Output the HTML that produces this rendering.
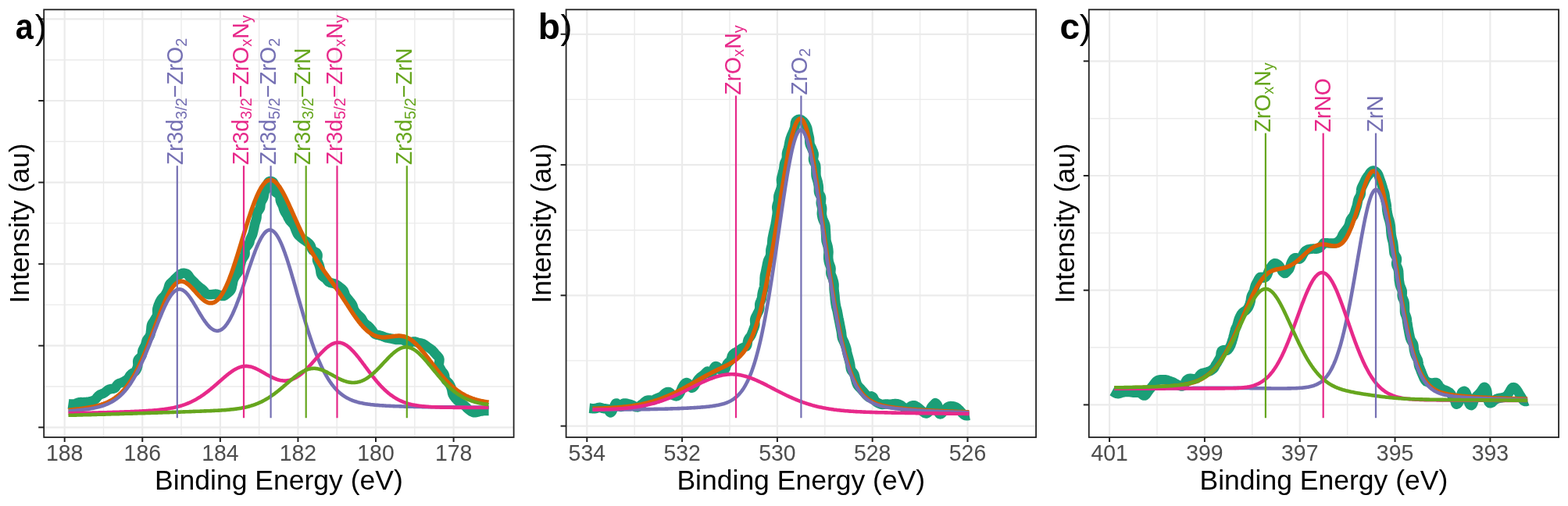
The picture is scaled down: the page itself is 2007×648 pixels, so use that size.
<!DOCTYPE html>
<html><head><meta charset="utf-8"><title>XPS fits</title>
<style>html,body{margin:0;padding:0;background:#fff;width:2007px;height:648px;overflow:hidden}
svg text{font-family:'Liberation Sans', sans-serif}</style></head>
<body>
<svg width="2007" height="648" viewBox="0 0 2007 648" style="display:block">
<rect x="0" y="0" width="2007" height="648" fill="#fff"/>
<defs><clipPath id="clipa"><rect x="56.2" y="12.3" width="601.4" height="547.7"/></clipPath></defs>
<g><line x1="56.2" x2="657.6" y1="495.0" y2="495.0" stroke="#EBEBEB" stroke-width="1.4"/><line x1="56.2" x2="657.6" y1="390.4" y2="390.4" stroke="#EBEBEB" stroke-width="1.4"/><line x1="56.2" x2="657.6" y1="285.9" y2="285.9" stroke="#EBEBEB" stroke-width="1.4"/><line x1="56.2" x2="657.6" y1="181.3" y2="181.3" stroke="#EBEBEB" stroke-width="1.4"/><line x1="56.2" x2="657.6" y1="76.7" y2="76.7" stroke="#EBEBEB" stroke-width="1.4"/><line x1="132.49" x2="132.49" y1="12.3" y2="560.0" stroke="#EBEBEB" stroke-width="1.4"/><line x1="232.07" x2="232.07" y1="12.3" y2="560.0" stroke="#EBEBEB" stroke-width="1.4"/><line x1="331.65" x2="331.65" y1="12.3" y2="560.0" stroke="#EBEBEB" stroke-width="1.4"/><line x1="431.23" x2="431.23" y1="12.3" y2="560.0" stroke="#EBEBEB" stroke-width="1.4"/><line x1="530.81" x2="530.81" y1="12.3" y2="560.0" stroke="#EBEBEB" stroke-width="1.4"/><line x1="56.2" x2="657.6" y1="547.3" y2="547.3" stroke="#EBEBEB" stroke-width="2.2"/><line x1="56.2" x2="657.6" y1="442.7" y2="442.7" stroke="#EBEBEB" stroke-width="2.2"/><line x1="56.2" x2="657.6" y1="338.1" y2="338.1" stroke="#EBEBEB" stroke-width="2.2"/><line x1="56.2" x2="657.6" y1="233.6" y2="233.6" stroke="#EBEBEB" stroke-width="2.2"/><line x1="56.2" x2="657.6" y1="129.0" y2="129.0" stroke="#EBEBEB" stroke-width="2.2"/><line x1="56.2" x2="657.6" y1="24.4" y2="24.4" stroke="#EBEBEB" stroke-width="2.2"/><line x1="82.7" x2="82.7" y1="12.3" y2="560.0" stroke="#EBEBEB" stroke-width="2.2"/><line x1="182.28" x2="182.28" y1="12.3" y2="560.0" stroke="#EBEBEB" stroke-width="2.2"/><line x1="281.86" x2="281.86" y1="12.3" y2="560.0" stroke="#EBEBEB" stroke-width="2.2"/><line x1="381.44" x2="381.44" y1="12.3" y2="560.0" stroke="#EBEBEB" stroke-width="2.2"/><line x1="481.02" x2="481.02" y1="12.3" y2="560.0" stroke="#EBEBEB" stroke-width="2.2"/><line x1="580.6" x2="580.6" y1="12.3" y2="560.0" stroke="#EBEBEB" stroke-width="2.2"/></g>
<g clip-path="url(#clipa)" fill="none" stroke-linejoin="round">
<path d="M87.5,517.2 L88.2,517.3 L89.0,517.4 L90.0,517.5 L91.1,517.6 L92.3,517.6 L93.6,517.6 L94.8,517.5 L96.0,517.1 L97.3,516.7 L98.5,516.1 L99.9,515.6 L101.2,515.3 L102.6,515.1 L104.0,515.1 L105.3,515.2 L106.5,515.2 L107.7,515.1 L108.9,515.1 L110.0,515.0 L111.1,514.8 L112.3,514.7 L113.4,514.6 L114.5,514.4 L115.7,514.1 L116.9,513.8 L118.2,513.4 L119.4,512.9 L120.7,512.3 L121.8,511.5 L122.8,510.6 L123.7,509.6 L124.4,508.6 L125.1,507.8 L125.7,507.2 L126.2,506.8 L126.7,506.4 L127.1,506.1 L127.6,505.7 L128.3,505.3 L129.2,504.9 L130.4,504.4 L132.0,503.8 L133.6,503.0 L135.2,501.8 L136.7,500.5 L138.2,499.4 L139.8,498.6 L141.3,498.2 L142.6,498.0 L143.6,497.9 L144.4,497.8 L145.0,497.7 L145.7,497.6 L146.4,497.3 L147.2,496.7 L148.1,495.7 L149.0,494.2 L150.2,492.7 L150.9,492.0 L151.8,491.4 L152.8,490.9 L153.9,490.5 L155.0,490.2 L156.1,489.8 L157.2,489.3 L158.2,488.8 L159.2,488.2 L160.2,487.6 L161.0,487.1 L161.9,486.5 L163.4,485.2 L164.7,483.6 L165.7,481.9 L166.8,480.3 L168.2,479.0 L169.8,477.9 L171.6,476.8 L172.4,476.1 L173.2,475.4 L173.9,474.5 L174.5,473.6 L175.0,472.5 L175.5,471.5 L175.8,470.3 L176.2,469.2 L176.3,467.9 L176.4,466.6 L176.3,465.3 L176.2,464.0 L176.2,462.7 L176.4,461.5 L176.9,460.5 L177.7,459.5 L178.5,458.6 L179.4,457.8 L180.3,456.9 L181.0,456.1 L181.5,455.1 L181.8,454.1 L182.0,453.1 L182.1,452.0 L182.2,451.0 L182.3,449.9 L182.9,448.0 L183.8,446.2 L184.7,444.5 L185.6,442.9 L186.3,441.2 L186.7,439.5 L187.1,437.9 L187.6,436.3 L188.3,434.9 L189.4,433.4 L190.6,432.0 L191.7,430.3 L192.1,429.3 L192.5,428.2 L192.7,427.1 L192.8,426.0 L193.0,424.7 L193.1,423.5 L193.3,422.3 L193.4,421.1 L193.5,419.8 L193.6,418.5 L193.8,417.3 L194.1,416.1 L194.5,414.9 L195.1,413.9 L195.8,412.8 L196.5,411.8 L197.2,410.8 L197.8,409.8 L198.4,408.8 L199.0,407.8 L199.6,406.8 L200.1,405.7 L200.6,404.7 L201.0,403.6 L201.2,402.5 L201.3,401.4 L201.3,400.2 L201.2,399.0 L201.2,397.9 L201.2,396.8 L201.3,395.7 L201.5,394.7 L201.8,393.7 L202.1,392.7 L202.7,390.8 L203.5,389.0 L204.2,387.2 L205.1,385.5 L206.0,383.9 L207.0,382.5 L208.2,381.1 L209.5,379.8 L210.7,378.6 L211.6,377.4 L212.4,376.1 L213.1,374.9 L213.7,373.6 L214.3,372.3 L214.8,370.9 L215.3,369.5 L215.7,368.0 L216.1,366.5 L216.6,365.1 L217.4,363.8 L218.3,362.7 L219.3,361.8 L220.2,360.9 L221.1,360.1 L221.9,359.3 L222.6,358.6 L223.3,357.8 L224.0,357.2 L224.7,356.5 L225.3,355.9 L225.9,355.3 L226.5,354.7 L227.1,354.2 L227.7,353.6 L228.3,353.0 L229.0,352.5 L229.6,352.0 L230.3,351.6 L230.9,351.2 L231.5,350.9 L232.1,350.6 L232.6,350.3 L233.2,350.0 L233.9,349.9 L234.7,349.8 L235.6,349.8 L236.6,349.9 L237.6,350.2 L238.8,350.6 L239.9,351.4 L240.9,352.4 L241.9,353.7 L242.7,355.0 L243.6,356.3 L244.5,357.4 L245.5,358.4 L246.6,359.4 L247.8,360.5 L248.9,361.7 L250.1,362.9 L251.2,364.1 L252.3,365.2 L253.4,366.1 L254.4,367.0 L255.4,367.8 L256.4,368.6 L257.4,369.3 L258.3,370.0 L259.2,370.7 L260.0,371.4 L260.7,372.2 L261.4,372.9 L261.9,373.7 L262.4,374.3 L262.9,374.9 L263.4,375.5 L263.9,375.9 L264.6,376.4 L265.5,376.7 L266.5,377.0 L267.8,377.2 L269.2,377.2 L270.6,377.2 L272.1,377.1 L273.6,376.8 L275.0,376.7 L276.3,376.6 L277.6,376.8 L278.8,377.1 L279.9,377.5 L280.9,377.9 L281.8,378.3 L282.6,378.7 L283.4,378.9 L284.1,379.1 L284.7,379.1 L285.3,379.1 L285.9,379.1 L286.4,379.0 L286.9,378.8 L287.4,378.6 L288.0,378.2 L288.7,377.7 L289.5,377.1 L290.4,376.3 L291.4,375.5 L292.5,374.7 L293.6,373.7 L294.6,372.6 L295.5,371.4 L296.1,370.1 L296.6,368.7 L296.9,367.1 L297.2,365.6 L297.6,364.0 L297.9,362.4 L298.2,360.7 L298.6,359.1 L299.1,357.6 L299.8,356.1 L300.6,354.7 L301.4,353.3 L302.3,352.0 L303.3,350.6 L304.3,349.3 L305.3,347.8 L306.2,346.2 L306.8,344.3 L307.0,343.3 L307.2,342.3 L307.3,341.2 L307.5,340.1 L307.7,339.0 L308.0,337.9 L308.3,336.8 L308.6,335.7 L308.9,334.7 L309.3,333.6 L309.7,332.6 L310.2,331.6 L310.8,330.7 L311.4,329.8 L312.0,328.9 L312.5,328.0 L313.0,327.1 L313.4,326.1 L313.6,325.1 L313.6,324.0 L313.6,322.9 L313.5,321.8 L313.6,319.8 L314.2,318.0 L315.2,316.4 L316.3,315.1 L317.2,314.0 L317.9,313.1 L318.4,312.3 L318.8,311.5 L319.2,310.7 L319.5,309.8 L319.7,308.7 L320.0,307.4 L320.5,305.9 L321.3,304.2 L322.2,302.4 L322.6,301.4 L323.1,300.4 L323.4,299.4 L323.7,298.4 L323.9,297.3 L324.2,296.3 L324.4,295.3 L324.6,294.2 L324.8,293.2 L325.0,292.3 L325.5,290.3 L325.9,288.4 L326.3,286.5 L326.9,284.6 L327.5,282.7 L328.1,280.8 L328.5,278.8 L328.6,277.8 L328.6,276.8 L328.7,275.7 L328.8,274.7 L328.9,273.7 L329.2,272.7 L329.6,271.7 L330.1,270.8 L330.7,270.0 L331.3,269.1 L331.9,268.2 L332.5,267.3 L332.9,266.4 L333.2,265.4 L333.3,264.3 L333.4,263.3 L333.5,262.2 L333.6,261.2 L333.8,260.1 L334.1,259.1 L334.5,258.1 L335.0,257.2 L335.6,256.2 L336.2,255.3 L336.7,254.3 L337.1,253.4 L337.5,252.4 L337.7,251.3 L337.8,250.3 L338.0,249.3 L338.3,247.3 L338.8,245.6 L339.5,244.1 L340.2,242.7 L340.8,241.3 L341.3,240.0 L341.6,238.7 L341.8,237.5 L342.0,236.3 L342.3,235.2 L342.8,234.3 L343.3,233.5 L344.1,232.8 L345.0,232.3 L346.0,232.0 L347.1,232.0 L348.2,232.4 L349.2,233.0 L350.0,233.9 L350.6,235.0 L351.1,236.3 L351.5,237.7 L351.6,239.2 L351.4,240.9 L351.3,242.5 L351.4,243.8 L351.7,245.0 L352.4,245.9 L353.2,246.6 L354.3,247.3 L355.4,247.9 L356.5,248.6 L357.4,249.5 L358.0,250.5 L358.4,251.7 L358.5,253.1 L358.6,254.5 L358.7,255.9 L359.0,257.3 L359.5,258.7 L360.1,260.1 L360.9,261.6 L361.7,263.3 L362.1,264.3 L362.4,265.3 L362.7,266.4 L363.0,267.5 L363.4,268.6 L363.8,269.7 L364.3,270.7 L364.8,271.7 L365.4,272.6 L366.0,273.6 L367.1,275.2 L367.8,276.7 L368.3,277.8 L368.6,278.5 L368.9,279.0 L369.1,279.4 L369.4,279.8 L369.7,280.3 L370.1,281.1 L370.7,282.2 L371.8,283.6 L372.6,284.4 L373.4,285.2 L374.3,286.2 L375.2,287.1 L375.9,288.2 L376.5,289.3 L377.0,290.5 L377.5,291.7 L377.9,292.8 L378.3,294.0 L378.8,295.0 L379.1,296.0 L379.9,297.7 L380.5,299.1 L381.2,300.2 L381.9,301.2 L382.6,301.9 L383.4,302.6 L384.2,303.3 L385.1,304.1 L386.0,304.9 L387.0,305.7 L388.1,306.5 L389.3,307.3 L390.5,308.1 L391.8,309.0 L393.0,309.8 L394.2,310.7 L395.2,311.7 L396.2,312.6 L396.9,313.6 L397.6,314.6 L398.0,315.7 L398.4,316.8 L398.8,317.9 L399.3,319.1 L399.9,320.1 L400.7,321.0 L401.8,321.8 L403.0,322.4 L404.3,323.1 L405.4,323.9 L406.2,325.1 L406.6,326.4 L406.6,327.9 L406.4,329.4 L406.1,330.7 L405.9,332.0 L406.0,333.3 L406.4,334.5 L406.9,335.7 L407.5,337.0 L408.1,338.2 L408.5,339.4 L408.9,340.7 L409.3,342.1 L409.6,343.4 L409.9,344.8 L410.2,346.1 L410.3,347.4 L410.5,348.7 L410.7,349.9 L411.1,351.0 L411.5,352.1 L412.1,353.1 L412.9,353.9 L413.8,354.6 L414.6,355.2 L415.4,355.7 L416.1,356.2 L416.7,356.6 L417.2,357.0 L417.7,357.5 L418.0,358.0 L418.4,358.5 L418.8,359.0 L419.3,359.7 L419.8,360.3 L420.5,360.8 L421.2,361.2 L421.9,361.6 L422.6,361.9 L423.3,362.1 L423.9,362.3 L424.5,362.4 L425.2,362.6 L425.9,362.8 L426.7,362.9 L427.4,363.1 L428.2,363.3 L429.0,363.6 L429.7,364.0 L430.5,364.4 L431.3,365.0 L432.1,365.6 L433.0,366.2 L433.8,367.0 L434.8,367.7 L435.8,368.5 L436.8,369.3 L437.9,370.1 L438.9,371.1 L439.8,372.2 L440.4,373.5 L441.0,374.9 L441.5,376.5 L442.0,378.0 L442.8,379.5 L443.8,380.8 L444.9,382.2 L446.1,383.6 L447.3,385.1 L448.5,386.6 L449.7,388.2 L450.7,389.7 L451.5,391.3 L452.0,392.9 L452.5,394.4 L452.9,395.7 L453.4,396.9 L454.1,398.0 L454.8,399.1 L455.6,400.1 L456.5,401.2 L457.5,402.3 L458.6,403.4 L459.8,404.5 L461.0,405.6 L462.1,406.8 L463.1,408.1 L463.9,409.5 L464.6,410.9 L465.3,412.1 L466.0,413.2 L466.8,414.0 L467.7,414.8 L468.6,415.4 L469.4,416.1 L470.3,416.7 L471.2,417.3 L472.0,418.1 L472.9,418.9 L473.8,419.8 L474.6,420.8 L475.4,421.8 L476.2,422.8 L476.8,423.8 L477.4,424.8 L478.0,425.8 L478.6,426.6 L479.4,427.3 L480.2,427.9 L481.1,428.3 L482.0,428.6 L482.9,428.8 L483.8,429.0 L484.7,429.2 L485.7,429.4 L486.7,429.7 L487.7,430.0 L488.7,430.3 L489.8,430.7 L490.8,431.1 L491.8,431.5 L492.7,431.9 L493.7,432.2 L494.7,432.5 L495.7,432.7 L496.7,432.9 L497.6,433.1 L498.6,433.2 L499.5,433.4 L500.5,433.6 L501.4,433.7 L502.3,433.9 L503.3,434.2 L504.2,434.4 L505.2,434.6 L506.3,434.8 L507.4,435.0 L508.6,435.1 L509.9,435.1 L511.5,435.0 L513.1,435.0 L514.6,435.1 L516.1,435.5 L517.3,436.1 L518.5,436.7 L519.5,437.2 L520.4,437.6 L521.2,437.8 L521.9,437.9 L522.6,438.0 L523.3,438.0 L523.9,438.0 L524.6,438.0 L525.3,438.0 L526.1,438.0 L526.9,437.9 L527.6,437.8 L528.2,437.7 L528.8,437.6 L529.3,437.5 L529.7,437.4 L530.0,437.4 L530.5,437.4 L531.0,437.5 L531.6,437.7 L532.3,437.9 L533.1,438.1 L533.9,438.4 L534.7,438.7 L535.6,439.0 L536.4,439.1 L537.3,439.3 L538.2,439.4 L539.1,439.6 L540.0,439.8 L540.9,440.0 L541.8,440.4 L542.7,440.9 L543.6,441.5 L544.5,442.1 L545.4,442.8 L546.4,443.6 L547.4,444.3 L548.4,445.0 L549.5,445.7 L550.6,446.4 L551.6,447.2 L552.7,448.0 L553.7,448.9 L554.6,449.9 L555.5,451.0 L556.4,452.0 L557.3,453.1 L558.2,454.1 L559.1,455.0 L560.0,455.9 L560.8,456.8 L561.6,457.8 L562.2,459.0 L562.5,460.5 L562.4,462.2 L562.1,464.2 L561.7,466.2 L561.7,467.2 L561.9,468.2 L562.3,469.2 L562.7,470.2 L563.3,471.2 L563.8,472.2 L564.4,473.3 L565.0,474.4 L565.7,475.4 L566.5,476.4 L567.3,477.4 L568.0,478.4 L568.5,479.4 L568.9,480.4 L569.2,481.5 L569.4,482.7 L569.6,483.9 L569.9,485.1 L570.4,486.3 L571.1,487.3 L571.9,488.2 L572.9,489.1 L573.8,490.0 L574.6,491.0 L575.3,491.9 L575.9,493.0 L576.5,494.1 L576.9,495.1 L577.4,496.2 L577.7,497.3 L578.1,498.4 L578.3,499.5 L578.5,500.6 L578.7,501.8 L578.9,502.9 L579.2,504.0 L579.5,505.0 L580.0,505.9 L580.5,506.8 L581.0,507.7 L582.2,509.2 L583.4,510.6 L584.6,511.8 L585.6,513.0 L586.7,513.9 L587.6,514.8 L588.6,515.5 L589.5,516.2 L590.5,516.7 L591.5,517.3 L592.5,517.9 L593.5,518.5 L594.4,519.2 L595.2,519.9 L596.0,520.6 L596.8,521.4 L597.5,522.3 L598.3,523.1 L599.2,523.9 L600.1,524.6 L601.1,525.4 L602.1,526.1 L603.1,526.8 L604.2,527.4 L605.3,527.9 L606.4,528.2 L607.6,528.3 L608.8,528.2 L609.9,528.0 L611.1,527.7 L612.1,527.4 L613.2,527.1 L614.3,526.9 L615.4,526.7 L616.5,526.5 L617.7,526.3 L618.9,526.1 L620.3,525.9 L621.6,525.9 L622.8,525.9 L623.9,525.9 L624.9,526.0 L625.6,526.0" stroke="#1B9E77" stroke-width="12.5"/>
<path d="M87.5,525.3 L88.5,525.2 L89.5,525.1 L90.5,525.0 L91.5,524.9 L92.5,524.8 L93.5,524.7 L94.5,524.6 L95.5,524.5 L96.5,524.3 L97.5,524.2 L98.5,524.1 L99.5,524.0 L100.5,523.9 L101.5,523.8 L102.5,523.6 L103.5,523.5 L104.5,523.4 L105.5,523.2 L106.5,523.1 L107.5,523.0 L108.5,522.8 L109.5,522.7 L110.5,522.5 L111.5,522.3 L112.5,522.2 L113.5,522.0 L114.5,521.8 L115.5,521.7 L116.5,521.5 L117.5,521.3 L118.5,521.1 L119.5,520.9 L120.5,520.7 L121.5,520.4 L122.5,520.2 L123.5,520.0 L124.5,519.7 L125.5,519.4 L126.5,519.2 L127.5,518.9 L128.5,518.6 L129.5,518.3 L130.5,517.9 L131.5,517.6 L132.5,517.3 L133.5,516.9 L134.5,516.5 L135.5,516.1 L136.5,515.7 L137.5,515.2 L138.5,514.8 L139.5,514.3 L140.5,513.8 L141.5,513.2 L142.5,512.7 L143.5,512.1 L144.5,511.5 L145.5,510.8 L146.5,510.2 L147.5,509.5 L148.5,508.7 L149.5,508.0 L150.5,507.2 L151.5,506.4 L152.5,505.5 L153.5,504.6 L154.5,503.7 L155.5,502.7 L156.5,501.7 L157.5,500.6 L158.5,499.5 L159.5,498.3 L160.5,497.1 L161.5,495.9 L162.5,494.6 L163.5,493.3 L164.5,491.9 L165.5,490.5 L166.5,489.0 L167.5,487.5 L168.5,485.9 L169.5,484.3 L170.5,482.6 L171.5,480.9 L172.5,479.1 L173.5,477.3 L174.5,475.4 L175.5,473.5 L176.5,471.5 L177.5,469.5 L178.5,467.4 L179.5,465.3 L180.5,463.1 L181.5,460.9 L182.5,458.6 L183.5,456.3 L184.5,454.0 L185.5,451.6 L186.5,449.2 L187.5,446.7 L188.5,444.2 L189.5,441.7 L190.5,439.1 L191.5,436.5 L192.5,433.9 L193.5,431.3 L194.5,428.7 L195.5,426.0 L196.5,423.3 L197.5,420.7 L198.5,418.0 L199.5,415.3 L200.5,412.6 L201.5,410.0 L202.5,407.4 L203.5,404.7 L204.5,402.1 L205.5,399.6 L206.5,397.0 L207.5,394.6 L208.5,392.1 L209.5,389.7 L210.5,387.4 L211.5,385.1 L212.5,382.9 L213.5,380.8 L214.5,378.8 L215.5,376.8 L216.5,375.0 L217.5,373.2 L218.5,371.5 L219.5,369.9 L220.5,368.5 L221.5,367.1 L222.5,365.9 L223.5,364.8 L224.5,363.8 L225.5,362.9 L226.5,362.2 L227.5,361.6 L228.5,361.1 L229.5,360.7 L230.5,360.5 L231.5,360.3 L232.5,360.3 L233.5,360.4 L234.5,360.6 L235.5,360.9 L236.5,361.4 L237.5,361.9 L238.5,362.5 L239.5,363.2 L240.5,363.9 L241.5,364.7 L242.5,365.6 L243.5,366.6 L244.5,367.6 L245.5,368.6 L246.5,369.7 L247.5,370.8 L248.5,371.9 L249.5,373.0 L250.5,374.1 L251.5,375.3 L252.5,376.4 L253.5,377.5 L254.5,378.6 L255.5,379.6 L256.5,380.6 L257.5,381.6 L258.5,382.5 L259.5,383.4 L260.5,384.2 L261.5,385.0 L262.5,385.7 L263.5,386.3 L264.5,386.8 L265.5,387.2 L266.5,387.6 L267.5,387.9 L268.5,388.0 L269.5,388.1 L270.5,388.1 L271.5,388.0 L272.5,387.7 L273.5,387.4 L274.5,387.0 L275.5,386.4 L276.5,385.7 L277.5,384.9 L278.5,384.0 L279.5,383.0 L280.5,381.9 L281.5,380.7 L282.5,379.3 L283.5,377.8 L284.5,376.2 L285.5,374.5 L286.5,372.7 L287.5,370.8 L288.5,368.8 L289.5,366.7 L290.5,364.4 L291.5,362.1 L292.5,359.7 L293.5,357.2 L294.5,354.6 L295.5,351.9 L296.5,349.1 L297.5,346.3 L298.5,343.4 L299.5,340.4 L300.5,337.4 L301.5,334.3 L302.5,331.2 L303.5,328.0 L304.5,324.8 L305.5,321.6 L306.5,318.3 L307.5,315.0 L308.5,311.7 L309.5,308.4 L310.5,305.1 L311.5,301.8 L312.5,298.5 L313.5,295.3 L314.5,292.0 L315.5,288.8 L316.5,285.6 L317.5,282.4 L318.5,279.3 L319.5,276.3 L320.5,273.3 L321.5,270.3 L322.5,267.5 L323.5,264.7 L324.5,261.9 L325.5,259.3 L326.5,256.7 L327.5,254.3 L328.5,251.9 L329.5,249.6 L330.5,247.5 L331.5,245.4 L332.5,243.5 L333.5,241.7 L334.5,240.0 L335.5,238.4 L336.5,237.0 L337.5,235.7 L338.5,234.6 L339.5,233.5 L340.5,232.6 L341.5,231.9 L342.5,231.3 L343.5,230.9 L344.5,230.6 L345.5,230.4 L346.5,230.4 L347.5,230.5 L348.5,230.8 L349.5,231.2 L350.5,231.7 L351.5,232.4 L352.5,233.2 L353.5,234.1 L354.5,235.1 L355.5,236.3 L356.5,237.6 L357.5,238.9 L358.5,240.4 L359.5,242.0 L360.5,243.6 L361.5,245.4 L362.5,247.2 L363.5,249.0 L364.5,251.0 L365.5,253.0 L366.5,255.0 L367.5,257.1 L368.5,259.2 L369.5,261.4 L370.5,263.6 L371.5,265.8 L372.5,268.0 L373.5,270.2 L374.5,272.5 L375.5,274.7 L376.5,277.0 L377.5,279.2 L378.5,281.5 L379.5,283.7 L380.5,285.9 L381.5,288.1 L382.5,290.3 L383.5,292.5 L384.5,294.6 L385.5,296.7 L386.5,298.8 L387.5,300.9 L388.5,302.9 L389.5,304.9 L390.5,306.9 L391.5,308.9 L392.5,310.8 L393.5,312.7 L394.5,314.5 L395.5,316.4 L396.5,318.2 L397.5,320.0 L398.5,321.7 L399.5,323.4 L400.5,325.1 L401.5,326.8 L402.5,328.4 L403.5,330.0 L404.5,331.6 L405.5,333.2 L406.5,334.8 L407.5,336.3 L408.5,337.8 L409.5,339.3 L410.5,340.8 L411.5,342.2 L412.5,343.7 L413.5,345.1 L414.5,346.6 L415.5,348.0 L416.5,349.4 L417.5,350.8 L418.5,352.2 L419.5,353.6 L420.5,355.0 L421.5,356.4 L422.5,357.8 L423.5,359.2 L424.5,360.6 L425.5,362.0 L426.5,363.4 L427.5,364.8 L428.5,366.2 L429.5,367.7 L430.5,369.1 L431.5,370.6 L432.5,372.1 L433.5,373.5 L434.5,375.0 L435.5,376.5 L436.5,378.0 L437.5,379.6 L438.5,381.1 L439.5,382.6 L440.5,384.2 L441.5,385.7 L442.5,387.2 L443.5,388.8 L444.5,390.3 L445.5,391.9 L446.5,393.4 L447.5,395.0 L448.5,396.5 L449.5,398.0 L450.5,399.5 L451.5,401.0 L452.5,402.5 L453.5,404.0 L454.5,405.4 L455.5,406.8 L456.5,408.2 L457.5,409.5 L458.5,410.9 L459.5,412.2 L460.5,413.4 L461.5,414.7 L462.5,415.9 L463.5,417.0 L464.5,418.2 L465.5,419.2 L466.5,420.3 L467.5,421.3 L468.5,422.2 L469.5,423.1 L470.5,424.0 L471.5,424.8 L472.5,425.6 L473.5,426.3 L474.5,427.0 L475.5,427.6 L476.5,428.2 L477.5,428.8 L478.5,429.3 L479.5,429.7 L480.5,430.1 L481.5,430.5 L482.5,430.8 L483.5,431.1 L484.5,431.3 L485.5,431.5 L486.5,431.7 L487.5,431.8 L488.5,431.9 L489.5,431.9 L490.5,432.0 L491.5,432.0 L492.5,431.9 L493.5,431.9 L494.5,431.8 L495.5,431.7 L496.5,431.6 L497.5,431.5 L498.5,431.4 L499.5,431.2 L500.5,431.1 L501.5,430.9 L502.5,430.8 L503.5,430.7 L504.5,430.5 L505.5,430.4 L506.5,430.3 L507.5,430.2 L508.5,430.2 L509.5,430.1 L510.5,430.1 L511.5,430.1 L512.5,430.2 L513.5,430.3 L514.5,430.4 L515.5,430.6 L516.5,430.8 L517.5,431.0 L518.5,431.3 L519.5,431.7 L520.5,432.1 L521.5,432.5 L522.5,433.0 L523.5,433.6 L524.5,434.2 L525.5,434.8 L526.5,435.5 L527.5,436.2 L528.5,437.0 L529.5,437.8 L530.5,438.7 L531.5,439.6 L532.5,440.5 L533.5,441.5 L534.5,442.6 L535.5,443.6 L536.5,444.7 L537.5,445.8 L538.5,447.0 L539.5,448.2 L540.5,449.4 L541.5,450.6 L542.5,451.8 L543.5,453.1 L544.5,454.3 L545.5,455.6 L546.5,456.9 L547.5,458.2 L548.5,459.5 L549.5,460.8 L550.5,462.2 L551.5,463.5 L552.5,464.8 L553.5,466.1 L554.5,467.4 L555.5,468.7 L556.5,470.0 L557.5,471.3 L558.5,472.6 L559.5,473.8 L560.5,475.1 L561.5,476.3 L562.5,477.6 L563.5,478.8 L564.5,480.0 L565.5,481.1 L566.5,482.3 L567.5,483.4 L568.5,484.5 L569.5,485.6 L570.5,486.7 L571.5,487.8 L572.5,488.8 L573.5,489.8 L574.5,490.8 L575.5,491.8 L576.5,492.7 L577.5,493.7 L578.5,494.6 L579.5,495.4 L580.5,496.3 L581.5,497.1 L582.5,497.9 L583.5,498.7 L584.5,499.5 L585.5,500.2 L586.5,500.9 L587.5,501.6 L588.5,502.3 L589.5,502.9 L590.5,503.6 L591.5,504.2 L592.5,504.7 L593.5,505.3 L594.5,505.8 L595.5,506.4 L596.5,506.9 L597.5,507.4 L598.5,507.8 L599.5,508.3 L600.5,508.7 L601.5,509.1 L602.5,509.5 L603.5,509.9 L604.5,510.3 L605.5,510.6 L606.5,510.9 L607.5,511.3 L608.5,511.6 L609.5,511.9 L610.5,512.2 L611.5,512.4 L612.5,512.7 L613.5,512.9 L614.5,513.2 L615.5,513.4 L616.5,513.6 L617.5,513.8 L618.5,514.0 L619.5,514.2 L620.5,514.4 L621.5,514.6 L622.5,514.7 L623.5,514.9 L624.5,515.0 L625.5,515.2" stroke="#D95F02" stroke-width="5.5"/>
<path d="M87.5,526.5 L88.5,526.5 L89.5,526.4 L90.5,526.3 L91.5,526.2 L92.5,526.1 L93.5,526.0 L94.5,525.9 L95.5,525.8 L96.5,525.7 L97.5,525.6 L98.5,525.5 L99.5,525.4 L100.5,525.3 L101.5,525.2 L102.5,525.1 L103.5,525.0 L104.5,524.9 L105.5,524.8 L106.5,524.7 L107.5,524.5 L108.5,524.4 L109.5,524.3 L110.5,524.1 L111.5,524.0 L112.5,523.9 L113.5,523.7 L114.5,523.6 L115.5,523.4 L116.5,523.2 L117.5,523.0 L118.5,522.9 L119.5,522.7 L120.5,522.5 L121.5,522.3 L122.5,522.1 L123.5,521.8 L124.5,521.6 L125.5,521.4 L126.5,521.1 L127.5,520.9 L128.5,520.6 L129.5,520.3 L130.5,520.0 L131.5,519.7 L132.5,519.3 L133.5,519.0 L134.5,518.6 L135.5,518.2 L136.5,517.8 L137.5,517.4 L138.5,517.0 L139.5,516.5 L140.5,516.0 L141.5,515.5 L142.5,515.0 L143.5,514.4 L144.5,513.9 L145.5,513.2 L146.5,512.6 L147.5,511.9 L148.5,511.2 L149.5,510.5 L150.5,509.7 L151.5,508.9 L152.5,508.1 L153.5,507.2 L154.5,506.3 L155.5,505.4 L156.5,504.4 L157.5,503.4 L158.5,502.3 L159.5,501.2 L160.5,500.0 L161.5,498.8 L162.5,497.5 L163.5,496.2 L164.5,494.9 L165.5,493.5 L166.5,492.1 L167.5,490.6 L168.5,489.0 L169.5,487.4 L170.5,485.8 L171.5,484.1 L172.5,482.4 L173.5,480.6 L174.5,478.8 L175.5,476.9 L176.5,474.9 L177.5,473.0 L178.5,470.9 L179.5,468.9 L180.5,466.7 L181.5,464.6 L182.5,462.4 L183.5,460.1 L184.5,457.8 L185.5,455.5 L186.5,453.1 L187.5,450.7 L188.5,448.2 L189.5,445.8 L190.5,443.3 L191.5,440.8 L192.5,438.2 L193.5,435.7 L194.5,433.1 L195.5,430.5 L196.5,427.9 L197.5,425.3 L198.5,422.7 L199.5,420.1 L200.5,417.6 L201.5,415.0 L202.5,412.5 L203.5,409.9 L204.5,407.4 L205.5,405.0 L206.5,402.6 L207.5,400.2 L208.5,397.9 L209.5,395.6 L210.5,393.4 L211.5,391.3 L212.5,389.2 L213.5,387.2 L214.5,385.3 L215.5,383.5 L216.5,381.8 L217.5,380.2 L218.5,378.7 L219.5,377.4 L220.5,376.1 L221.5,375.0 L222.5,373.9 L223.5,373.0 L224.5,372.3 L225.5,371.6 L226.5,371.1 L227.5,370.8 L228.5,370.5 L229.5,370.4 L230.5,370.5 L231.5,370.6 L232.5,370.9 L233.5,371.4 L234.5,371.9 L235.5,372.6 L236.5,373.3 L237.5,374.2 L238.5,375.2 L239.5,376.3 L240.5,377.4 L241.5,378.7 L242.5,380.0 L243.5,381.4 L244.5,382.9 L245.5,384.4 L246.5,385.9 L247.5,387.5 L248.5,389.2 L249.5,390.8 L250.5,392.5 L251.5,394.2 L252.5,395.9 L253.5,397.6 L254.5,399.3 L255.5,401.0 L256.5,402.7 L257.5,404.3 L258.5,405.9 L259.5,407.5 L260.5,409.0 L261.5,410.4 L262.5,411.9 L263.5,413.2 L264.5,414.5 L265.5,415.7 L266.5,416.9 L267.5,418.0 L268.5,419.0 L269.5,419.9 L270.5,420.7 L271.5,421.4 L272.5,422.0 L273.5,422.6 L274.5,423.0 L275.5,423.3 L276.5,423.5 L277.5,423.7 L278.5,423.7 L279.5,423.6 L280.5,423.3 L281.5,423.0 L282.5,422.6 L283.5,422.0 L284.5,421.3 L285.5,420.5 L286.5,419.6 L287.5,418.6 L288.5,417.5 L289.5,416.2 L290.5,414.9 L291.5,413.4 L292.5,411.8 L293.5,410.2 L294.5,408.4 L295.5,406.5 L296.5,404.5 L297.5,402.5 L298.5,400.3 L299.5,398.0 L300.5,395.7 L301.5,393.3 L302.5,390.8 L303.5,388.2 L304.5,385.6 L305.5,382.9 L306.5,380.2 L307.5,377.3 L308.5,374.5 L309.5,371.6 L310.5,368.7 L311.5,365.7 L312.5,362.7 L313.5,359.7 L314.5,356.7 L315.5,353.7 L316.5,350.6 L317.5,347.6 L318.5,344.6 L319.5,341.6 L320.5,338.7 L321.5,335.7 L322.5,332.9 L323.5,330.0 L324.5,327.3 L325.5,324.6 L326.5,321.9 L327.5,319.4 L328.5,316.9 L329.5,314.5 L330.5,312.3 L331.5,310.1 L332.5,308.1 L333.5,306.1 L334.5,304.3 L335.5,302.7 L336.5,301.1 L337.5,299.8 L338.5,298.5 L339.5,297.5 L340.5,296.5 L341.5,295.8 L342.5,295.2 L343.5,294.8 L344.5,294.5 L345.5,294.5 L346.5,294.6 L347.5,294.8 L348.5,295.3 L349.5,295.9 L350.5,296.7 L351.5,297.6 L352.5,298.8 L353.5,300.0 L354.5,301.5 L355.5,303.1 L356.5,304.8 L357.5,306.7 L358.5,308.7 L359.5,310.9 L360.5,313.2 L361.5,315.6 L362.5,318.2 L363.5,320.8 L364.5,323.5 L365.5,326.4 L366.5,329.3 L367.5,332.3 L368.5,335.4 L369.5,338.6 L370.5,341.8 L371.5,345.1 L372.5,348.4 L373.5,351.8 L374.5,355.3 L375.5,358.7 L376.5,362.2 L377.5,365.7 L378.5,369.2 L379.5,372.8 L380.5,376.3 L381.5,379.9 L382.5,383.4 L383.5,386.9 L384.5,390.4 L385.5,393.9 L386.5,397.4 L387.5,400.9 L388.5,404.3 L389.5,407.7 L390.5,411.1 L391.5,414.4 L392.5,417.7 L393.5,420.9 L394.5,424.1 L395.5,427.2 L396.5,430.3 L397.5,433.3 L398.5,436.3 L399.5,439.2 L400.5,442.1 L401.5,444.9 L402.5,447.6 L403.5,450.3 L404.5,452.9 L405.5,455.5 L406.5,457.9 L407.5,460.4 L408.5,462.7 L409.5,465.0 L410.5,467.2 L411.5,469.4 L412.5,471.5 L413.5,473.5 L414.5,475.5 L415.5,477.4 L416.5,479.2 L417.5,481.0 L418.5,482.7 L419.5,484.4 L420.5,486.0 L421.5,487.5 L422.5,489.0 L423.5,490.4 L424.5,491.8 L425.5,493.1 L426.5,494.4 L427.5,495.6 L428.5,496.8 L429.5,497.9 L430.5,498.9 L431.5,500.0 L432.5,501.0 L433.5,501.9 L434.5,502.8 L435.5,503.6 L436.5,504.5 L437.5,505.2 L438.5,506.0 L439.5,506.7 L440.5,507.4 L441.5,508.0 L442.5,508.6 L443.5,509.2 L444.5,509.8 L445.5,510.3 L446.5,510.8 L447.5,511.3 L448.5,511.7 L449.5,512.2 L450.5,512.6 L451.5,513.0 L452.5,513.3 L453.5,513.7 L454.5,514.0 L455.5,514.3 L456.5,514.6 L457.5,514.9 L458.5,515.2 L459.5,515.4 L460.5,515.7 L461.5,515.9 L462.5,516.1 L463.5,516.3 L464.5,516.5 L465.5,516.7 L466.5,516.9 L467.5,517.1 L468.5,517.2 L469.5,517.4 L470.5,517.5 L471.5,517.7 L472.5,517.8 L473.5,517.9 L474.5,518.1 L475.5,518.2 L476.5,518.3 L477.5,518.4 L478.5,518.5 L479.5,518.6 L480.5,518.7 L481.5,518.8 L482.5,518.9 L483.5,518.9 L484.5,519.0 L485.5,519.1 L486.5,519.2 L487.5,519.2 L488.5,519.3 L489.5,519.4 L490.5,519.4 L491.5,519.5 L492.5,519.5 L493.5,519.6 L494.5,519.7 L495.5,519.7 L496.5,519.8 L497.5,519.8 L498.5,519.9 L499.5,519.9 L500.5,520.0 L501.5,520.0 L502.5,520.0 L503.5,520.1 L504.5,520.1 L505.5,520.2 L506.5,520.2 L507.5,520.2 L508.5,520.3 L509.5,520.3 L510.5,520.3 L511.5,520.4 L512.5,520.4 L513.5,520.4 L514.5,520.5 L515.5,520.5 L516.5,520.5 L517.5,520.6 L518.5,520.6 L519.5,520.6 L520.5,520.6 L521.5,520.7 L522.5,520.7 L523.5,520.7 L524.5,520.7 L525.5,520.8 L526.5,520.8 L527.5,520.8 L528.5,520.8 L529.5,520.9 L530.5,520.9 L531.5,520.9 L532.5,520.9 L533.5,520.9 L534.5,521.0 L535.5,521.0 L536.5,521.0 L537.5,521.0 L538.5,521.0 L539.5,521.0 L540.5,521.1 L541.5,521.1 L542.5,521.1 L543.5,521.1 L544.5,521.1 L545.5,521.1 L546.5,521.1 L547.5,521.2 L548.5,521.2 L549.5,521.2 L550.5,521.2 L551.5,521.2 L552.5,521.2 L553.5,521.2 L554.5,521.2 L555.5,521.3 L556.5,521.3 L557.5,521.3 L558.5,521.3 L559.5,521.3 L560.5,521.3 L561.5,521.3 L562.5,521.3 L563.5,521.3 L564.5,521.3 L565.5,521.3 L566.5,521.3 L567.5,521.4 L568.5,521.4 L569.5,521.4 L570.5,521.4 L571.5,521.4 L572.5,521.4 L573.5,521.4 L574.5,521.4 L575.5,521.4 L576.5,521.4 L577.5,521.4 L578.5,521.4 L579.5,521.4 L580.5,521.4 L581.5,521.4 L582.5,521.4 L583.5,521.4 L584.5,521.4 L585.5,521.4 L586.5,521.4 L587.5,521.5 L588.5,521.5 L589.5,521.5 L590.5,521.5 L591.5,521.5 L592.5,521.5 L593.5,521.5 L594.5,521.5 L595.5,521.5 L596.5,521.5 L597.5,521.5 L598.5,521.5 L599.5,521.5 L600.5,521.5 L601.5,521.5 L602.5,521.5 L603.5,521.5 L604.5,521.5 L605.5,521.5 L606.5,521.5 L607.5,521.5 L608.5,521.5 L609.5,521.5 L610.5,521.5 L611.5,521.5 L612.5,521.5 L613.5,521.5 L614.5,521.5 L615.5,521.5 L616.5,521.5 L617.5,521.5 L618.5,521.5 L619.5,521.5 L620.5,521.5 L621.5,521.5 L622.5,521.4 L623.5,521.4 L624.5,521.4 L625.5,521.4" stroke="#7570B3" stroke-width="4.6"/>
<path d="M87.5,529.3 L88.5,529.3 L89.5,529.3 L90.5,529.3 L91.5,529.3 L92.5,529.2 L93.5,529.2 L94.5,529.2 L95.5,529.2 L96.5,529.2 L97.5,529.1 L98.5,529.1 L99.5,529.1 L100.5,529.1 L101.5,529.0 L102.5,529.0 L103.5,529.0 L104.5,529.0 L105.5,529.0 L106.5,528.9 L107.5,528.9 L108.5,528.9 L109.5,528.9 L110.5,528.8 L111.5,528.8 L112.5,528.8 L113.5,528.8 L114.5,528.7 L115.5,528.7 L116.5,528.7 L117.5,528.7 L118.5,528.6 L119.5,528.6 L120.5,528.6 L121.5,528.6 L122.5,528.5 L123.5,528.5 L124.5,528.5 L125.5,528.5 L126.5,528.4 L127.5,528.4 L128.5,528.4 L129.5,528.4 L130.5,528.3 L131.5,528.3 L132.5,528.3 L133.5,528.3 L134.5,528.2 L135.5,528.2 L136.5,528.2 L137.5,528.1 L138.5,528.1 L139.5,528.1 L140.5,528.1 L141.5,528.0 L142.5,528.0 L143.5,528.0 L144.5,527.9 L145.5,527.9 L146.5,527.9 L147.5,527.8 L148.5,527.8 L149.5,527.8 L150.5,527.7 L151.5,527.7 L152.5,527.7 L153.5,527.6 L154.5,527.6 L155.5,527.6 L156.5,527.5 L157.5,527.5 L158.5,527.5 L159.5,527.4 L160.5,527.4 L161.5,527.4 L162.5,527.3 L163.5,527.3 L164.5,527.3 L165.5,527.2 L166.5,527.2 L167.5,527.1 L168.5,527.1 L169.5,527.0 L170.5,527.0 L171.5,527.0 L172.5,526.9 L173.5,526.9 L174.5,526.8 L175.5,526.8 L176.5,526.7 L177.5,526.7 L178.5,526.6 L179.5,526.6 L180.5,526.5 L181.5,526.5 L182.5,526.4 L183.5,526.4 L184.5,526.3 L185.5,526.3 L186.5,526.2 L187.5,526.1 L188.5,526.1 L189.5,526.0 L190.5,525.9 L191.5,525.9 L192.5,525.8 L193.5,525.7 L194.5,525.7 L195.5,525.6 L196.5,525.5 L197.5,525.4 L198.5,525.3 L199.5,525.2 L200.5,525.2 L201.5,525.1 L202.5,525.0 L203.5,524.9 L204.5,524.8 L205.5,524.6 L206.5,524.5 L207.5,524.4 L208.5,524.3 L209.5,524.2 L210.5,524.0 L211.5,523.9 L212.5,523.8 L213.5,523.6 L214.5,523.5 L215.5,523.3 L216.5,523.1 L217.5,523.0 L218.5,522.8 L219.5,522.6 L220.5,522.4 L221.5,522.2 L222.5,522.0 L223.5,521.8 L224.5,521.5 L225.5,521.3 L226.5,521.1 L227.5,520.8 L228.5,520.6 L229.5,520.3 L230.5,520.0 L231.5,519.7 L232.5,519.4 L233.5,519.1 L234.5,518.7 L235.5,518.4 L236.5,518.1 L237.5,517.7 L238.5,517.3 L239.5,516.9 L240.5,516.5 L241.5,516.1 L242.5,515.7 L243.5,515.2 L244.5,514.8 L245.5,514.3 L246.5,513.8 L247.5,513.3 L248.5,512.8 L249.5,512.2 L250.5,511.7 L251.5,511.1 L252.5,510.5 L253.5,509.9 L254.5,509.3 L255.5,508.7 L256.5,508.1 L257.5,507.4 L258.5,506.7 L259.5,506.1 L260.5,505.4 L261.5,504.6 L262.5,503.9 L263.5,503.2 L264.5,502.4 L265.5,501.7 L266.5,500.9 L267.5,500.1 L268.5,499.3 L269.5,498.5 L270.5,497.6 L271.5,496.8 L272.5,496.0 L273.5,495.1 L274.5,494.3 L275.5,493.4 L276.5,492.5 L277.5,491.7 L278.5,490.8 L279.5,489.9 L280.5,489.0 L281.5,488.1 L282.5,487.3 L283.5,486.4 L284.5,485.5 L285.5,484.6 L286.5,483.8 L287.5,482.9 L288.5,482.1 L289.5,481.2 L290.5,480.4 L291.5,479.6 L292.5,478.8 L293.5,478.0 L294.5,477.3 L295.5,476.6 L296.5,475.8 L297.5,475.2 L298.5,474.5 L299.5,473.9 L300.5,473.3 L301.5,472.7 L302.5,472.2 L303.5,471.7 L304.5,471.2 L305.5,470.8 L306.5,470.4 L307.5,470.1 L308.5,469.8 L309.5,469.5 L310.5,469.3 L311.5,469.2 L312.5,469.0 L313.5,469.0 L314.5,468.9 L315.5,468.9 L316.5,469.0 L317.5,469.1 L318.5,469.2 L319.5,469.4 L320.5,469.6 L321.5,469.8 L322.5,470.1 L323.5,470.4 L324.5,470.8 L325.5,471.2 L326.5,471.6 L327.5,472.0 L328.5,472.5 L329.5,473.0 L330.5,473.5 L331.5,474.0 L332.5,474.5 L333.5,475.1 L334.5,475.6 L335.5,476.2 L336.5,476.8 L337.5,477.4 L338.5,477.9 L339.5,478.5 L340.5,479.1 L341.5,479.7 L342.5,480.2 L343.5,480.8 L344.5,481.3 L345.5,481.9 L346.5,482.4 L347.5,482.9 L348.5,483.4 L349.5,483.9 L350.5,484.3 L351.5,484.7 L352.5,485.1 L353.5,485.5 L354.5,485.9 L355.5,486.2 L356.5,486.5 L357.5,486.7 L358.5,487.0 L359.5,487.2 L360.5,487.3 L361.5,487.4 L362.5,487.5 L363.5,487.6 L364.5,487.6 L365.5,487.6 L366.5,487.5 L367.5,487.4 L368.5,487.3 L369.5,487.1 L370.5,486.9 L371.5,486.6 L372.5,486.3 L373.5,486.0 L374.5,485.6 L375.5,485.2 L376.5,484.7 L377.5,484.2 L378.5,483.7 L379.5,483.1 L380.5,482.5 L381.5,481.9 L382.5,481.2 L383.5,480.5 L384.5,479.7 L385.5,478.9 L386.5,478.1 L387.5,477.2 L388.5,476.3 L389.5,475.4 L390.5,474.5 L391.5,473.5 L392.5,472.5 L393.5,471.5 L394.5,470.4 L395.5,469.4 L396.5,468.3 L397.5,467.2 L398.5,466.1 L399.5,465.0 L400.5,463.8 L401.5,462.7 L402.5,461.6 L403.5,460.4 L404.5,459.3 L405.5,458.2 L406.5,457.0 L407.5,455.9 L408.5,454.8 L409.5,453.7 L410.5,452.6 L411.5,451.6 L412.5,450.6 L413.5,449.6 L414.5,448.6 L415.5,447.6 L416.5,446.7 L417.5,445.8 L418.5,445.0 L419.5,444.2 L420.5,443.5 L421.5,442.7 L422.5,442.1 L423.5,441.5 L424.5,440.9 L425.5,440.4 L426.5,440.0 L427.5,439.6 L428.5,439.3 L429.5,439.1 L430.5,438.9 L431.5,438.8 L432.5,438.7 L433.5,438.7 L434.5,438.8 L435.5,438.9 L436.5,439.1 L437.5,439.4 L438.5,439.7 L439.5,440.1 L440.5,440.6 L441.5,441.1 L442.5,441.7 L443.5,442.3 L444.5,443.0 L445.5,443.8 L446.5,444.6 L447.5,445.4 L448.5,446.3 L449.5,447.3 L450.5,448.3 L451.5,449.3 L452.5,450.4 L453.5,451.5 L454.5,452.6 L455.5,453.8 L456.5,455.0 L457.5,456.2 L458.5,457.4 L459.5,458.7 L460.5,460.0 L461.5,461.3 L462.5,462.6 L463.5,463.9 L464.5,465.3 L465.5,466.6 L466.5,467.9 L467.5,469.3 L468.5,470.6 L469.5,472.0 L470.5,473.3 L471.5,474.7 L472.5,476.0 L473.5,477.3 L474.5,478.6 L475.5,480.0 L476.5,481.2 L477.5,482.5 L478.5,483.8 L479.5,485.0 L480.5,486.3 L481.5,487.5 L482.5,488.7 L483.5,489.8 L484.5,491.0 L485.5,492.1 L486.5,493.2 L487.5,494.3 L488.5,495.3 L489.5,496.4 L490.5,497.4 L491.5,498.3 L492.5,499.3 L493.5,500.2 L494.5,501.1 L495.5,502.0 L496.5,502.9 L497.5,503.7 L498.5,504.5 L499.5,505.3 L500.5,506.0 L501.5,506.7 L502.5,507.4 L503.5,508.1 L504.5,508.8 L505.5,509.4 L506.5,510.0 L507.5,510.6 L508.5,511.1 L509.5,511.7 L510.5,512.2 L511.5,512.7 L512.5,513.2 L513.5,513.6 L514.5,514.0 L515.5,514.5 L516.5,514.9 L517.5,515.2 L518.5,515.6 L519.5,515.9 L520.5,516.3 L521.5,516.6 L522.5,516.9 L523.5,517.2 L524.5,517.4 L525.5,517.7 L526.5,517.9 L527.5,518.2 L528.5,518.4 L529.5,518.6 L530.5,518.8 L531.5,519.0 L532.5,519.1 L533.5,519.3 L534.5,519.5 L535.5,519.6 L536.5,519.7 L537.5,519.9 L538.5,520.0 L539.5,520.1 L540.5,520.2 L541.5,520.3 L542.5,520.4 L543.5,520.5 L544.5,520.6 L545.5,520.7 L546.5,520.8 L547.5,520.8 L548.5,520.9 L549.5,521.0 L550.5,521.0 L551.5,521.1 L552.5,521.2 L553.5,521.2 L554.5,521.2 L555.5,521.3 L556.5,521.3 L557.5,521.4 L558.5,521.4 L559.5,521.4 L560.5,521.5 L561.5,521.5 L562.5,521.5 L563.5,521.6 L564.5,521.6 L565.5,521.6 L566.5,521.6 L567.5,521.7 L568.5,521.7 L569.5,521.7 L570.5,521.7 L571.5,521.7 L572.5,521.8 L573.5,521.8 L574.5,521.8 L575.5,521.8 L576.5,521.8 L577.5,521.8 L578.5,521.8 L579.5,521.8 L580.5,521.9 L581.5,521.9 L582.5,521.9 L583.5,521.9 L584.5,521.9 L585.5,521.9 L586.5,521.9 L587.5,521.9 L588.5,521.9 L589.5,521.9 L590.5,521.9 L591.5,521.9 L592.5,521.9 L593.5,521.9 L594.5,521.9 L595.5,521.9 L596.5,521.9 L597.5,522.0 L598.5,522.0 L599.5,522.0 L600.5,522.0 L601.5,522.0 L602.5,522.0 L603.5,522.0 L604.5,522.0 L605.5,522.0 L606.5,522.0 L607.5,522.0 L608.5,522.0 L609.5,522.0 L610.5,522.0 L611.5,522.0 L612.5,522.0 L613.5,522.0 L614.5,522.0 L615.5,522.0 L616.5,522.0 L617.5,522.0 L618.5,521.9 L619.5,521.9 L620.5,521.9 L621.5,521.9 L622.5,521.9 L623.5,521.9 L624.5,521.9 L625.5,521.9" stroke="#E7298A" stroke-width="4.6"/>
<path d="M87.5,531.8 L88.5,531.8 L89.5,531.8 L90.5,531.8 L91.5,531.7 L92.5,531.7 L93.5,531.7 L94.5,531.7 L95.5,531.6 L96.5,531.6 L97.5,531.6 L98.5,531.5 L99.5,531.5 L100.5,531.5 L101.5,531.5 L102.5,531.4 L103.5,531.4 L104.5,531.4 L105.5,531.4 L106.5,531.3 L107.5,531.3 L108.5,531.3 L109.5,531.2 L110.5,531.2 L111.5,531.2 L112.5,531.2 L113.5,531.1 L114.5,531.1 L115.5,531.1 L116.5,531.1 L117.5,531.0 L118.5,531.0 L119.5,531.0 L120.5,530.9 L121.5,530.9 L122.5,530.9 L123.5,530.9 L124.5,530.8 L125.5,530.8 L126.5,530.8 L127.5,530.8 L128.5,530.7 L129.5,530.7 L130.5,530.7 L131.5,530.6 L132.5,530.6 L133.5,530.6 L134.5,530.6 L135.5,530.5 L136.5,530.5 L137.5,530.5 L138.5,530.4 L139.5,530.4 L140.5,530.4 L141.5,530.4 L142.5,530.3 L143.5,530.3 L144.5,530.3 L145.5,530.3 L146.5,530.2 L147.5,530.2 L148.5,530.2 L149.5,530.1 L150.5,530.1 L151.5,530.1 L152.5,530.1 L153.5,530.0 L154.5,530.0 L155.5,530.0 L156.5,529.9 L157.5,529.9 L158.5,529.9 L159.5,529.8 L160.5,529.8 L161.5,529.8 L162.5,529.8 L163.5,529.7 L164.5,529.7 L165.5,529.7 L166.5,529.6 L167.5,529.6 L168.5,529.6 L169.5,529.6 L170.5,529.5 L171.5,529.5 L172.5,529.5 L173.5,529.4 L174.5,529.4 L175.5,529.4 L176.5,529.3 L177.5,529.3 L178.5,529.3 L179.5,529.3 L180.5,529.2 L181.5,529.2 L182.5,529.2 L183.5,529.1 L184.5,529.1 L185.5,529.1 L186.5,529.0 L187.5,529.0 L188.5,529.0 L189.5,528.9 L190.5,528.9 L191.5,528.9 L192.5,528.9 L193.5,528.8 L194.5,528.8 L195.5,528.8 L196.5,528.7 L197.5,528.7 L198.5,528.7 L199.5,528.6 L200.5,528.6 L201.5,528.6 L202.5,528.5 L203.5,528.5 L204.5,528.5 L205.5,528.4 L206.5,528.4 L207.5,528.4 L208.5,528.3 L209.5,528.3 L210.5,528.3 L211.5,528.2 L212.5,528.2 L213.5,528.2 L214.5,528.1 L215.5,528.1 L216.5,528.1 L217.5,528.0 L218.5,528.0 L219.5,528.0 L220.5,527.9 L221.5,527.9 L222.5,527.9 L223.5,527.8 L224.5,527.8 L225.5,527.8 L226.5,527.7 L227.5,527.7 L228.5,527.7 L229.5,527.6 L230.5,527.6 L231.5,527.5 L232.5,527.5 L233.5,527.5 L234.5,527.4 L235.5,527.4 L236.5,527.4 L237.5,527.3 L238.5,527.3 L239.5,527.2 L240.5,527.2 L241.5,527.2 L242.5,527.1 L243.5,527.1 L244.5,527.1 L245.5,527.0 L246.5,527.0 L247.5,526.9 L248.5,526.9 L249.5,526.9 L250.5,526.8 L251.5,526.8 L252.5,526.7 L253.5,526.7 L254.5,526.7 L255.5,526.7 L256.5,526.6 L257.5,526.6 L258.5,526.5 L259.5,526.5 L260.5,526.5 L261.5,526.4 L262.5,526.4 L263.5,526.4 L264.5,526.3 L265.5,526.3 L266.5,526.2 L267.5,526.2 L268.5,526.2 L269.5,526.1 L270.5,526.1 L271.5,526.0 L272.5,526.0 L273.5,525.9 L274.5,525.9 L275.5,525.8 L276.5,525.8 L277.5,525.7 L278.5,525.7 L279.5,525.6 L280.5,525.6 L281.5,525.5 L282.5,525.5 L283.5,525.4 L284.5,525.3 L285.5,525.3 L286.5,525.2 L287.5,525.1 L288.5,525.1 L289.5,525.0 L290.5,524.9 L291.5,524.8 L292.5,524.7 L293.5,524.6 L294.5,524.5 L295.5,524.4 L296.5,524.3 L297.5,524.2 L298.5,524.1 L299.5,524.0 L300.5,523.9 L301.5,523.8 L302.5,523.6 L303.5,523.5 L304.5,523.3 L305.5,523.2 L306.5,523.0 L307.5,522.9 L308.5,522.7 L309.5,522.5 L310.5,522.3 L311.5,522.1 L312.5,521.9 L313.5,521.7 L314.5,521.5 L315.5,521.3 L316.5,521.0 L317.5,520.8 L318.5,520.5 L319.5,520.2 L320.5,519.9 L321.5,519.6 L322.5,519.3 L323.5,519.0 L324.5,518.7 L325.5,518.3 L326.5,518.0 L327.5,517.6 L328.5,517.2 L329.5,516.8 L330.5,516.4 L331.5,515.9 L332.5,515.5 L333.5,515.0 L334.5,514.6 L335.5,514.1 L336.5,513.6 L337.5,513.0 L338.5,512.5 L339.5,511.9 L340.5,511.4 L341.5,510.8 L342.5,510.2 L343.5,509.6 L344.5,508.9 L345.5,508.3 L346.5,507.6 L347.5,506.9 L348.5,506.2 L349.5,505.5 L350.5,504.8 L351.5,504.1 L352.5,503.3 L353.5,502.5 L354.5,501.8 L355.5,501.0 L356.5,500.2 L357.5,499.4 L358.5,498.6 L359.5,497.7 L360.5,496.9 L361.5,496.1 L362.5,495.2 L363.5,494.4 L364.5,493.5 L365.5,492.6 L366.5,491.8 L367.5,490.9 L368.5,490.1 L369.5,489.2 L370.5,488.4 L371.5,487.5 L372.5,486.7 L373.5,485.8 L374.5,485.0 L375.5,484.2 L376.5,483.4 L377.5,482.6 L378.5,481.8 L379.5,481.1 L380.5,480.3 L381.5,479.6 L382.5,478.9 L383.5,478.3 L384.5,477.6 L385.5,477.0 L386.5,476.4 L387.5,475.8 L388.5,475.3 L389.5,474.8 L390.5,474.4 L391.5,473.9 L392.5,473.5 L393.5,473.2 L394.5,472.9 L395.5,472.6 L396.5,472.4 L397.5,472.2 L398.5,472.0 L399.5,471.9 L400.5,471.9 L401.5,471.8 L402.5,471.8 L403.5,471.9 L404.5,472.0 L405.5,472.1 L406.5,472.3 L407.5,472.5 L408.5,472.7 L409.5,473.0 L410.5,473.3 L411.5,473.6 L412.5,474.0 L413.5,474.4 L414.5,474.8 L415.5,475.2 L416.5,475.7 L417.5,476.1 L418.5,476.6 L419.5,477.1 L420.5,477.7 L421.5,478.2 L422.5,478.7 L423.5,479.3 L424.5,479.8 L425.5,480.4 L426.5,480.9 L427.5,481.5 L428.5,482.0 L429.5,482.6 L430.5,483.1 L431.5,483.7 L432.5,484.2 L433.5,484.7 L434.5,485.2 L435.5,485.7 L436.5,486.1 L437.5,486.6 L438.5,487.0 L439.5,487.4 L440.5,487.8 L441.5,488.1 L442.5,488.4 L443.5,488.7 L444.5,489.0 L445.5,489.2 L446.5,489.5 L447.5,489.6 L448.5,489.8 L449.5,489.9 L450.5,490.0 L451.5,490.0 L452.5,490.0 L453.5,490.0 L454.5,489.9 L455.5,489.8 L456.5,489.7 L457.5,489.5 L458.5,489.3 L459.5,489.1 L460.5,488.8 L461.5,488.4 L462.5,488.1 L463.5,487.7 L464.5,487.2 L465.5,486.8 L466.5,486.2 L467.5,485.7 L468.5,485.1 L469.5,484.5 L470.5,483.8 L471.5,483.1 L472.5,482.4 L473.5,481.7 L474.5,480.9 L475.5,480.1 L476.5,479.2 L477.5,478.4 L478.5,477.5 L479.5,476.5 L480.5,475.6 L481.5,474.6 L482.5,473.7 L483.5,472.7 L484.5,471.6 L485.5,470.6 L486.5,469.6 L487.5,468.5 L488.5,467.5 L489.5,466.4 L490.5,465.3 L491.5,464.2 L492.5,463.2 L493.5,462.1 L494.5,461.1 L495.5,460.0 L496.5,459.0 L497.5,457.9 L498.5,456.9 L499.5,455.9 L500.5,455.0 L501.5,454.0 L502.5,453.1 L503.5,452.2 L504.5,451.4 L505.5,450.6 L506.5,449.8 L507.5,449.1 L508.5,448.4 L509.5,447.8 L510.5,447.2 L511.5,446.6 L512.5,446.2 L513.5,445.7 L514.5,445.4 L515.5,445.1 L516.5,444.8 L517.5,444.6 L518.5,444.5 L519.5,444.5 L520.5,444.5 L521.5,444.6 L522.5,444.7 L523.5,444.9 L524.5,445.2 L525.5,445.5 L526.5,445.9 L527.5,446.4 L528.5,446.9 L529.5,447.4 L530.5,448.1 L531.5,448.7 L532.5,449.5 L533.5,450.2 L534.5,451.1 L535.5,451.9 L536.5,452.8 L537.5,453.8 L538.5,454.8 L539.5,455.8 L540.5,456.8 L541.5,457.9 L542.5,459.0 L543.5,460.1 L544.5,461.3 L545.5,462.4 L546.5,463.6 L547.5,464.8 L548.5,466.0 L549.5,467.2 L550.5,468.4 L551.5,469.6 L552.5,470.8 L553.5,472.0 L554.5,473.3 L555.5,474.5 L556.5,475.7 L557.5,476.9 L558.5,478.1 L559.5,479.3 L560.5,480.5 L561.5,481.7 L562.5,482.8 L563.5,484.0 L564.5,485.1 L565.5,486.2 L566.5,487.3 L567.5,488.4 L568.5,489.5 L569.5,490.5 L570.5,491.5 L571.5,492.5 L572.5,493.5 L573.5,494.5 L574.5,495.4 L575.5,496.3 L576.5,497.2 L577.5,498.1 L578.5,499.0 L579.5,499.8 L580.5,500.6 L581.5,501.4 L582.5,502.2 L583.5,502.9 L584.5,503.6 L585.5,504.3 L586.5,505.0 L587.5,505.7 L588.5,506.3 L589.5,506.9 L590.5,507.5 L591.5,508.1 L592.5,508.6 L593.5,509.2 L594.5,509.7 L595.5,510.2 L596.5,510.6 L597.5,511.1 L598.5,511.5 L599.5,511.9 L600.5,512.3 L601.5,512.7 L602.5,513.1 L603.5,513.4 L604.5,513.8 L605.5,514.1 L606.5,514.4 L607.5,514.7 L608.5,515.0 L609.5,515.3 L610.5,515.5 L611.5,515.8 L612.5,516.0 L613.5,516.2 L614.5,516.4 L615.5,516.6 L616.5,516.8 L617.5,517.0 L618.5,517.2 L619.5,517.3 L620.5,517.5 L621.5,517.6 L622.5,517.8 L623.5,517.9 L624.5,518.0 L625.5,518.2" stroke="#66A61E" stroke-width="4.6"/>
</g>
<rect x="56.2" y="12.3" width="601.4" height="547.7" fill="none" stroke="#222222" stroke-width="1.8"/>
<g><line x1="82.7" x2="82.7" y1="560.0" y2="566.0" stroke="#222222" stroke-width="2"/><text transform="translate(82.7,590.3) scale(1,1.06)" text-anchor="middle" font-size="28.4" fill="#4D4D4D">188</text><line x1="182.28" x2="182.28" y1="560.0" y2="566.0" stroke="#222222" stroke-width="2"/><text transform="translate(182.28,590.3) scale(1,1.06)" text-anchor="middle" font-size="28.4" fill="#4D4D4D">186</text><line x1="281.86" x2="281.86" y1="560.0" y2="566.0" stroke="#222222" stroke-width="2"/><text transform="translate(281.86,590.3) scale(1,1.06)" text-anchor="middle" font-size="28.4" fill="#4D4D4D">184</text><line x1="381.44" x2="381.44" y1="560.0" y2="566.0" stroke="#222222" stroke-width="2"/><text transform="translate(381.44,590.3) scale(1,1.06)" text-anchor="middle" font-size="28.4" fill="#4D4D4D">182</text><line x1="481.02" x2="481.02" y1="560.0" y2="566.0" stroke="#222222" stroke-width="2"/><text transform="translate(481.02,590.3) scale(1,1.06)" text-anchor="middle" font-size="28.4" fill="#4D4D4D">180</text><line x1="580.6" x2="580.6" y1="560.0" y2="566.0" stroke="#222222" stroke-width="2"/><text transform="translate(580.6,590.3) scale(1,1.06)" text-anchor="middle" font-size="28.4" fill="#4D4D4D">178</text><line x1="49.2" x2="56.2" y1="547.3" y2="547.3" stroke="#222222" stroke-width="2"/><line x1="49.2" x2="56.2" y1="442.7" y2="442.7" stroke="#222222" stroke-width="2"/><line x1="49.2" x2="56.2" y1="338.1" y2="338.1" stroke="#222222" stroke-width="2"/><line x1="49.2" x2="56.2" y1="233.6" y2="233.6" stroke="#222222" stroke-width="2"/><line x1="49.2" x2="56.2" y1="129.0" y2="129.0" stroke="#222222" stroke-width="2"/><line x1="49.2" x2="56.2" y1="24.4" y2="24.4" stroke="#222222" stroke-width="2"/></g>
<text x="356.9" y="626.7" text-anchor="middle" font-size="35.5" fill="#000">Binding Energy (eV)</text>
<text transform="translate(37.0,286) rotate(-90)" text-anchor="middle" font-size="35.5" fill="#000">Intensity (au)</text>
<text transform="translate(19.8,49.9) scale(0.9,1)" font-size="46" font-weight="bold" fill="#000">a</text>
<text x="44.7" y="49.9" font-size="45" fill="#000">)</text>
<line x1="226.8" x2="226.8" y1="535.2" y2="212.20000000000002" stroke="#7570B3" stroke-width="2.2"/>
<text transform="translate(234.0,211.3) rotate(-90) scale(1,1.05)" font-size="28.4" fill="#7570B3"><tspan>Zr3d</tspan><tspan font-size="19.9" dy="4.3">3/2</tspan><tspan dy="-4.3">−ZrO</tspan><tspan font-size="19.9" dy="4.3">2</tspan></text>
<line x1="312.0" x2="312.0" y1="535.2" y2="212.20000000000002" stroke="#E7298A" stroke-width="2.2"/>
<text transform="translate(317.9,211.3) rotate(-90) scale(1,1.05)" font-size="28.4" fill="#E7298A"><tspan>Zr3d</tspan><tspan font-size="19.9" dy="4.3">3/2</tspan><tspan dy="-4.3">−ZrO</tspan><tspan font-size="19.9" dy="4.3">x</tspan><tspan dy="-4.3">N</tspan><tspan font-size="19.9" dy="4.3">y</tspan></text>
<line x1="346.6" x2="346.6" y1="535.2" y2="212.20000000000002" stroke="#7570B3" stroke-width="2.2"/>
<text transform="translate(353.4,211.3) rotate(-90) scale(1,1.05)" font-size="28.4" fill="#7570B3"><tspan>Zr3d</tspan><tspan font-size="19.9" dy="4.3">5/2</tspan><tspan dy="-4.3">−ZrO</tspan><tspan font-size="19.9" dy="4.3">2</tspan></text>
<line x1="391.7" x2="391.7" y1="535.2" y2="212.20000000000002" stroke="#66A61E" stroke-width="2.2"/>
<text transform="translate(396.7,211.3) rotate(-90) scale(1,1.05)" font-size="28.4" fill="#66A61E"><tspan>Zr3d</tspan><tspan font-size="19.9" dy="4.3">3/2</tspan><tspan dy="-4.3">−ZrN</tspan></text>
<line x1="431.5" x2="431.5" y1="535.2" y2="212.20000000000002" stroke="#E7298A" stroke-width="2.2"/>
<text transform="translate(437.5,211.3) rotate(-90) scale(1,1.05)" font-size="28.4" fill="#E7298A"><tspan>Zr3d</tspan><tspan font-size="19.9" dy="4.3">5/2</tspan><tspan dy="-4.3">−ZrO</tspan><tspan font-size="19.9" dy="4.3">x</tspan><tspan dy="-4.3">N</tspan><tspan font-size="19.9" dy="4.3">y</tspan></text>
<line x1="520.8" x2="520.8" y1="535.2" y2="212.20000000000002" stroke="#66A61E" stroke-width="2.2"/>
<text transform="translate(527.1,211.3) rotate(-90) scale(1,1.05)" font-size="28.4" fill="#66A61E"><tspan>Zr3d</tspan><tspan font-size="19.9" dy="4.3">5/2</tspan><tspan dy="-4.3">−ZrN</tspan></text>
<defs><clipPath id="clipb"><rect x="724.6" y="12.3" width="601.4999999999999" height="547.7"/></clipPath></defs>
<g><line x1="724.6" x2="1326.1" y1="461.9" y2="461.9" stroke="#EBEBEB" stroke-width="1.4"/><line x1="724.6" x2="1326.1" y1="294.7" y2="294.7" stroke="#EBEBEB" stroke-width="1.4"/><line x1="724.6" x2="1326.1" y1="127.4" y2="127.4" stroke="#EBEBEB" stroke-width="1.4"/><line x1="812.2" x2="812.2" y1="12.3" y2="560.0" stroke="#EBEBEB" stroke-width="1.4"/><line x1="934.0" x2="934.0" y1="12.3" y2="560.0" stroke="#EBEBEB" stroke-width="1.4"/><line x1="1055.8" x2="1055.8" y1="12.3" y2="560.0" stroke="#EBEBEB" stroke-width="1.4"/><line x1="1177.6" x2="1177.6" y1="12.3" y2="560.0" stroke="#EBEBEB" stroke-width="1.4"/><line x1="724.6" x2="1326.1" y1="545.6" y2="545.6" stroke="#EBEBEB" stroke-width="2.2"/><line x1="724.6" x2="1326.1" y1="378.3" y2="378.3" stroke="#EBEBEB" stroke-width="2.2"/><line x1="724.6" x2="1326.1" y1="211.1" y2="211.1" stroke="#EBEBEB" stroke-width="2.2"/><line x1="724.6" x2="1326.1" y1="43.8" y2="43.8" stroke="#EBEBEB" stroke-width="2.2"/><line x1="751.3" x2="751.3" y1="12.3" y2="560.0" stroke="#EBEBEB" stroke-width="2.2"/><line x1="873.1" x2="873.1" y1="12.3" y2="560.0" stroke="#EBEBEB" stroke-width="2.2"/><line x1="994.9" x2="994.9" y1="12.3" y2="560.0" stroke="#EBEBEB" stroke-width="2.2"/><line x1="1116.7" x2="1116.7" y1="12.3" y2="560.0" stroke="#EBEBEB" stroke-width="2.2"/><line x1="1238.5" x2="1238.5" y1="12.3" y2="560.0" stroke="#EBEBEB" stroke-width="2.2"/></g>
<g clip-path="url(#clipb)" fill="none" stroke-linejoin="round">
<path d="M754.4,522.7 L755.4,522.8 L756.5,523.0 L757.5,523.1 L758.6,523.2 L759.6,523.3 L760.6,523.3 L761.6,523.2 L762.6,523.0 L763.5,522.7 L764.5,522.4 L765.5,522.1 L766.5,521.9 L767.6,521.8 L768.6,521.9 L769.6,522.2 L770.5,522.6 L771.5,522.9 L772.6,523.1 L773.6,523.3 L774.6,523.3 L775.5,523.4 L776.2,523.4 L776.9,523.6 L778.1,524.7 L778.8,525.5 L779.4,526.3 L780.5,527.8 L781.5,528.5 L782.5,527.9 L783.1,527.0 L783.7,526.0 L784.3,524.7 L784.8,523.4 L785.4,522.1 L786.0,520.7 L786.6,519.6 L787.1,518.4 L787.9,516.9 L788.6,516.4 L789.3,516.5 L790.4,517.2 L791.5,518.1 L792.6,519.3 L793.6,520.3 L794.6,521.0 L795.3,521.1 L796.1,520.0 L796.5,519.1 L797.0,518.1 L798.1,516.7 L799.4,516.4 L800.6,516.4 L801.7,516.6 L802.7,516.9 L803.8,517.2 L804.8,517.5 L805.8,517.7 L806.8,518.0 L807.8,518.2 L808.8,518.6 L809.8,519.0 L810.7,519.5 L811.6,520.1 L812.5,520.6 L813.5,521.1 L814.5,521.3 L815.6,521.4 L816.7,521.1 L817.7,520.6 L818.7,520.0 L819.6,519.2 L820.5,518.5 L821.5,517.7 L822.4,517.1 L823.3,516.3 L824.2,515.5 L825.1,514.7 L826.0,513.9 L827.1,513.3 L828.2,512.8 L829.3,512.5 L830.5,512.5 L831.6,512.5 L832.6,512.7 L833.6,512.8 L834.6,512.7 L835.6,512.6 L836.6,512.3 L837.6,511.8 L838.5,511.3 L839.4,510.8 L840.4,510.4 L841.3,510.0 L842.3,509.6 L843.3,509.3 L844.3,508.9 L845.3,508.4 L846.4,507.9 L847.4,507.1 L848.3,506.3 L849.3,505.4 L850.2,504.5 L851.2,503.6 L852.2,502.9 L853.3,502.3 L854.4,501.9 L855.5,501.9 L856.5,502.1 L857.4,502.7 L858.3,503.5 L859.3,504.4 L860.3,505.3 L861.4,506.0 L862.4,506.3 L863.4,506.8 L864.4,507.2 L865.5,507.4 L866.6,507.2 L867.6,506.6 L868.7,505.5 L869.7,504.1 L870.7,502.4 L871.1,501.4 L871.5,500.5 L871.8,499.5 L872.2,498.5 L872.6,497.5 L873.0,496.5 L873.5,495.6 L874.0,494.7 L875.0,493.1 L876.1,491.7 L877.2,490.6 L878.4,490.0 L879.7,490.2 L880.9,491.1 L882.0,492.5 L883.0,493.9 L883.9,495.3 L884.8,496.3 L885.5,496.7 L886.3,496.5 L887.2,495.9 L888.2,494.9 L889.1,493.6 L889.9,492.1 L890.8,490.5 L891.8,489.0 L892.7,487.4 L893.7,486.0 L894.8,484.8 L895.9,483.6 L897.2,482.5 L898.7,481.5 L900.1,480.4 L901.4,479.3 L902.5,478.2 L903.5,477.2 L904.3,476.3 L905.0,475.8 L905.3,475.5 L905.9,475.6 L907.1,476.5 L907.9,477.3 L908.7,478.1 L909.4,478.9 L910.1,479.6 L910.8,480.3 L910.7,480.0 L911.0,479.1 L911.4,478.0 L911.7,476.9 L912.1,475.7 L912.4,474.6 L912.8,473.5 L913.2,472.5 L913.7,471.5 L914.3,470.5 L915.0,469.5 L916.4,469.0 L917.6,469.3 L918.6,470.0 L919.4,471.0 L920.3,471.9 L921.2,472.9 L922.2,473.7 L923.2,474.4 L924.5,474.8 L925.8,474.6 L926.9,474.0 L928.0,472.9 L928.8,471.5 L929.3,469.8 L929.9,468.0 L930.6,466.3 L931.7,465.0 L933.0,463.6 L933.8,462.8 L934.5,462.0 L935.1,461.1 L935.6,460.2 L936.0,459.2 L936.3,458.1 L936.8,456.1 L937.6,454.5 L938.7,453.3 L939.8,452.3 L941.1,451.6 L942.3,451.0 L943.5,450.3 L944.6,449.6 L945.6,448.9 L946.6,448.1 L947.6,447.3 L948.7,446.5 L949.7,445.8 L950.8,445.4 L951.9,444.9 L953.0,444.4 L953.9,443.9 L955.2,443.8 L956.0,442.4 L956.4,441.4 L956.6,440.2 L956.8,439.0 L956.9,437.8 L957.2,436.6 L957.5,435.4 L958.0,434.3 L958.7,433.2 L959.5,432.2 L960.3,431.1 L961.1,429.9 L961.7,428.7 L962.3,427.4 L962.8,426.0 L963.3,424.7 L963.7,423.7 L964.0,422.8 L964.4,421.8 L964.8,420.8 L965.2,419.9 L965.6,418.9 L965.9,417.8 L966.2,416.8 L966.4,415.6 L966.4,414.5 L966.3,413.2 L966.2,412.0 L966.1,410.8 L966.1,409.5 L966.3,408.4 L966.7,407.2 L967.2,406.1 L967.8,404.9 L968.5,403.8 L969.0,402.6 L969.6,401.4 L970.2,400.2 L970.9,399.0 L971.5,397.8 L971.8,396.8 L972.1,395.8 L972.3,394.8 L972.3,393.8 L972.3,392.7 L972.3,391.5 L972.2,390.5 L972.3,389.4 L972.5,388.3 L972.9,387.2 L973.3,386.2 L973.8,385.2 L974.2,384.1 L974.7,383.1 L975.0,382.0 L975.2,380.8 L975.3,379.7 L975.4,378.5 L975.5,377.3 L975.7,376.1 L975.9,375.0 L976.2,373.8 L976.5,372.6 L976.9,371.5 L977.3,370.3 L977.6,369.1 L977.9,367.9 L978.1,366.7 L978.2,365.7 L978.3,364.6 L978.3,363.6 L978.4,362.6 L978.5,361.6 L978.5,360.5 L978.6,359.5 L978.6,358.4 L978.6,357.3 L978.6,356.3 L978.7,355.2 L978.8,354.2 L978.9,353.1 L979.1,352.1 L979.4,351.0 L979.6,350.0 L979.9,348.9 L980.1,347.8 L980.3,346.8 L980.5,345.7 L980.7,344.6 L980.9,343.5 L981.2,342.4 L981.4,341.3 L981.6,340.3 L981.8,339.2 L982.0,338.0 L982.3,336.9 L982.5,335.8 L982.8,334.7 L983.1,333.6 L983.6,332.5 L984.1,331.5 L984.7,330.4 L985.2,329.3 L985.7,328.2 L986.0,327.1 L986.2,325.9 L986.3,324.8 L986.3,323.6 L986.3,322.4 L986.3,321.2 L986.4,320.0 L986.6,318.8 L986.9,317.7 L987.2,316.5 L987.6,315.4 L987.8,314.2 L988.0,313.0 L988.2,311.8 L988.2,310.8 L988.3,309.8 L988.3,308.8 L988.4,307.8 L988.5,306.8 L988.6,305.8 L988.8,304.8 L989.0,303.8 L989.2,302.8 L989.4,301.8 L989.6,300.8 L989.8,299.8 L990.0,298.8 L990.2,297.8 L990.5,296.8 L990.7,295.8 L990.9,294.8 L991.2,293.8 L991.4,292.8 L991.6,291.8 L991.8,290.7 L992.0,289.7 L992.3,288.7 L992.5,287.7 L992.7,286.7 L992.8,285.7 L993.0,284.7 L993.2,283.6 L993.4,282.6 L993.5,281.6 L993.7,280.6 L993.8,279.6 L994.0,278.5 L994.1,277.5 L994.3,276.5 L994.5,275.5 L994.6,274.4 L994.7,273.4 L994.8,272.4 L994.8,271.3 L994.8,270.3 L994.6,269.2 L994.5,268.1 L994.3,267.1 L994.2,266.0 L994.2,264.9 L994.4,263.9 L994.6,262.9 L994.9,261.9 L995.2,260.9 L995.5,259.9 L995.8,258.9 L996.0,257.9 L996.1,256.9 L996.2,255.9 L996.2,254.8 L996.2,253.8 L996.2,252.8 L996.3,251.7 L996.4,250.7 L996.7,249.7 L997.0,248.8 L997.4,247.8 L997.7,246.8 L998.1,245.9 L998.5,244.9 L998.8,243.9 L999.1,243.0 L999.4,242.0 L999.7,241.0 L1000.0,240.1 L1000.2,239.1 L1000.4,237.9 L1000.5,236.7 L1000.4,235.5 L1000.3,234.3 L1000.1,233.0 L1000.0,231.8 L999.9,230.6 L1000.0,229.5 L1000.2,228.3 L1000.4,227.2 L1000.7,226.1 L1001.0,224.9 L1001.3,223.8 L1001.6,222.7 L1001.9,221.6 L1002.2,220.5 L1002.4,219.4 L1002.7,218.3 L1003.0,217.2 L1003.2,216.1 L1003.3,215.0 L1003.5,213.9 L1003.6,212.8 L1003.7,211.7 L1003.9,210.6 L1004.1,209.6 L1004.4,208.6 L1004.9,207.6 L1005.3,206.6 L1005.8,205.6 L1006.2,204.6 L1006.5,203.6 L1006.8,202.6 L1006.9,201.6 L1006.9,200.5 L1006.9,199.5 L1006.9,198.5 L1006.9,197.5 L1007.0,196.4 L1007.2,195.5 L1007.5,194.3 L1007.9,193.1 L1008.3,192.0 L1008.7,190.9 L1009.0,189.8 L1009.3,188.6 L1009.5,187.5 L1009.7,186.4 L1009.9,185.3 L1010.1,184.2 L1010.3,183.1 L1010.5,182.0 L1010.7,181.0 L1011.0,180.0 L1011.3,179.0 L1011.5,178.0 L1011.9,176.8 L1012.4,175.5 L1012.8,174.3 L1013.3,173.2 L1013.8,172.0 L1014.3,170.9 L1014.8,169.9 L1015.2,168.8 L1015.6,167.8 L1016.0,166.8 L1016.3,165.8 L1016.7,164.9 L1017.1,163.5 L1017.4,162.2 L1017.6,160.9 L1017.7,159.5 L1017.8,158.3 L1018.0,157.1 L1018.7,155.2 L1020.0,153.9 L1021.4,153.1 L1022.6,152.8 L1023.6,152.8 L1024.4,153.0 L1025.1,153.3 L1026.0,153.8 L1027.2,154.7 L1028.5,155.8 L1029.2,156.6 L1029.8,157.4 L1030.5,158.4 L1031.1,159.4 L1031.7,160.6 L1032.3,161.8 L1032.9,163.2 L1033.4,164.6 L1033.6,165.7 L1033.8,166.8 L1034.0,167.8 L1034.2,169.0 L1034.5,170.2 L1034.7,171.3 L1035.0,172.6 L1035.3,173.8 L1035.6,175.1 L1035.8,176.1 L1036.0,177.1 L1036.1,178.1 L1036.2,179.1 L1036.2,180.2 L1036.3,181.4 L1036.3,182.5 L1036.5,183.5 L1036.7,184.7 L1037.1,185.8 L1037.5,186.9 L1038.1,187.9 L1038.6,189.0 L1039.1,190.2 L1039.6,191.3 L1040.1,192.5 L1040.5,193.4 L1040.9,194.4 L1041.2,195.4 L1041.5,196.3 L1041.7,197.3 L1041.7,198.4 L1041.6,199.5 L1041.4,200.6 L1041.2,201.8 L1041.0,202.9 L1041.0,204.0 L1041.1,205.1 L1041.4,206.2 L1041.9,207.2 L1042.5,208.2 L1043.1,209.3 L1043.6,210.3 L1044.0,211.4 L1044.2,212.5 L1044.3,213.7 L1044.4,214.9 L1044.4,216.0 L1044.3,217.2 L1044.4,218.4 L1044.4,219.6 L1044.4,220.6 L1044.4,221.7 L1044.4,222.7 L1044.5,223.7 L1044.5,224.7 L1044.7,225.7 L1044.9,226.7 L1045.2,227.7 L1045.5,228.7 L1045.8,229.7 L1046.1,230.7 L1046.4,231.7 L1046.7,232.7 L1046.9,233.7 L1047.1,234.7 L1047.3,235.8 L1047.5,236.8 L1047.7,237.9 L1047.8,238.9 L1047.9,240.0 L1047.9,241.1 L1047.9,242.2 L1047.9,243.2 L1047.9,244.3 L1048.0,245.4 L1048.2,246.5 L1048.5,247.5 L1049.0,248.6 L1049.6,249.6 L1050.1,250.6 L1050.6,251.6 L1050.9,252.7 L1051.1,253.8 L1051.1,254.9 L1051.0,256.0 L1050.9,257.2 L1050.8,258.3 L1050.7,259.5 L1050.8,260.6 L1051.0,261.7 L1051.3,262.8 L1051.6,263.8 L1051.8,264.9 L1052.1,266.0 L1052.2,267.2 L1052.2,268.3 L1052.1,269.5 L1052.0,270.6 L1051.9,271.8 L1051.8,272.9 L1051.8,274.1 L1052.0,275.2 L1052.1,276.3 L1052.4,277.4 L1052.6,278.6 L1052.9,279.7 L1053.3,280.8 L1053.7,281.9 L1054.1,282.9 L1054.7,284.0 L1055.2,285.1 L1055.6,286.2 L1056.0,287.3 L1056.3,288.4 L1056.5,289.5 L1056.6,290.7 L1056.6,291.8 L1056.7,293.0 L1056.8,294.1 L1056.8,295.3 L1056.9,296.4 L1057.0,297.6 L1057.0,298.7 L1057.1,299.9 L1057.2,301.0 L1057.2,302.2 L1057.3,303.3 L1057.3,304.5 L1057.3,305.6 L1057.4,306.8 L1057.5,307.9 L1057.7,309.1 L1058.0,310.2 L1058.3,311.3 L1058.7,312.4 L1059.0,313.5 L1059.3,314.6 L1059.6,315.7 L1059.8,316.8 L1060.0,318.0 L1060.2,319.1 L1060.3,320.2 L1060.4,321.3 L1060.5,322.5 L1060.5,323.6 L1060.4,324.8 L1060.3,325.9 L1060.2,327.1 L1060.2,328.2 L1060.2,329.4 L1060.2,330.5 L1060.3,331.6 L1060.5,332.7 L1060.6,333.8 L1060.8,334.9 L1061.1,336.0 L1061.4,337.1 L1061.8,338.2 L1062.2,339.3 L1062.6,340.3 L1063.0,341.4 L1063.3,342.4 L1063.5,343.5 L1063.6,344.6 L1063.5,345.8 L1063.4,346.9 L1063.3,348.0 L1063.3,349.1 L1063.4,350.2 L1063.6,351.3 L1064.0,352.3 L1064.4,353.3 L1064.8,354.4 L1065.3,355.4 L1065.7,356.4 L1066.0,357.5 L1066.3,358.5 L1066.6,359.5 L1066.9,360.6 L1067.1,361.6 L1067.3,362.6 L1067.5,363.7 L1067.6,364.7 L1067.6,365.8 L1067.6,366.9 L1067.5,367.9 L1067.5,369.0 L1067.5,370.1 L1067.6,371.1 L1067.7,372.1 L1067.8,373.1 L1067.9,374.2 L1068.1,375.2 L1068.2,376.2 L1068.3,377.2 L1068.4,378.2 L1068.5,379.2 L1068.6,380.2 L1068.7,381.3 L1068.7,382.3 L1068.8,383.5 L1069.0,384.6 L1069.1,385.8 L1069.3,387.0 L1069.4,388.2 L1069.6,389.3 L1069.8,390.5 L1070.0,391.6 L1070.2,392.8 L1070.5,393.9 L1070.8,395.0 L1071.1,396.1 L1071.4,397.2 L1071.7,398.3 L1071.9,399.5 L1072.1,400.6 L1072.3,401.6 L1072.5,402.7 L1072.7,403.8 L1072.9,404.9 L1073.1,406.0 L1073.3,407.1 L1073.5,408.1 L1073.8,409.2 L1074.0,410.2 L1074.2,411.3 L1074.4,412.3 L1074.6,413.3 L1074.8,414.4 L1075.0,415.4 L1075.2,416.4 L1075.4,417.4 L1075.6,418.4 L1075.8,419.4 L1076.0,420.5 L1076.2,421.7 L1076.5,422.9 L1076.7,424.1 L1076.9,425.4 L1077.1,426.6 L1077.2,427.8 L1077.3,429.0 L1077.5,430.2 L1077.6,431.4 L1077.9,432.5 L1078.2,433.6 L1078.7,434.7 L1079.2,435.8 L1079.7,436.8 L1080.2,437.9 L1080.7,438.9 L1081.1,439.9 L1081.5,441.0 L1081.9,442.0 L1082.3,443.0 L1082.6,444.0 L1082.9,445.0 L1083.2,446.1 L1083.5,447.1 L1083.7,448.1 L1083.9,449.1 L1084.0,450.1 L1084.2,451.1 L1084.5,452.4 L1084.8,453.7 L1085.1,454.9 L1085.5,456.1 L1085.8,457.3 L1086.2,458.5 L1086.5,459.7 L1086.8,460.9 L1087.1,462.0 L1087.4,463.2 L1087.6,464.3 L1087.9,465.4 L1088.1,466.5 L1088.3,467.6 L1088.4,468.8 L1088.5,469.9 L1088.7,471.0 L1088.9,472.0 L1089.1,473.0 L1089.5,474.0 L1090.1,474.9 L1091.0,476.1 L1092.0,477.3 L1092.8,478.5 L1093.5,479.7 L1093.9,481.0 L1094.3,482.3 L1094.5,483.6 L1094.8,484.9 L1095.1,486.1 L1095.5,487.3 L1095.8,488.4 L1096.1,489.6 L1096.5,490.6 L1096.9,491.7 L1097.3,492.7 L1097.9,493.6 L1098.5,494.4 L1099.2,495.2 L1100.6,496.7 L1101.9,498.0 L1103.1,499.4 L1104.2,500.6 L1105.3,501.9 L1106.3,503.0 L1107.2,504.1 L1108.2,505.2 L1109.1,506.2 L1110.0,507.1 L1110.9,507.9 L1111.8,508.6 L1112.8,509.1 L1113.8,509.5 L1114.0,509.7 L1114.1,508.9 L1115.2,507.2 L1117.1,508.2 L1117.9,509.3 L1118.6,510.6 L1119.3,511.9 L1120.0,513.2 L1121.0,514.3 L1122.2,515.2 L1123.4,515.9 L1124.7,516.5 L1125.9,517.0 L1126.9,517.4 L1127.8,517.7 L1128.7,517.9 L1129.5,517.9 L1130.4,517.9 L1131.3,517.8 L1132.3,517.6 L1133.3,517.5 L1134.4,517.4 L1135.5,517.4 L1136.5,517.6 L1137.5,517.7 L1138.6,517.7 L1139.6,517.7 L1140.7,517.6 L1141.6,517.5 L1142.6,517.4 L1143.6,517.2 L1144.5,517.1 L1145.5,517.0 L1146.4,517.0 L1147.4,517.1 L1148.3,517.2 L1149.3,517.4 L1150.3,517.7 L1151.4,518.1 L1152.4,518.6 L1153.4,519.1 L1154.3,519.8 L1155.2,520.6 L1156.1,521.3 L1157.1,522.1 L1158.1,522.7 L1159.1,523.1 L1160.3,523.3 L1161.4,523.3 L1162.5,522.9 L1163.4,522.4 L1164.2,521.7 L1164.9,520.9 L1165.9,520.2 L1167.1,519.6 L1168.4,519.3 L1169.6,519.2 L1170.6,519.3 L1171.3,519.6 L1172.0,520.0 L1172.9,520.4 L1173.9,521.1 L1175.0,521.9 L1176.2,522.8 L1177.4,523.8 L1178.6,524.9 L1179.7,525.9 L1180.8,526.8 L1181.8,527.6 L1182.7,528.4 L1183.6,529.0 L1184.5,529.4 L1185.6,529.5 L1186.8,529.1 L1188.0,528.3 L1189.1,527.1 L1190.1,525.6 L1191.0,523.9 L1191.8,522.2 L1192.9,520.5 L1194.2,519.1 L1195.4,517.9 L1196.3,516.9 L1196.8,516.4 L1197.0,516.1 L1198.3,516.8 L1199.1,517.7 L1199.8,518.7 L1200.3,519.8 L1200.7,520.9 L1200.8,522.1 L1200.8,523.3 L1200.8,524.5 L1200.8,525.8 L1201.0,527.1 L1201.3,528.4 L1201.8,529.2 L1202.4,530.1 L1203.5,530.5 L1204.5,530.1 L1205.5,529.3 L1206.5,528.3 L1207.6,527.2 L1208.7,526.0 L1209.8,524.9 L1210.8,523.7 L1211.6,522.6 L1212.5,521.7 L1213.4,521.0 L1214.4,520.5 L1215.5,520.2 L1216.5,520.1 L1217.6,520.1 L1218.7,520.2 L1219.8,520.3 L1220.8,520.5 L1221.9,520.8 L1222.9,521.2 L1223.9,521.7 L1224.9,522.3 L1225.8,523.0 L1226.7,523.8 L1227.6,524.6 L1228.5,525.5 L1229.4,526.6 L1230.5,527.8 L1231.6,529.1 L1232.7,530.2 L1233.7,531.1 L1234.6,531.6 L1235.5,532.0 L1236.5,532.2 L1237.6,532.3 L1238.7,532.2 L1239.7,532.1 L1240.8,531.9" stroke="#1B9E77" stroke-width="12.5"/>
<path d="M758.5,523.3 L759.5,523.3 L760.5,523.3 L761.5,523.2 L762.5,523.2 L763.5,523.2 L764.5,523.2 L765.5,523.1 L766.5,523.1 L767.5,523.1 L768.5,523.0 L769.5,523.0 L770.5,523.0 L771.5,522.9 L772.5,522.9 L773.5,522.8 L774.5,522.8 L775.5,522.7 L776.5,522.7 L777.5,522.7 L778.5,522.6 L779.5,522.6 L780.5,522.5 L781.5,522.4 L782.5,522.4 L783.5,522.3 L784.5,522.3 L785.5,522.2 L786.5,522.1 L787.5,522.1 L788.5,522.0 L789.5,521.9 L790.5,521.8 L791.5,521.8 L792.5,521.7 L793.5,521.6 L794.5,521.5 L795.5,521.4 L796.5,521.3 L797.5,521.2 L798.5,521.1 L799.5,521.0 L800.5,520.9 L801.5,520.8 L802.5,520.7 L803.5,520.6 L804.5,520.4 L805.5,520.3 L806.5,520.2 L807.5,520.0 L808.5,519.9 L809.5,519.8 L810.5,519.6 L811.5,519.5 L812.5,519.3 L813.5,519.1 L814.5,519.0 L815.5,518.8 L816.5,518.6 L817.5,518.4 L818.5,518.3 L819.5,518.1 L820.5,517.9 L821.5,517.7 L822.5,517.4 L823.5,517.2 L824.5,517.0 L825.5,516.8 L826.5,516.5 L827.5,516.3 L828.5,516.1 L829.5,515.8 L830.5,515.5 L831.5,515.3 L832.5,515.0 L833.5,514.7 L834.5,514.4 L835.5,514.2 L836.5,513.9 L837.5,513.5 L838.5,513.2 L839.5,512.9 L840.5,512.6 L841.5,512.3 L842.5,511.9 L843.5,511.6 L844.5,511.2 L845.5,510.9 L846.5,510.5 L847.5,510.1 L848.5,509.7 L849.5,509.3 L850.5,508.9 L851.5,508.5 L852.5,508.1 L853.5,507.7 L854.5,507.3 L855.5,506.9 L856.5,506.4 L857.5,506.0 L858.5,505.5 L859.5,505.1 L860.5,504.6 L861.5,504.1 L862.5,503.7 L863.5,503.2 L864.5,502.7 L865.5,502.2 L866.5,501.7 L867.5,501.2 L868.5,500.7 L869.5,500.2 L870.5,499.7 L871.5,499.1 L872.5,498.6 L873.5,498.1 L874.5,497.5 L875.5,497.0 L876.5,496.5 L877.5,495.9 L878.5,495.4 L879.5,494.8 L880.5,494.3 L881.5,493.7 L882.5,493.1 L883.5,492.6 L884.5,492.0 L885.5,491.4 L886.5,490.9 L887.5,490.3 L888.5,489.7 L889.5,489.1 L890.5,488.6 L891.5,488.0 L892.5,487.4 L893.5,486.9 L894.5,486.3 L895.5,485.7 L896.5,485.2 L897.5,484.6 L898.5,484.0 L899.5,483.5 L900.5,482.9 L901.5,482.4 L902.5,481.8 L903.5,481.3 L904.5,480.7 L905.5,480.2 L906.5,479.6 L907.5,479.1 L908.5,478.6 L909.5,478.1 L910.5,477.5 L911.5,477.0 L912.5,476.5 L913.5,476.0 L914.5,475.5 L915.5,475.0 L916.5,474.5 L917.5,474.0 L918.5,473.5 L919.5,473.0 L920.5,472.6 L921.5,472.1 L922.5,471.6 L923.5,471.1 L924.5,470.6 L925.5,470.1 L926.5,469.7 L927.5,469.2 L928.5,468.7 L929.5,468.2 L930.5,467.7 L931.5,467.2 L932.5,466.6 L933.5,466.1 L934.5,465.5 L935.5,465.0 L936.5,464.4 L937.5,463.8 L938.5,463.1 L939.5,462.5 L940.5,461.8 L941.5,461.0 L942.5,460.3 L943.5,459.5 L944.5,458.6 L945.5,457.7 L946.5,456.8 L947.5,455.8 L948.5,454.7 L949.5,453.6 L950.5,452.4 L951.5,451.2 L952.5,449.9 L953.5,448.4 L954.5,447.0 L955.5,445.4 L956.5,443.7 L957.5,441.9 L958.5,440.1 L959.5,438.1 L960.5,436.0 L961.5,433.8 L962.5,431.5 L963.5,429.0 L964.5,426.4 L965.5,423.7 L966.5,420.9 L967.5,417.9 L968.5,414.8 L969.5,411.5 L970.5,408.1 L971.5,404.5 L972.5,400.8 L973.5,396.9 L974.5,392.9 L975.5,388.7 L976.5,384.4 L977.5,379.9 L978.5,375.3 L979.5,370.5 L980.5,365.6 L981.5,360.5 L982.5,355.3 L983.5,350.0 L984.5,344.5 L985.5,338.9 L986.5,333.2 L987.5,327.3 L988.5,321.4 L989.5,315.3 L990.5,309.2 L991.5,303.0 L992.5,296.7 L993.5,290.4 L994.5,284.0 L995.5,277.6 L996.5,271.2 L997.5,264.8 L998.5,258.4 L999.5,252.0 L1000.5,245.6 L1001.5,239.3 L1002.5,233.1 L1003.5,227.0 L1004.5,220.9 L1005.5,215.0 L1006.5,209.3 L1007.5,203.7 L1008.5,198.3 L1009.5,193.1 L1010.5,188.2 L1011.5,183.4 L1012.5,179.0 L1013.5,174.8 L1014.5,170.9 L1015.5,167.4 L1016.5,164.2 L1017.5,161.3 L1018.5,158.8 L1019.5,156.6 L1020.5,154.9 L1021.5,153.6 L1022.5,152.6 L1023.5,152.1 L1024.5,152.0 L1025.5,152.3 L1026.5,153.1 L1027.5,154.2 L1028.5,155.8 L1029.5,157.8 L1030.5,160.2 L1031.5,163.0 L1032.5,166.1 L1033.5,169.7 L1034.5,173.6 L1035.5,177.8 L1036.5,182.3 L1037.5,187.2 L1038.5,192.3 L1039.5,197.7 L1040.5,203.3 L1041.5,209.2 L1042.5,215.3 L1043.5,221.6 L1044.5,228.0 L1045.5,234.6 L1046.5,241.3 L1047.5,248.1 L1048.5,255.1 L1049.5,262.1 L1050.5,269.1 L1051.5,276.2 L1052.5,283.4 L1053.5,290.5 L1054.5,297.7 L1055.5,304.8 L1056.5,311.9 L1057.5,318.9 L1058.5,325.9 L1059.5,332.8 L1060.5,339.6 L1061.5,346.4 L1062.5,353.0 L1063.5,359.6 L1064.5,366.0 L1065.5,372.3 L1066.5,378.5 L1067.5,384.5 L1068.5,390.4 L1069.5,396.1 L1070.5,401.7 L1071.5,407.2 L1072.5,412.4 L1073.5,417.6 L1074.5,422.5 L1075.5,427.3 L1076.5,432.0 L1077.5,436.5 L1078.5,440.8 L1079.5,444.9 L1080.5,448.9 L1081.5,452.8 L1082.5,456.5 L1083.5,460.0 L1084.5,463.4 L1085.5,466.6 L1086.5,469.7 L1087.5,472.6 L1088.5,475.4 L1089.5,478.1 L1090.5,480.7 L1091.5,483.1 L1092.5,485.4 L1093.5,487.6 L1094.5,489.6 L1095.5,491.6 L1096.5,493.4 L1097.5,495.2 L1098.5,496.8 L1099.5,498.4 L1100.5,499.9 L1101.5,501.3 L1102.5,502.6 L1103.5,503.8 L1104.5,505.0 L1105.5,506.1 L1106.5,507.1 L1107.5,508.1 L1108.5,509.0 L1109.5,509.8 L1110.5,510.6 L1111.5,511.4 L1112.5,512.1 L1113.5,512.8 L1114.5,513.4 L1115.5,514.0 L1116.5,514.5 L1117.5,515.0 L1118.5,515.5 L1119.5,516.0 L1120.5,516.4 L1121.5,516.8 L1122.5,517.2 L1123.5,517.6 L1124.5,517.9 L1125.5,518.2 L1126.5,518.5 L1127.5,518.8 L1128.5,519.1 L1129.5,519.4 L1130.5,519.6 L1131.5,519.8 L1132.5,520.1 L1133.5,520.3 L1134.5,520.5 L1135.5,520.7 L1136.5,520.9 L1137.5,521.0 L1138.5,521.2 L1139.5,521.4 L1140.5,521.5 L1141.5,521.7 L1142.5,521.8 L1143.5,522.0 L1144.5,522.1 L1145.5,522.2 L1146.5,522.4 L1147.5,522.5 L1148.5,522.6 L1149.5,522.7 L1150.5,522.8 L1151.5,522.9 L1152.5,523.0 L1153.5,523.1 L1154.5,523.2 L1155.5,523.3 L1156.5,523.4 L1157.5,523.5 L1158.5,523.6 L1159.5,523.7 L1160.5,523.8 L1161.5,523.9 L1162.5,524.0 L1163.5,524.1 L1164.5,524.1 L1165.5,524.2 L1166.5,524.3 L1167.5,524.4 L1168.5,524.5 L1169.5,524.5 L1170.5,524.6 L1171.5,524.7 L1172.5,524.7 L1173.5,524.8 L1174.5,524.9 L1175.5,525.0 L1176.5,525.0 L1177.5,525.1 L1178.5,525.1 L1179.5,525.2 L1180.5,525.3 L1181.5,525.3 L1182.5,525.4 L1183.5,525.5 L1184.5,525.5 L1185.5,525.6 L1186.5,525.6 L1187.5,525.7 L1188.5,525.7 L1189.5,525.8 L1190.5,525.8 L1191.5,525.9 L1192.5,526.0 L1193.5,526.0 L1194.5,526.1 L1195.5,526.1 L1196.5,526.2 L1197.5,526.2 L1198.5,526.3 L1199.5,526.3 L1200.5,526.3 L1201.5,526.4 L1202.5,526.4 L1203.5,526.5 L1204.5,526.5 L1205.5,526.6 L1206.5,526.6 L1207.5,526.7 L1208.5,526.7 L1209.5,526.7 L1210.5,526.8 L1211.5,526.8 L1212.5,526.9 L1213.5,526.9 L1214.5,526.9 L1215.5,527.0 L1216.5,527.0 L1217.5,527.1 L1218.5,527.1 L1219.5,527.1 L1220.5,527.2 L1221.5,527.2 L1222.5,527.3 L1223.5,527.3 L1224.5,527.3 L1225.5,527.4 L1226.5,527.4 L1227.5,527.4 L1228.5,527.5 L1229.5,527.5 L1230.5,527.5 L1231.5,527.6 L1232.5,527.6 L1233.5,527.6 L1234.5,527.7 L1235.5,527.7 L1236.5,527.7 L1237.5,527.8 L1238.5,527.8 L1239.5,527.8 L1240.5,527.8" stroke="#D95F02" stroke-width="5.5"/>
<path d="M758.5,524.6 L759.5,524.6 L760.5,524.6 L761.5,524.6 L762.5,524.6 L763.5,524.6 L764.5,524.6 L765.5,524.6 L766.5,524.6 L767.5,524.6 L768.5,524.6 L769.5,524.6 L770.5,524.6 L771.5,524.6 L772.5,524.6 L773.5,524.6 L774.5,524.5 L775.5,524.5 L776.5,524.5 L777.5,524.5 L778.5,524.5 L779.5,524.5 L780.5,524.5 L781.5,524.5 L782.5,524.5 L783.5,524.5 L784.5,524.5 L785.5,524.5 L786.5,524.5 L787.5,524.5 L788.5,524.5 L789.5,524.5 L790.5,524.5 L791.5,524.5 L792.5,524.5 L793.5,524.5 L794.5,524.5 L795.5,524.5 L796.5,524.4 L797.5,524.4 L798.5,524.4 L799.5,524.4 L800.5,524.4 L801.5,524.4 L802.5,524.4 L803.5,524.4 L804.5,524.4 L805.5,524.4 L806.5,524.4 L807.5,524.4 L808.5,524.3 L809.5,524.3 L810.5,524.3 L811.5,524.3 L812.5,524.3 L813.5,524.3 L814.5,524.3 L815.5,524.3 L816.5,524.3 L817.5,524.3 L818.5,524.2 L819.5,524.2 L820.5,524.2 L821.5,524.2 L822.5,524.2 L823.5,524.2 L824.5,524.2 L825.5,524.1 L826.5,524.1 L827.5,524.1 L828.5,524.1 L829.5,524.1 L830.5,524.1 L831.5,524.1 L832.5,524.0 L833.5,524.0 L834.5,524.0 L835.5,524.0 L836.5,524.0 L837.5,523.9 L838.5,523.9 L839.5,523.9 L840.5,523.9 L841.5,523.9 L842.5,523.8 L843.5,523.8 L844.5,523.8 L845.5,523.8 L846.5,523.8 L847.5,523.7 L848.5,523.7 L849.5,523.7 L850.5,523.7 L851.5,523.6 L852.5,523.6 L853.5,523.6 L854.5,523.6 L855.5,523.5 L856.5,523.5 L857.5,523.5 L858.5,523.4 L859.5,523.4 L860.5,523.4 L861.5,523.3 L862.5,523.3 L863.5,523.3 L864.5,523.2 L865.5,523.2 L866.5,523.2 L867.5,523.1 L868.5,523.1 L869.5,523.1 L870.5,523.0 L871.5,523.0 L872.5,522.9 L873.5,522.9 L874.5,522.9 L875.5,522.8 L876.5,522.8 L877.5,522.7 L878.5,522.7 L879.5,522.6 L880.5,522.6 L881.5,522.5 L882.5,522.5 L883.5,522.4 L884.5,522.4 L885.5,522.3 L886.5,522.3 L887.5,522.2 L888.5,522.1 L889.5,522.1 L890.5,522.0 L891.5,522.0 L892.5,521.9 L893.5,521.8 L894.5,521.7 L895.5,521.7 L896.5,521.6 L897.5,521.5 L898.5,521.4 L899.5,521.4 L900.5,521.3 L901.5,521.2 L902.5,521.1 L903.5,521.0 L904.5,520.9 L905.5,520.8 L906.5,520.7 L907.5,520.6 L908.5,520.5 L909.5,520.3 L910.5,520.2 L911.5,520.1 L912.5,519.9 L913.5,519.8 L914.5,519.6 L915.5,519.5 L916.5,519.3 L917.5,519.1 L918.5,518.9 L919.5,518.7 L920.5,518.5 L921.5,518.3 L922.5,518.1 L923.5,517.8 L924.5,517.6 L925.5,517.3 L926.5,517.0 L927.5,516.7 L928.5,516.3 L929.5,516.0 L930.5,515.6 L931.5,515.2 L932.5,514.7 L933.5,514.2 L934.5,513.7 L935.5,513.2 L936.5,512.6 L937.5,512.0 L938.5,511.4 L939.5,510.7 L940.5,509.9 L941.5,509.1 L942.5,508.3 L943.5,507.4 L944.5,506.4 L945.5,505.4 L946.5,504.3 L947.5,503.1 L948.5,501.9 L949.5,500.6 L950.5,499.2 L951.5,497.7 L952.5,496.1 L953.5,494.5 L954.5,492.7 L955.5,490.8 L956.5,488.9 L957.5,486.8 L958.5,484.6 L959.5,482.3 L960.5,479.8 L961.5,477.3 L962.5,474.6 L963.5,471.7 L964.5,468.8 L965.5,465.7 L966.5,462.4 L967.5,459.0 L968.5,455.4 L969.5,451.7 L970.5,447.9 L971.5,443.9 L972.5,439.7 L973.5,435.4 L974.5,430.9 L975.5,426.2 L976.5,421.4 L977.5,416.5 L978.5,411.3 L979.5,406.1 L980.5,400.6 L981.5,395.1 L982.5,389.4 L983.5,383.5 L984.5,377.5 L985.5,371.4 L986.5,365.2 L987.5,358.8 L988.5,352.4 L989.5,345.8 L990.5,339.2 L991.5,332.4 L992.5,325.7 L993.5,318.8 L994.5,311.9 L995.5,305.0 L996.5,298.1 L997.5,291.2 L998.5,284.2 L999.5,277.3 L1000.5,270.5 L1001.5,263.7 L1002.5,257.0 L1003.5,250.4 L1004.5,243.9 L1005.5,237.5 L1006.5,231.3 L1007.5,225.2 L1008.5,219.4 L1009.5,213.7 L1010.5,208.3 L1011.5,203.2 L1012.5,198.3 L1013.5,193.6 L1014.5,189.3 L1015.5,185.3 L1016.5,181.7 L1017.5,178.4 L1018.5,175.5 L1019.5,173.0 L1020.5,170.8 L1021.5,169.1 L1022.5,167.8 L1023.5,166.9 L1024.5,166.4 L1025.5,166.4 L1026.5,166.7 L1027.5,167.6 L1028.5,168.8 L1029.5,170.4 L1030.5,172.5 L1031.5,175.0 L1032.5,177.8 L1033.5,181.0 L1034.5,184.6 L1035.5,188.5 L1036.5,192.8 L1037.5,197.3 L1038.5,202.2 L1039.5,207.3 L1040.5,212.7 L1041.5,218.3 L1042.5,224.1 L1043.5,230.1 L1044.5,236.3 L1045.5,242.7 L1046.5,249.2 L1047.5,255.8 L1048.5,262.5 L1049.5,269.3 L1050.5,276.1 L1051.5,283.0 L1052.5,290.0 L1053.5,296.9 L1054.5,303.9 L1055.5,310.8 L1056.5,317.7 L1057.5,324.6 L1058.5,331.4 L1059.5,338.1 L1060.5,344.8 L1061.5,351.4 L1062.5,357.9 L1063.5,364.3 L1064.5,370.6 L1065.5,376.8 L1066.5,382.8 L1067.5,388.7 L1068.5,394.5 L1069.5,400.1 L1070.5,405.6 L1071.5,410.9 L1072.5,416.1 L1073.5,421.1 L1074.5,426.0 L1075.5,430.7 L1076.5,435.2 L1077.5,439.6 L1078.5,443.8 L1079.5,447.9 L1080.5,451.8 L1081.5,455.6 L1082.5,459.2 L1083.5,462.6 L1084.5,465.9 L1085.5,469.1 L1086.5,472.1 L1087.5,475.0 L1088.5,477.8 L1089.5,480.4 L1090.5,482.9 L1091.5,485.2 L1092.5,487.5 L1093.5,489.6 L1094.5,491.6 L1095.5,493.5 L1096.5,495.3 L1097.5,497.0 L1098.5,498.7 L1099.5,500.2 L1100.5,501.6 L1101.5,503.0 L1102.5,504.2 L1103.5,505.4 L1104.5,506.6 L1105.5,507.6 L1106.5,508.6 L1107.5,509.6 L1108.5,510.4 L1109.5,511.3 L1110.5,512.0 L1111.5,512.8 L1112.5,513.4 L1113.5,514.1 L1114.5,514.7 L1115.5,515.2 L1116.5,515.8 L1117.5,516.3 L1118.5,516.7 L1119.5,517.2 L1120.5,517.6 L1121.5,518.0 L1122.5,518.3 L1123.5,518.7 L1124.5,519.0 L1125.5,519.3 L1126.5,519.6 L1127.5,519.9 L1128.5,520.1 L1129.5,520.4 L1130.5,520.6 L1131.5,520.8 L1132.5,521.0 L1133.5,521.2 L1134.5,521.4 L1135.5,521.6 L1136.5,521.8 L1137.5,521.9 L1138.5,522.1 L1139.5,522.3 L1140.5,522.4 L1141.5,522.5 L1142.5,522.7 L1143.5,522.8 L1144.5,522.9 L1145.5,523.1 L1146.5,523.2 L1147.5,523.3 L1148.5,523.4 L1149.5,523.5 L1150.5,523.6 L1151.5,523.7 L1152.5,523.8 L1153.5,523.9 L1154.5,524.0 L1155.5,524.1 L1156.5,524.2 L1157.5,524.3 L1158.5,524.4 L1159.5,524.4 L1160.5,524.5 L1161.5,524.6 L1162.5,524.7 L1163.5,524.8 L1164.5,524.8 L1165.5,524.9 L1166.5,525.0 L1167.5,525.1 L1168.5,525.1 L1169.5,525.2 L1170.5,525.3 L1171.5,525.3 L1172.5,525.4 L1173.5,525.5 L1174.5,525.5 L1175.5,525.6 L1176.5,525.6 L1177.5,525.7 L1178.5,525.8 L1179.5,525.8 L1180.5,525.9 L1181.5,525.9 L1182.5,526.0 L1183.5,526.0 L1184.5,526.1 L1185.5,526.2 L1186.5,526.2 L1187.5,526.3 L1188.5,526.3 L1189.5,526.4 L1190.5,526.4 L1191.5,526.5 L1192.5,526.5 L1193.5,526.6 L1194.5,526.6 L1195.5,526.6 L1196.5,526.7 L1197.5,526.7 L1198.5,526.8 L1199.5,526.8 L1200.5,526.9 L1201.5,526.9 L1202.5,527.0 L1203.5,527.0 L1204.5,527.0 L1205.5,527.1 L1206.5,527.1 L1207.5,527.2 L1208.5,527.2 L1209.5,527.2 L1210.5,527.3 L1211.5,527.3 L1212.5,527.3 L1213.5,527.4 L1214.5,527.4 L1215.5,527.5 L1216.5,527.5 L1217.5,527.5 L1218.5,527.6 L1219.5,527.6 L1220.5,527.6 L1221.5,527.7 L1222.5,527.7 L1223.5,527.7 L1224.5,527.8 L1225.5,527.8 L1226.5,527.8 L1227.5,527.9 L1228.5,527.9 L1229.5,527.9 L1230.5,528.0 L1231.5,528.0 L1232.5,528.0 L1233.5,528.0 L1234.5,528.1 L1235.5,528.1 L1236.5,528.1 L1237.5,528.2 L1238.5,528.2 L1239.5,528.2 L1240.5,528.2" stroke="#7570B3" stroke-width="4.6"/>
<path d="M758.5,524.7 L759.5,524.7 L760.5,524.7 L761.5,524.6 L762.5,524.6 L763.5,524.6 L764.5,524.6 L765.5,524.6 L766.5,524.5 L767.5,524.5 L768.5,524.5 L769.5,524.5 L770.5,524.5 L771.5,524.4 L772.5,524.4 L773.5,524.4 L774.5,524.3 L775.5,524.3 L776.5,524.3 L777.5,524.2 L778.5,524.2 L779.5,524.2 L780.5,524.1 L781.5,524.1 L782.5,524.0 L783.5,524.0 L784.5,523.9 L785.5,523.9 L786.5,523.8 L787.5,523.8 L788.5,523.7 L789.5,523.7 L790.5,523.6 L791.5,523.5 L792.5,523.5 L793.5,523.4 L794.5,523.3 L795.5,523.3 L796.5,523.2 L797.5,523.1 L798.5,523.0 L799.5,522.9 L800.5,522.8 L801.5,522.7 L802.5,522.6 L803.5,522.5 L804.5,522.4 L805.5,522.3 L806.5,522.2 L807.5,522.1 L808.5,522.0 L809.5,521.8 L810.5,521.7 L811.5,521.6 L812.5,521.4 L813.5,521.3 L814.5,521.1 L815.5,521.0 L816.5,520.8 L817.5,520.7 L818.5,520.5 L819.5,520.3 L820.5,520.2 L821.5,520.0 L822.5,519.8 L823.5,519.6 L824.5,519.4 L825.5,519.2 L826.5,519.0 L827.5,518.8 L828.5,518.5 L829.5,518.3 L830.5,518.1 L831.5,517.8 L832.5,517.6 L833.5,517.3 L834.5,517.1 L835.5,516.8 L836.5,516.5 L837.5,516.3 L838.5,516.0 L839.5,515.7 L840.5,515.4 L841.5,515.1 L842.5,514.8 L843.5,514.5 L844.5,514.1 L845.5,513.8 L846.5,513.5 L847.5,513.1 L848.5,512.8 L849.5,512.4 L850.5,512.1 L851.5,511.7 L852.5,511.3 L853.5,510.9 L854.5,510.6 L855.5,510.2 L856.5,509.8 L857.5,509.4 L858.5,509.0 L859.5,508.5 L860.5,508.1 L861.5,507.7 L862.5,507.3 L863.5,506.8 L864.5,506.4 L865.5,505.9 L866.5,505.5 L867.5,505.0 L868.5,504.5 L869.5,504.1 L870.5,503.6 L871.5,503.1 L872.5,502.7 L873.5,502.2 L874.5,501.7 L875.5,501.2 L876.5,500.7 L877.5,500.2 L878.5,499.7 L879.5,499.2 L880.5,498.7 L881.5,498.2 L882.5,497.7 L883.5,497.2 L884.5,496.7 L885.5,496.2 L886.5,495.7 L887.5,495.2 L888.5,494.7 L889.5,494.2 L890.5,493.7 L891.5,493.2 L892.5,492.7 L893.5,492.2 L894.5,491.7 L895.5,491.2 L896.5,490.8 L897.5,490.3 L898.5,489.8 L899.5,489.3 L900.5,488.9 L901.5,488.4 L902.5,488.0 L903.5,487.5 L904.5,487.1 L905.5,486.7 L906.5,486.3 L907.5,485.8 L908.5,485.4 L909.5,485.0 L910.5,484.7 L911.5,484.3 L912.5,483.9 L913.5,483.6 L914.5,483.2 L915.5,482.9 L916.5,482.6 L917.5,482.3 L918.5,482.0 L919.5,481.7 L920.5,481.4 L921.5,481.2 L922.5,481.0 L923.5,480.7 L924.5,480.5 L925.5,480.3 L926.5,480.2 L927.5,480.0 L928.5,479.9 L929.5,479.7 L930.5,479.6 L931.5,479.5 L932.5,479.4 L933.5,479.4 L934.5,479.3 L935.5,479.3 L936.5,479.3 L937.5,479.3 L938.5,479.3 L939.5,479.4 L940.5,479.4 L941.5,479.5 L942.5,479.6 L943.5,479.7 L944.5,479.8 L945.5,480.0 L946.5,480.1 L947.5,480.3 L948.5,480.5 L949.5,480.7 L950.5,480.9 L951.5,481.2 L952.5,481.4 L953.5,481.7 L954.5,482.0 L955.5,482.3 L956.5,482.6 L957.5,482.9 L958.5,483.2 L959.5,483.6 L960.5,483.9 L961.5,484.3 L962.5,484.7 L963.5,485.1 L964.5,485.5 L965.5,485.9 L966.5,486.3 L967.5,486.7 L968.5,487.2 L969.5,487.6 L970.5,488.1 L971.5,488.5 L972.5,489.0 L973.5,489.5 L974.5,490.0 L975.5,490.4 L976.5,490.9 L977.5,491.4 L978.5,491.9 L979.5,492.4 L980.5,492.9 L981.5,493.4 L982.5,494.0 L983.5,494.5 L984.5,495.0 L985.5,495.5 L986.5,496.0 L987.5,496.6 L988.5,497.1 L989.5,497.6 L990.5,498.1 L991.5,498.6 L992.5,499.2 L993.5,499.7 L994.5,500.2 L995.5,500.7 L996.5,501.2 L997.5,501.7 L998.5,502.2 L999.5,502.8 L1000.5,503.3 L1001.5,503.8 L1002.5,504.3 L1003.5,504.7 L1004.5,505.2 L1005.5,505.7 L1006.5,506.2 L1007.5,506.7 L1008.5,507.2 L1009.5,507.6 L1010.5,508.1 L1011.5,508.5 L1012.5,509.0 L1013.5,509.4 L1014.5,509.9 L1015.5,510.3 L1016.5,510.7 L1017.5,511.2 L1018.5,511.6 L1019.5,512.0 L1020.5,512.4 L1021.5,512.8 L1022.5,513.2 L1023.5,513.6 L1024.5,514.0 L1025.5,514.3 L1026.5,514.7 L1027.5,515.1 L1028.5,515.4 L1029.5,515.8 L1030.5,516.1 L1031.5,516.4 L1032.5,516.8 L1033.5,517.1 L1034.5,517.4 L1035.5,517.7 L1036.5,518.0 L1037.5,518.3 L1038.5,518.6 L1039.5,518.9 L1040.5,519.2 L1041.5,519.4 L1042.5,519.7 L1043.5,520.0 L1044.5,520.2 L1045.5,520.5 L1046.5,520.7 L1047.5,521.0 L1048.5,521.2 L1049.5,521.4 L1050.5,521.6 L1051.5,521.8 L1052.5,522.0 L1053.5,522.2 L1054.5,522.4 L1055.5,522.6 L1056.5,522.8 L1057.5,523.0 L1058.5,523.2 L1059.5,523.3 L1060.5,523.5 L1061.5,523.7 L1062.5,523.8 L1063.5,524.0 L1064.5,524.1 L1065.5,524.3 L1066.5,524.4 L1067.5,524.6 L1068.5,524.7 L1069.5,524.8 L1070.5,524.9 L1071.5,525.1 L1072.5,525.2 L1073.5,525.3 L1074.5,525.4 L1075.5,525.5 L1076.5,525.6 L1077.5,525.7 L1078.5,525.8 L1079.5,525.9 L1080.5,526.0 L1081.5,526.1 L1082.5,526.2 L1083.5,526.3 L1084.5,526.3 L1085.5,526.4 L1086.5,526.5 L1087.5,526.6 L1088.5,526.6 L1089.5,526.7 L1090.5,526.8 L1091.5,526.8 L1092.5,526.9 L1093.5,527.0 L1094.5,527.0 L1095.5,527.1 L1096.5,527.1 L1097.5,527.2 L1098.5,527.2 L1099.5,527.3 L1100.5,527.3 L1101.5,527.4 L1102.5,527.4 L1103.5,527.5 L1104.5,527.5 L1105.5,527.6 L1106.5,527.6 L1107.5,527.6 L1108.5,527.7 L1109.5,527.7 L1110.5,527.8 L1111.5,527.8 L1112.5,527.8 L1113.5,527.9 L1114.5,527.9 L1115.5,527.9 L1116.5,528.0 L1117.5,528.0 L1118.5,528.0 L1119.5,528.0 L1120.5,528.1 L1121.5,528.1 L1122.5,528.1 L1123.5,528.2 L1124.5,528.2 L1125.5,528.2 L1126.5,528.2 L1127.5,528.3 L1128.5,528.3 L1129.5,528.3 L1130.5,528.3 L1131.5,528.3 L1132.5,528.4 L1133.5,528.4 L1134.5,528.4 L1135.5,528.4 L1136.5,528.5 L1137.5,528.5 L1138.5,528.5 L1139.5,528.5 L1140.5,528.5 L1141.5,528.6 L1142.5,528.6 L1143.5,528.6 L1144.5,528.6 L1145.5,528.6 L1146.5,528.6 L1147.5,528.7 L1148.5,528.7 L1149.5,528.7 L1150.5,528.7 L1151.5,528.7 L1152.5,528.8 L1153.5,528.8 L1154.5,528.8 L1155.5,528.8 L1156.5,528.8 L1157.5,528.8 L1158.5,528.9 L1159.5,528.9 L1160.5,528.9 L1161.5,528.9 L1162.5,528.9 L1163.5,528.9 L1164.5,528.9 L1165.5,529.0 L1166.5,529.0 L1167.5,529.0 L1168.5,529.0 L1169.5,529.0 L1170.5,529.0 L1171.5,529.0 L1172.5,529.1 L1173.5,529.1 L1174.5,529.1 L1175.5,529.1 L1176.5,529.1 L1177.5,529.1 L1178.5,529.1 L1179.5,529.2 L1180.5,529.2 L1181.5,529.2 L1182.5,529.2 L1183.5,529.2 L1184.5,529.2 L1185.5,529.2 L1186.5,529.3 L1187.5,529.3 L1188.5,529.3 L1189.5,529.3 L1190.5,529.3 L1191.5,529.3 L1192.5,529.3 L1193.5,529.4 L1194.5,529.4 L1195.5,529.4 L1196.5,529.4 L1197.5,529.4 L1198.5,529.4 L1199.5,529.4 L1200.5,529.4 L1201.5,529.5 L1202.5,529.5 L1203.5,529.5 L1204.5,529.5 L1205.5,529.5 L1206.5,529.5 L1207.5,529.5 L1208.5,529.5 L1209.5,529.6 L1210.5,529.6 L1211.5,529.6 L1212.5,529.6 L1213.5,529.6 L1214.5,529.6 L1215.5,529.6 L1216.5,529.6 L1217.5,529.7 L1218.5,529.7 L1219.5,529.7 L1220.5,529.7 L1221.5,529.7 L1222.5,529.7 L1223.5,529.7 L1224.5,529.7 L1225.5,529.8 L1226.5,529.8 L1227.5,529.8 L1228.5,529.8 L1229.5,529.8 L1230.5,529.8 L1231.5,529.8 L1232.5,529.8 L1233.5,529.8 L1234.5,529.9 L1235.5,529.9 L1236.5,529.9 L1237.5,529.9 L1238.5,529.9 L1239.5,529.9 L1240.5,529.9" stroke="#E7298A" stroke-width="4.6"/>
</g>
<rect x="724.6" y="12.3" width="601.5" height="547.7" fill="none" stroke="#222222" stroke-width="1.8"/>
<g><line x1="751.3" x2="751.3" y1="560.0" y2="566.0" stroke="#222222" stroke-width="2"/><text transform="translate(751.3,590.3) scale(1,1.06)" text-anchor="middle" font-size="28.4" fill="#4D4D4D">534</text><line x1="873.1" x2="873.1" y1="560.0" y2="566.0" stroke="#222222" stroke-width="2"/><text transform="translate(873.1,590.3) scale(1,1.06)" text-anchor="middle" font-size="28.4" fill="#4D4D4D">532</text><line x1="994.9" x2="994.9" y1="560.0" y2="566.0" stroke="#222222" stroke-width="2"/><text transform="translate(994.9,590.3) scale(1,1.06)" text-anchor="middle" font-size="28.4" fill="#4D4D4D">530</text><line x1="1116.7" x2="1116.7" y1="560.0" y2="566.0" stroke="#222222" stroke-width="2"/><text transform="translate(1116.7,590.3) scale(1,1.06)" text-anchor="middle" font-size="28.4" fill="#4D4D4D">528</text><line x1="1238.5" x2="1238.5" y1="560.0" y2="566.0" stroke="#222222" stroke-width="2"/><text transform="translate(1238.5,590.3) scale(1,1.06)" text-anchor="middle" font-size="28.4" fill="#4D4D4D">526</text><line x1="717.6" x2="724.6" y1="545.6" y2="545.6" stroke="#222222" stroke-width="2"/><line x1="717.6" x2="724.6" y1="378.3" y2="378.3" stroke="#222222" stroke-width="2"/><line x1="717.6" x2="724.6" y1="211.1" y2="211.1" stroke="#222222" stroke-width="2"/><line x1="717.6" x2="724.6" y1="43.8" y2="43.8" stroke="#222222" stroke-width="2"/></g>
<text x="1025.3" y="626.7" text-anchor="middle" font-size="35.5" fill="#000">Binding Energy (eV)</text>
<text transform="translate(705.4,286) rotate(-90)" text-anchor="middle" font-size="35.5" fill="#000">Intensity (au)</text>
<text transform="translate(688.7,49.9) scale(1.0,1)" font-size="46" font-weight="bold" fill="#000">b</text>
<text x="717.6" y="49.9" font-size="45" fill="#000">)</text>
<line x1="942.0" x2="942.0" y1="535.2" y2="122.6" stroke="#E7298A" stroke-width="2.2"/>
<text transform="translate(947.8,121.7) rotate(-90) scale(1,1.05)" font-size="28.4" fill="#E7298A"><tspan>ZrO</tspan><tspan font-size="19.9" dy="4.3">x</tspan><tspan dy="-4.3">N</tspan><tspan font-size="19.9" dy="4.3">y</tspan></text>
<line x1="1025.4" x2="1025.4" y1="535.2" y2="122.6" stroke="#7570B3" stroke-width="2.2"/>
<text transform="translate(1032.8,121.7) rotate(-90) scale(1,1.05)" font-size="28.4" fill="#7570B3"><tspan>ZrO</tspan><tspan font-size="19.9" dy="4.3">2</tspan></text>
<defs><clipPath id="clipc"><rect x="1393.8" y="12.3" width="601.3" height="547.7"/></clipPath></defs>
<g><line x1="1393.8" x2="1995.1" y1="445.0" y2="445.0" stroke="#EBEBEB" stroke-width="1.4"/><line x1="1393.8" x2="1995.1" y1="298.4" y2="298.4" stroke="#EBEBEB" stroke-width="1.4"/><line x1="1393.8" x2="1995.1" y1="151.7" y2="151.7" stroke="#EBEBEB" stroke-width="1.4"/><line x1="1481.01" x2="1481.01" y1="12.3" y2="560.0" stroke="#EBEBEB" stroke-width="1.4"/><line x1="1602.83" x2="1602.83" y1="12.3" y2="560.0" stroke="#EBEBEB" stroke-width="1.4"/><line x1="1724.65" x2="1724.65" y1="12.3" y2="560.0" stroke="#EBEBEB" stroke-width="1.4"/><line x1="1846.47" x2="1846.47" y1="12.3" y2="560.0" stroke="#EBEBEB" stroke-width="1.4"/><line x1="1393.8" x2="1995.1" y1="518.4" y2="518.4" stroke="#EBEBEB" stroke-width="2.2"/><line x1="1393.8" x2="1995.1" y1="371.7" y2="371.7" stroke="#EBEBEB" stroke-width="2.2"/><line x1="1393.8" x2="1995.1" y1="225.0" y2="225.0" stroke="#EBEBEB" stroke-width="2.2"/><line x1="1393.8" x2="1995.1" y1="78.3" y2="78.3" stroke="#EBEBEB" stroke-width="2.2"/><line x1="1420.1" x2="1420.1" y1="12.3" y2="560.0" stroke="#EBEBEB" stroke-width="2.2"/><line x1="1541.92" x2="1541.92" y1="12.3" y2="560.0" stroke="#EBEBEB" stroke-width="2.2"/><line x1="1663.74" x2="1663.74" y1="12.3" y2="560.0" stroke="#EBEBEB" stroke-width="2.2"/><line x1="1785.56" x2="1785.56" y1="12.3" y2="560.0" stroke="#EBEBEB" stroke-width="2.2"/><line x1="1907.38" x2="1907.38" y1="12.3" y2="560.0" stroke="#EBEBEB" stroke-width="2.2"/></g>
<g clip-path="url(#clipc)" fill="none" stroke-linejoin="round">
<path d="M1423.5,500.8 L1424.4,501.3 L1425.3,501.9 L1426.2,502.5 L1427.2,503.1 L1428.1,503.5 L1429.1,503.9 L1430.1,504.1 L1431.2,504.2 L1432.2,504.1 L1433.2,503.8 L1434.2,503.5 L1435.2,503.1 L1436.2,502.8 L1437.2,502.5 L1438.2,502.3 L1439.2,502.2 L1440.2,502.0 L1441.2,502.0 L1442.3,501.9 L1443.3,501.9 L1444.2,501.9 L1445.2,502.0 L1446.2,502.1 L1447.2,502.2 L1448.1,502.4 L1449.1,502.5 L1450.1,502.7 L1451.1,502.7 L1452.1,502.8 L1453.1,502.8 L1454.1,502.7 L1455.1,502.7 L1456.1,502.8 L1457.2,502.9 L1458.2,503.0 L1459.2,503.4 L1460.2,504.0 L1461.2,504.7 L1462.2,505.5 L1463.2,506.2 L1464.2,506.6 L1465.2,506.6 L1466.0,506.2 L1466.8,505.4 L1467.6,504.3 L1468.4,503.0 L1469.4,501.6 L1470.5,500.1 L1471.6,498.6 L1472.8,497.2 L1473.9,495.9 L1475.0,494.5 L1476.1,493.1 L1477.2,491.6 L1478.3,490.1 L1479.4,488.9 L1480.4,488.0 L1481.4,487.3 L1482.4,486.8 L1483.4,486.6 L1484.3,486.4 L1485.3,486.3 L1486.3,486.2 L1487.2,486.2 L1488.2,486.2 L1489.1,486.2 L1490.1,486.2 L1491.1,486.2 L1492.1,486.4 L1493.2,486.6 L1494.3,486.9 L1495.4,487.3 L1496.4,487.7 L1497.5,488.1 L1498.5,488.4 L1499.6,488.8 L1500.7,489.2 L1501.7,489.7 L1502.7,490.2 L1503.6,490.8 L1504.6,491.3 L1505.5,491.8 L1506.4,492.3 L1507.4,492.7 L1508.3,493.1 L1509.2,493.6 L1510.2,494.0 L1511.2,494.3 L1512.3,494.5 L1513.5,494.4 L1514.7,493.9 L1515.8,492.9 L1516.6,491.5 L1517.2,489.9 L1517.8,488.3 L1518.7,486.9 L1519.8,485.9 L1520.9,485.2 L1522.0,484.9 L1523.1,484.8 L1524.2,484.8 L1525.2,484.9 L1526.2,485.0 L1527.2,485.1 L1528.3,485.3 L1529.4,485.3 L1530.5,485.1 L1531.6,484.7 L1532.7,484.2 L1533.6,483.4 L1534.4,482.4 L1535.1,481.4 L1535.8,480.3 L1536.7,479.4 L1537.6,478.7 L1538.7,478.1 L1539.8,477.8 L1540.9,477.5 L1542.1,477.2 L1543.2,477.0 L1544.3,476.7 L1545.4,476.3 L1546.5,476.0 L1547.6,475.6 L1548.7,475.2 L1549.8,474.6 L1550.7,474.0 L1551.6,473.3 L1552.4,472.7 L1553.3,472.0 L1554.1,471.0 L1554.8,469.8 L1555.6,468.3 L1556.1,467.3 L1556.7,466.4 L1557.4,465.3 L1558.1,464.2 L1558.8,462.9 L1559.5,461.7 L1560.3,460.4 L1561.0,459.2 L1561.6,457.9 L1562.1,456.6 L1562.4,455.3 L1562.5,454.0 L1562.6,452.8 L1562.8,451.5 L1563.5,449.7 L1564.7,448.6 L1566.0,448.2 L1567.2,448.2 L1568.2,448.5 L1569.2,448.7 L1570.2,448.7 L1571.3,448.2 L1572.4,447.0 L1573.0,446.2 L1573.6,445.3 L1574.2,444.3 L1574.7,443.3 L1575.3,442.1 L1575.8,440.9 L1576.2,439.5 L1576.7,438.2 L1577.1,436.8 L1577.5,435.4 L1578.0,434.0 L1578.4,432.5 L1578.6,431.5 L1578.9,430.6 L1579.2,429.6 L1579.5,428.2 L1579.9,426.7 L1580.1,425.7 L1580.3,424.7 L1580.6,423.7 L1580.9,422.6 L1581.2,421.6 L1581.7,420.6 L1582.1,419.6 L1582.6,418.5 L1583.1,417.5 L1583.5,416.4 L1583.8,415.3 L1584.2,414.3 L1584.4,413.2 L1584.7,412.1 L1585.0,411.1 L1585.3,410.1 L1585.6,409.1 L1585.9,408.1 L1586.5,406.8 L1587.1,405.6 L1587.6,404.5 L1588.1,403.5 L1589.1,401.9 L1590.1,400.7 L1591.1,399.9 L1592.0,399.2 L1593.0,398.6 L1594.0,397.9 L1595.2,397.0 L1596.5,395.5 L1597.2,394.5 L1597.9,393.5 L1598.5,392.3 L1599.0,391.0 L1599.5,389.7 L1600.0,388.3 L1600.2,387.3 L1600.5,386.4 L1600.7,385.4 L1600.9,384.4 L1601.0,383.3 L1601.2,382.3 L1601.3,381.3 L1601.5,380.3 L1601.8,379.3 L1602.3,377.9 L1603.0,376.6 L1603.7,375.4 L1604.3,374.1 L1604.9,372.9 L1605.3,371.5 L1605.6,370.2 L1605.9,368.8 L1606.3,367.4 L1606.7,366.1 L1607.2,364.8 L1607.8,363.6 L1608.4,362.5 L1609.0,361.4 L1609.6,360.3 L1610.1,359.3 L1610.6,358.3 L1611.0,357.4 L1612.0,355.9 L1613.0,355.0 L1614.2,354.8 L1615.3,355.0 L1616.2,355.4 L1617.2,355.7 L1618.2,355.7 L1619.3,355.3 L1620.5,354.4 L1621.5,352.9 L1622.3,351.1 L1622.7,350.1 L1623.1,349.1 L1623.5,348.0 L1623.9,347.0 L1624.4,346.0 L1624.9,345.1 L1625.4,344.1 L1626.0,343.2 L1626.5,342.3 L1627.1,341.4 L1628.2,339.9 L1629.4,338.6 L1630.5,337.7 L1631.4,337.3 L1632.2,337.2 L1633.0,337.4 L1634.0,337.8 L1635.1,338.5 L1636.3,339.3 L1637.4,340.4 L1638.3,341.7 L1639.0,343.1 L1639.8,344.4 L1640.5,345.9 L1640.9,346.7 L1641.4,347.6 L1642.1,348.4 L1642.9,349.2 L1644.4,350.1 L1645.2,350.1 L1645.7,349.5 L1646.6,348.5 L1648.0,347.1 L1648.8,346.2 L1649.5,345.3 L1650.2,344.3 L1650.7,343.2 L1651.1,342.1 L1651.5,340.9 L1651.8,339.6 L1652.1,338.4 L1652.5,337.3 L1653.0,336.2 L1653.5,335.1 L1654.0,334.1 L1654.5,333.2 L1655.0,332.4 L1656.1,331.1 L1657.2,330.4 L1658.2,330.2 L1659.2,330.3 L1660.1,330.7 L1661.1,331.2 L1662.1,331.6 L1663.3,331.7 L1664.4,331.1 L1665.4,330.0 L1666.3,328.5 L1667.3,326.8 L1668.2,325.0 L1669.2,323.5 L1670.1,322.1 L1671.1,321.2 L1672.1,320.5 L1673.1,320.0 L1674.1,319.6 L1675.1,319.3 L1676.2,319.1 L1677.2,318.9 L1678.2,318.8 L1679.1,318.7 L1680.1,318.6 L1681.2,318.5 L1682.2,318.6 L1683.2,318.7 L1684.1,318.8 L1685.0,318.7 L1685.9,318.6 L1686.9,318.4 L1688.0,317.9 L1689.3,317.1 L1690.5,316.1 L1691.6,314.9 L1692.5,313.8 L1693.4,312.7 L1694.3,311.2 L1695.2,311.2 L1696.2,311.2 L1697.2,311.2 L1698.2,311.3 L1699.2,311.3 L1700.2,311.4 L1701.2,311.5 L1702.2,311.5 L1703.2,311.6 L1704.3,311.6 L1705.3,311.6 L1706.4,311.6 L1707.4,311.5 L1708.5,311.3 L1709.6,310.9 L1710.6,310.5 L1711.7,310.0 L1712.7,309.3 L1713.7,308.5 L1714.6,307.6 L1715.5,306.5 L1716.4,305.4 L1717.1,304.0 L1717.8,302.6 L1718.4,301.0 L1719.3,299.5 L1720.3,298.0 L1721.5,296.5 L1722.1,295.7 L1722.7,294.8 L1723.3,293.9 L1724.0,293.0 L1724.6,292.1 L1725.2,291.1 L1725.8,290.1 L1726.4,289.0 L1726.9,287.9 L1727.2,286.7 L1727.5,285.4 L1727.8,284.1 L1728.1,282.8 L1728.6,281.6 L1729.3,280.4 L1730.2,279.3 L1731.1,278.1 L1732.0,276.9 L1732.8,275.6 L1733.3,274.3 L1733.9,272.9 L1734.3,271.5 L1734.6,270.5 L1734.9,269.6 L1735.2,268.6 L1735.5,267.6 L1735.8,266.7 L1736.1,265.7 L1736.5,264.7 L1736.7,263.7 L1737.0,262.7 L1737.2,261.7 L1737.4,260.6 L1737.6,259.6 L1737.8,258.6 L1738.0,257.5 L1738.2,256.5 L1738.5,255.5 L1738.9,254.5 L1739.3,253.6 L1739.9,252.7 L1740.4,251.7 L1740.9,250.8 L1741.3,249.9 L1741.6,248.9 L1741.8,247.9 L1741.9,246.9 L1741.9,245.8 L1742.0,244.7 L1742.1,243.2 L1742.4,241.7 L1742.8,240.3 L1743.4,239.0 L1744.1,237.7 L1744.7,236.5 L1745.3,235.3 L1745.9,234.0 L1746.4,232.9 L1747.0,231.7 L1747.5,230.6 L1748.1,229.5 L1748.7,228.5 L1749.3,227.5 L1749.9,226.6 L1750.5,225.8 L1751.7,224.2 L1752.7,222.7 L1753.5,221.5 L1754.4,220.4 L1755.3,219.6 L1756.2,219.0 L1757.2,218.6 L1758.2,218.6 L1759.4,218.9 L1760.5,219.5 L1761.7,220.4 L1762.9,221.7 L1763.9,223.4 L1764.4,224.4 L1764.8,225.4 L1765.2,226.6 L1765.6,227.8 L1766.0,229.1 L1766.5,230.4 L1766.9,231.3 L1767.2,232.3 L1767.6,233.2 L1767.9,234.2 L1768.3,235.3 L1768.6,236.3 L1768.9,237.5 L1769.3,238.6 L1769.6,239.7 L1770.0,241.0 L1770.3,242.2 L1770.7,243.4 L1771.0,244.4 L1771.4,245.3 L1771.7,246.3 L1772.0,247.3 L1772.2,248.3 L1772.4,249.4 L1772.6,250.4 L1772.8,251.5 L1772.9,252.7 L1773.0,253.8 L1773.2,254.9 L1773.4,256.0 L1773.6,257.2 L1773.9,258.3 L1774.1,259.5 L1774.4,260.6 L1774.6,261.9 L1774.8,263.1 L1774.9,264.3 L1775.0,265.6 L1775.1,266.6 L1775.1,267.6 L1775.2,268.6 L1775.3,269.6 L1775.5,270.7 L1775.7,271.7 L1775.8,272.7 L1776.0,273.8 L1776.3,274.8 L1776.5,275.8 L1776.7,276.9 L1777.0,277.9 L1777.3,279.0 L1777.6,280.0 L1778.0,281.1 L1778.3,282.1 L1778.6,283.2 L1778.8,284.3 L1779.1,285.4 L1779.3,286.5 L1779.5,287.6 L1779.7,288.7 L1779.9,289.8 L1780.0,291.0 L1780.1,292.1 L1780.2,293.3 L1780.2,294.4 L1780.3,295.6 L1780.4,296.8 L1780.5,297.9 L1780.6,299.1 L1780.7,300.2 L1780.9,301.4 L1781.1,302.6 L1781.3,303.7 L1781.5,304.9 L1781.8,306.0 L1782.1,307.2 L1782.4,308.3 L1782.7,309.5 L1783.0,310.7 L1783.2,311.9 L1783.3,313.0 L1783.5,314.2 L1783.6,315.4 L1783.7,316.4 L1783.8,317.4 L1783.9,318.4 L1784.0,319.5 L1784.1,320.5 L1784.2,321.5 L1784.3,322.5 L1784.4,323.5 L1784.6,324.5 L1785.0,325.4 L1785.5,326.4 L1786.0,327.3 L1786.6,328.2 L1787.2,329.2 L1787.6,330.1 L1787.9,331.1 L1788.0,332.1 L1787.9,333.2 L1787.7,334.2 L1787.5,335.3 L1787.3,336.3 L1787.1,337.4 L1787.2,338.4 L1787.4,339.4 L1787.7,340.4 L1788.1,341.3 L1788.6,342.3 L1789.0,343.2 L1789.4,344.2 L1789.7,345.2 L1789.9,346.2 L1790.1,347.2 L1790.2,348.2 L1790.2,349.2 L1790.3,350.2 L1790.4,351.2 L1790.4,352.4 L1790.5,353.6 L1790.5,354.8 L1790.6,356.0 L1790.7,357.2 L1790.7,358.4 L1790.9,359.6 L1791.1,360.8 L1791.3,361.9 L1791.5,363.1 L1791.7,364.3 L1792.0,365.4 L1792.4,366.5 L1792.8,367.7 L1793.3,368.8 L1793.8,369.9 L1794.2,371.0 L1794.6,372.1 L1794.8,373.2 L1794.8,374.4 L1794.8,375.6 L1794.7,376.8 L1794.6,377.9 L1794.7,379.1 L1794.9,380.2 L1795.2,381.3 L1795.7,382.4 L1796.2,383.4 L1796.7,384.5 L1797.1,385.5 L1797.4,386.6 L1797.6,387.7 L1797.8,388.8 L1797.8,389.9 L1797.9,391.0 L1797.9,392.1 L1798.0,393.2 L1798.0,394.3 L1798.0,395.4 L1798.0,396.5 L1798.0,397.6 L1798.0,398.7 L1798.1,399.7 L1798.3,400.8 L1798.5,401.8 L1798.9,402.8 L1799.3,403.8 L1799.7,404.8 L1800.0,405.8 L1800.3,406.8 L1800.6,407.7 L1800.8,408.7 L1800.9,409.7 L1801.0,410.7 L1801.1,411.7 L1801.3,413.0 L1801.5,414.2 L1801.7,415.4 L1801.8,416.6 L1802.0,417.8 L1802.2,419.0 L1802.4,420.2 L1802.7,421.3 L1802.9,422.5 L1803.1,423.6 L1803.3,424.8 L1803.5,425.9 L1803.7,427.0 L1803.9,428.1 L1804.2,429.2 L1804.4,430.3 L1804.6,431.4 L1804.9,432.4 L1805.2,433.5 L1805.6,434.5 L1806.0,435.5 L1806.5,436.4 L1807.1,437.4 L1807.7,438.3 L1808.2,439.2 L1808.7,440.1 L1809.1,441.1 L1809.3,442.0 L1809.5,443.3 L1809.6,444.6 L1809.7,446.0 L1809.8,447.2 L1810.0,448.4 L1810.3,449.7 L1810.6,450.8 L1810.9,452.0 L1811.2,453.1 L1811.6,454.2 L1812.0,455.3 L1812.5,456.3 L1813.0,457.3 L1813.5,458.3 L1814.0,459.3 L1814.5,460.2 L1814.9,461.2 L1815.1,462.2 L1815.3,463.2 L1815.5,464.2 L1815.6,465.2 L1815.8,466.7 L1816.1,468.1 L1816.5,469.4 L1817.0,470.7 L1817.5,471.9 L1818.0,473.1 L1818.5,474.3 L1818.9,475.5 L1819.3,476.6 L1819.8,477.7 L1820.2,478.8 L1820.6,479.8 L1821.0,480.8 L1821.5,481.8 L1821.9,482.8 L1822.3,483.7 L1823.2,485.5 L1824.3,487.1 L1825.6,488.6 L1826.9,489.0 L1828.2,489.6 L1829.5,490.0 L1830.5,490.3 L1831.5,490.5 L1832.4,490.7 L1833.1,490.8 L1833.9,490.6 L1834.9,490.4 L1836.0,490.1 L1837.1,489.9 L1838.3,490.0 L1839.4,490.6 L1840.3,491.6 L1841.1,492.9 L1841.9,494.3 L1842.9,495.7 L1844.2,496.9 L1845.4,497.9 L1846.6,498.5 L1847.6,499.0 L1848.5,499.3 L1849.5,499.6 L1850.5,499.9 L1851.5,500.4 L1852.6,500.9 L1853.5,501.5 L1854.5,502.1 L1855.5,502.7 L1856.4,503.6 L1857.3,504.7 L1858.1,506.1 L1858.6,507.0 L1859.1,507.9 L1859.7,509.0 L1860.5,510.1 L1861.2,511.3 L1861.9,512.4 L1862.4,513.6 L1862.8,514.8 L1863.1,515.7 L1863.3,516.7 L1864.2,517.7 L1865.6,517.3 L1866.9,515.7 L1867.5,514.5 L1868.1,513.4 L1868.6,512.2 L1869.1,511.1 L1869.5,510.1 L1869.8,509.1 L1870.0,508.0 L1870.2,506.9 L1870.3,505.7 L1870.5,504.6 L1870.8,503.6 L1871.3,502.6 L1872.6,501.2 L1874.2,500.8 L1875.5,501.6 L1876.4,503.0 L1877.1,504.7 L1877.5,505.7 L1877.9,506.6 L1878.3,507.6 L1878.7,508.6 L1879.0,509.6 L1879.2,510.7 L1879.4,511.7 L1879.6,513.0 L1879.8,514.3 L1880.1,515.6 L1880.6,516.9 L1881.4,518.4 L1883.2,519.1 L1884.6,518.1 L1885.3,516.5 L1885.9,514.7 L1886.6,512.8 L1887.5,511.0 L1888.4,509.4 L1889.5,508.0 L1890.7,506.6 L1892.2,505.2 L1893.0,504.4 L1893.7,503.7 L1894.4,502.9 L1895.0,502.1 L1896.2,500.5 L1897.2,499.0 L1898.0,497.7 L1898.8,496.6 L1899.4,495.9 L1900.0,495.7 L1901.4,496.7 L1902.0,497.6 L1902.5,498.5 L1902.9,499.5 L1903.2,500.6 L1903.4,501.7 L1903.5,502.7 L1903.6,503.8 L1903.7,505.1 L1903.8,506.3 L1904.0,507.5 L1904.1,508.7 L1904.2,509.7 L1904.4,510.7 L1904.5,511.7 L1904.7,512.8 L1905.2,513.9 L1905.7,515.2 L1906.9,516.3 L1908.5,516.2 L1909.7,515.5 L1910.7,514.6 L1911.5,513.7 L1912.3,513.0 L1913.2,512.4 L1914.1,511.8 L1915.0,511.2 L1916.0,510.7 L1916.9,510.4 L1918.0,510.1 L1919.0,509.9 L1920.1,509.7 L1921.2,509.6 L1922.3,509.4 L1923.3,509.2 L1924.4,509.0 L1925.5,508.6 L1926.5,508.1 L1927.6,507.5 L1928.7,506.7 L1929.8,505.6 L1930.7,504.2 L1931.6,502.7 L1932.5,501.2 L1933.3,499.7 L1934.2,498.3 L1935.0,497.2 L1936.0,496.3 L1937.3,496.1 L1938.6,496.4 L1939.8,497.4 L1941.0,498.6 L1942.1,500.1 L1943.2,501.8 L1944.1,503.5 L1945.0,505.1 L1945.9,506.5 L1946.7,507.8 L1947.5,509.1 L1948.3,510.4 L1949.0,511.7 L1949.9,512.8 L1950.9,513.6 L1952.1,514.0 L1953.2,514.0 L1954.2,513.8 L1955.2,513.4" stroke="#1B9E77" stroke-width="12.5"/>
<path d="M1426.2,497.2 L1427.2,497.2 L1428.2,497.2 L1429.2,497.2 L1430.2,497.2 L1431.2,497.2 L1432.2,497.1 L1433.2,497.1 L1434.2,497.1 L1435.2,497.1 L1436.2,497.1 L1437.2,497.0 L1438.2,497.0 L1439.2,497.0 L1440.2,497.0 L1441.2,496.9 L1442.2,496.9 L1443.2,496.9 L1444.2,496.9 L1445.2,496.9 L1446.2,496.8 L1447.2,496.8 L1448.2,496.8 L1449.2,496.8 L1450.2,496.7 L1451.2,496.7 L1452.2,496.7 L1453.2,496.6 L1454.2,496.6 L1455.2,496.6 L1456.2,496.6 L1457.2,496.5 L1458.2,496.5 L1459.2,496.5 L1460.2,496.4 L1461.2,496.4 L1462.2,496.4 L1463.2,496.4 L1464.2,496.3 L1465.2,496.3 L1466.2,496.3 L1467.2,496.2 L1468.2,496.2 L1469.2,496.2 L1470.2,496.1 L1471.2,496.1 L1472.2,496.0 L1473.2,496.0 L1474.2,496.0 L1475.2,495.9 L1476.2,495.9 L1477.2,495.8 L1478.2,495.8 L1479.2,495.8 L1480.2,495.7 L1481.2,495.7 L1482.2,495.6 L1483.2,495.6 L1484.2,495.5 L1485.2,495.5 L1486.2,495.4 L1487.2,495.4 L1488.2,495.3 L1489.2,495.2 L1490.2,495.2 L1491.2,495.1 L1492.2,495.1 L1493.2,495.0 L1494.2,494.9 L1495.2,494.9 L1496.2,494.8 L1497.2,494.7 L1498.2,494.6 L1499.2,494.6 L1500.2,494.5 L1501.2,494.4 L1502.2,494.3 L1503.2,494.2 L1504.2,494.1 L1505.2,494.0 L1506.2,493.9 L1507.2,493.8 L1508.2,493.7 L1509.2,493.5 L1510.2,493.4 L1511.2,493.3 L1512.2,493.1 L1513.2,493.0 L1514.2,492.8 L1515.2,492.6 L1516.2,492.5 L1517.2,492.3 L1518.2,492.1 L1519.2,491.9 L1520.2,491.7 L1521.2,491.5 L1522.2,491.2 L1523.2,491.0 L1524.2,490.7 L1525.2,490.4 L1526.2,490.1 L1527.2,489.8 L1528.2,489.5 L1529.2,489.2 L1530.2,488.8 L1531.2,488.4 L1532.2,488.0 L1533.2,487.6 L1534.2,487.2 L1535.2,486.7 L1536.2,486.3 L1537.2,485.8 L1538.2,485.2 L1539.2,484.7 L1540.2,484.1 L1541.2,483.5 L1542.2,482.8 L1543.2,482.2 L1544.2,481.5 L1545.2,480.7 L1546.2,480.0 L1547.2,479.2 L1548.2,478.3 L1549.2,477.5 L1550.2,476.6 L1551.2,475.6 L1552.2,474.7 L1553.2,473.6 L1554.2,472.6 L1555.2,471.5 L1556.2,470.4 L1557.2,469.2 L1558.2,468.0 L1559.2,466.7 L1560.2,465.4 L1561.2,464.0 L1562.2,462.6 L1563.2,461.1 L1564.2,459.6 L1565.2,458.0 L1566.2,456.4 L1567.2,454.8 L1568.2,453.1 L1569.2,451.4 L1570.2,449.6 L1571.2,447.8 L1572.2,445.9 L1573.2,444.0 L1574.2,442.1 L1575.2,440.1 L1576.2,438.1 L1577.2,436.1 L1578.2,434.0 L1579.2,431.9 L1580.2,429.8 L1581.2,427.6 L1582.2,425.4 L1583.2,423.2 L1584.2,421.0 L1585.2,418.7 L1586.2,416.5 L1587.2,414.2 L1588.2,411.9 L1589.2,409.6 L1590.2,407.2 L1591.2,404.9 L1592.2,402.6 L1593.2,400.3 L1594.2,398.0 L1595.2,395.7 L1596.2,393.4 L1597.2,391.1 L1598.2,388.9 L1599.2,386.7 L1600.2,384.5 L1601.2,382.4 L1602.2,380.3 L1603.2,378.2 L1604.2,376.2 L1605.2,374.2 L1606.2,372.3 L1607.2,370.5 L1608.2,368.7 L1609.2,366.9 L1610.2,365.2 L1611.2,363.6 L1612.2,362.1 L1613.2,360.6 L1614.2,359.2 L1615.2,357.8 L1616.2,356.6 L1617.2,355.4 L1618.2,354.2 L1619.2,353.2 L1620.2,352.2 L1621.2,351.3 L1622.2,350.5 L1623.2,349.8 L1624.2,349.1 L1625.2,348.4 L1626.2,347.9 L1627.2,347.4 L1628.2,346.9 L1629.2,346.5 L1630.2,346.1 L1631.2,345.8 L1632.2,345.5 L1633.2,345.2 L1634.2,345.0 L1635.2,344.8 L1636.2,344.6 L1637.2,344.4 L1638.2,344.2 L1639.2,344.0 L1640.2,343.8 L1641.2,343.6 L1642.2,343.3 L1643.2,343.1 L1644.2,342.8 L1645.2,342.6 L1646.2,342.2 L1647.2,341.9 L1648.2,341.5 L1649.2,341.1 L1650.2,340.7 L1651.2,340.2 L1652.2,339.7 L1653.2,339.1 L1654.2,338.6 L1655.2,337.9 L1656.2,337.3 L1657.2,336.6 L1658.2,335.9 L1659.2,335.1 L1660.2,334.3 L1661.2,333.5 L1662.2,332.6 L1663.2,331.8 L1664.2,330.9 L1665.2,330.0 L1666.2,329.1 L1667.2,328.1 L1668.2,327.2 L1669.2,326.3 L1670.2,325.4 L1671.2,324.4 L1672.2,323.5 L1673.2,322.6 L1674.2,321.8 L1675.2,320.9 L1676.2,320.1 L1677.2,319.3 L1678.2,318.5 L1679.2,317.8 L1680.2,317.1 L1681.2,316.5 L1682.2,315.9 L1683.2,315.4 L1684.2,314.9 L1685.2,314.4 L1686.2,314.1 L1687.2,313.7 L1688.2,313.5 L1689.2,313.2 L1690.2,313.1 L1691.2,313.0 L1692.2,312.9 L1693.2,312.9 L1694.2,313.0 L1695.2,313.0 L1696.2,313.1 L1697.2,313.3 L1698.2,313.5 L1699.2,313.7 L1700.2,313.9 L1701.2,314.1 L1702.2,314.3 L1703.2,314.5 L1704.2,314.7 L1705.2,314.8 L1706.2,315.0 L1707.2,315.1 L1708.2,315.1 L1709.2,315.1 L1710.2,315.0 L1711.2,314.8 L1712.2,314.6 L1713.2,314.3 L1714.2,313.8 L1715.2,313.3 L1716.2,312.6 L1717.2,311.9 L1718.2,311.0 L1719.2,310.0 L1720.2,308.8 L1721.2,307.5 L1722.2,306.1 L1723.2,304.5 L1724.2,302.8 L1725.2,300.9 L1726.2,298.9 L1727.2,296.7 L1728.2,294.4 L1729.2,292.0 L1730.2,289.4 L1731.2,286.8 L1732.2,284.0 L1733.2,281.1 L1734.2,278.1 L1735.2,275.0 L1736.2,271.8 L1737.2,268.6 L1738.2,265.3 L1739.2,262.0 L1740.2,258.7 L1741.2,255.4 L1742.2,252.1 L1743.2,248.8 L1744.2,245.6 L1745.2,242.5 L1746.2,239.5 L1747.2,236.6 L1748.2,233.9 L1749.2,231.3 L1750.2,228.9 L1751.2,226.7 L1752.2,224.8 L1753.2,223.1 L1754.2,221.7 L1755.2,220.5 L1756.2,219.7 L1757.2,219.3 L1758.2,219.1 L1759.2,219.3 L1760.2,219.9 L1761.2,220.9 L1762.2,222.2 L1763.2,223.9 L1764.2,225.9 L1765.2,228.4 L1766.2,231.2 L1767.2,234.3 L1768.2,237.8 L1769.2,241.5 L1770.2,245.6 L1771.2,250.0 L1772.2,254.7 L1773.2,259.6 L1774.2,264.7 L1775.2,270.1 L1776.2,275.6 L1777.2,281.3 L1778.2,287.1 L1779.2,293.1 L1780.2,299.1 L1781.2,305.3 L1782.2,311.5 L1783.2,317.7 L1784.2,324.0 L1785.2,330.3 L1786.2,336.5 L1787.2,342.8 L1788.2,349.0 L1789.2,355.1 L1790.2,361.2 L1791.2,367.2 L1792.2,373.2 L1793.2,379.0 L1794.2,384.7 L1795.2,390.2 L1796.2,395.7 L1797.2,401.0 L1798.2,406.2 L1799.2,411.2 L1800.2,416.1 L1801.2,420.8 L1802.2,425.4 L1803.2,429.8 L1804.2,434.0 L1805.2,438.1 L1806.2,442.0 L1807.2,445.7 L1808.2,449.3 L1809.2,452.7 L1810.2,456.0 L1811.2,459.1 L1812.2,462.1 L1813.2,464.9 L1814.2,467.6 L1815.2,470.1 L1816.2,472.5 L1817.2,474.7 L1818.2,476.9 L1819.2,478.9 L1820.2,480.8 L1821.2,482.5 L1822.2,484.2 L1823.2,485.8 L1824.2,487.2 L1825.2,488.6 L1826.2,489.9 L1827.2,491.1 L1828.2,492.2 L1829.2,493.3 L1830.2,494.2 L1831.2,495.1 L1832.2,496.0 L1833.2,496.8 L1834.2,497.5 L1835.2,498.2 L1836.2,498.8 L1837.2,499.4 L1838.2,500.0 L1839.2,500.5 L1840.2,501.0 L1841.2,501.4 L1842.2,501.8 L1843.2,502.2 L1844.2,502.6 L1845.2,502.9 L1846.2,503.2 L1847.2,503.5 L1848.2,503.8 L1849.2,504.0 L1850.2,504.3 L1851.2,504.5 L1852.2,504.7 L1853.2,504.9 L1854.2,505.1 L1855.2,505.3 L1856.2,505.5 L1857.2,505.6 L1858.2,505.8 L1859.2,506.0 L1860.2,506.1 L1861.2,506.2 L1862.2,506.4 L1863.2,506.5 L1864.2,506.6 L1865.2,506.7 L1866.2,506.8 L1867.2,506.9 L1868.2,507.0 L1869.2,507.1 L1870.2,507.2 L1871.2,507.3 L1872.2,507.4 L1873.2,507.5 L1874.2,507.6 L1875.2,507.7 L1876.2,507.8 L1877.2,507.8 L1878.2,507.9 L1879.2,508.0 L1880.2,508.1 L1881.2,508.1 L1882.2,508.2 L1883.2,508.3 L1884.2,508.4 L1885.2,508.4 L1886.2,508.5 L1887.2,508.5 L1888.2,508.6 L1889.2,508.7 L1890.2,508.7 L1891.2,508.8 L1892.2,508.8 L1893.2,508.9 L1894.2,508.9 L1895.2,509.0 L1896.2,509.1 L1897.2,509.1 L1898.2,509.2 L1899.2,509.2 L1900.2,509.3 L1901.2,509.3 L1902.2,509.3 L1903.2,509.4 L1904.2,509.4 L1905.2,509.5 L1906.2,509.5 L1907.2,509.6 L1908.2,509.6 L1909.2,509.7 L1910.2,509.7 L1911.2,509.7 L1912.2,509.8 L1913.2,509.8 L1914.2,509.8 L1915.2,509.9 L1916.2,509.9 L1917.2,510.0 L1918.2,510.0 L1919.2,510.0 L1920.2,510.1 L1921.2,510.1 L1922.2,510.1 L1923.2,510.2 L1924.2,510.2 L1925.2,510.2 L1926.2,510.3 L1927.2,510.3 L1928.2,510.3 L1929.2,510.3 L1930.2,510.4 L1931.2,510.4 L1932.2,510.4 L1933.2,510.5 L1934.2,510.5 L1935.2,510.5 L1936.2,510.5 L1937.2,510.6 L1938.2,510.6 L1939.2,510.6 L1940.2,510.6 L1941.2,510.7 L1942.2,510.7 L1943.2,510.7 L1944.2,510.7 L1945.2,510.8 L1946.2,510.8 L1947.2,510.8 L1948.2,510.8 L1949.2,510.9 L1950.2,510.9 L1951.2,510.9 L1952.2,510.9 L1953.2,510.9 L1954.2,511.0 L1955.2,511.0" stroke="#D95F02" stroke-width="5.5"/>
<path d="M1426.2,497.3 L1427.2,497.3 L1428.2,497.3 L1429.2,497.3 L1430.2,497.3 L1431.2,497.3 L1432.2,497.3 L1433.2,497.3 L1434.2,497.3 L1435.2,497.3 L1436.2,497.3 L1437.2,497.3 L1438.2,497.3 L1439.2,497.3 L1440.2,497.3 L1441.2,497.3 L1442.2,497.3 L1443.2,497.3 L1444.2,497.3 L1445.2,497.3 L1446.2,497.3 L1447.2,497.3 L1448.2,497.3 L1449.2,497.3 L1450.2,497.3 L1451.2,497.3 L1452.2,497.3 L1453.2,497.2 L1454.2,497.2 L1455.2,497.2 L1456.2,497.2 L1457.2,497.2 L1458.2,497.2 L1459.2,497.2 L1460.2,497.2 L1461.2,497.2 L1462.2,497.2 L1463.2,497.2 L1464.2,497.2 L1465.2,497.2 L1466.2,497.2 L1467.2,497.2 L1468.2,497.2 L1469.2,497.2 L1470.2,497.2 L1471.2,497.2 L1472.2,497.2 L1473.2,497.2 L1474.2,497.2 L1475.2,497.2 L1476.2,497.2 L1477.2,497.2 L1478.2,497.2 L1479.2,497.2 L1480.2,497.2 L1481.2,497.2 L1482.2,497.2 L1483.2,497.1 L1484.2,497.1 L1485.2,497.1 L1486.2,497.1 L1487.2,497.1 L1488.2,497.1 L1489.2,497.1 L1490.2,497.1 L1491.2,497.1 L1492.2,497.1 L1493.2,497.1 L1494.2,497.1 L1495.2,497.1 L1496.2,497.1 L1497.2,497.1 L1498.2,497.1 L1499.2,497.1 L1500.2,497.1 L1501.2,497.1 L1502.2,497.1 L1503.2,497.1 L1504.2,497.1 L1505.2,497.1 L1506.2,497.1 L1507.2,497.0 L1508.2,497.0 L1509.2,497.0 L1510.2,497.0 L1511.2,497.0 L1512.2,497.0 L1513.2,497.0 L1514.2,497.0 L1515.2,497.0 L1516.2,497.0 L1517.2,497.0 L1518.2,497.0 L1519.2,497.0 L1520.2,497.0 L1521.2,497.0 L1522.2,497.0 L1523.2,497.0 L1524.2,497.0 L1525.2,497.0 L1526.2,497.0 L1527.2,496.9 L1528.2,496.9 L1529.2,496.9 L1530.2,496.9 L1531.2,496.9 L1532.2,496.9 L1533.2,496.9 L1534.2,496.9 L1535.2,496.9 L1536.2,496.9 L1537.2,496.9 L1538.2,496.9 L1539.2,496.9 L1540.2,496.9 L1541.2,496.9 L1542.2,496.9 L1543.2,496.9 L1544.2,496.9 L1545.2,496.9 L1546.2,496.9 L1547.2,496.8 L1548.2,496.8 L1549.2,496.8 L1550.2,496.8 L1551.2,496.8 L1552.2,496.8 L1553.2,496.8 L1554.2,496.8 L1555.2,496.8 L1556.2,496.8 L1557.2,496.8 L1558.2,496.8 L1559.2,496.8 L1560.2,496.8 L1561.2,496.8 L1562.2,496.8 L1563.2,496.8 L1564.2,496.8 L1565.2,496.8 L1566.2,496.8 L1567.2,496.8 L1568.2,496.8 L1569.2,496.8 L1570.2,496.8 L1571.2,496.8 L1572.2,496.8 L1573.2,496.8 L1574.2,496.8 L1575.2,496.8 L1576.2,496.8 L1577.2,496.8 L1578.2,496.8 L1579.2,496.8 L1580.2,496.8 L1581.2,496.9 L1582.2,496.9 L1583.2,496.9 L1584.2,496.9 L1585.2,496.9 L1586.2,496.9 L1587.2,496.9 L1588.2,496.9 L1589.2,496.9 L1590.2,496.9 L1591.2,496.9 L1592.2,496.9 L1593.2,497.0 L1594.2,497.0 L1595.2,497.0 L1596.2,497.0 L1597.2,497.0 L1598.2,497.0 L1599.2,497.0 L1600.2,497.1 L1601.2,497.1 L1602.2,497.1 L1603.2,497.1 L1604.2,497.1 L1605.2,497.1 L1606.2,497.1 L1607.2,497.2 L1608.2,497.2 L1609.2,497.2 L1610.2,497.2 L1611.2,497.2 L1612.2,497.2 L1613.2,497.3 L1614.2,497.3 L1615.2,497.3 L1616.2,497.3 L1617.2,497.3 L1618.2,497.3 L1619.2,497.3 L1620.2,497.4 L1621.2,497.4 L1622.2,497.4 L1623.2,497.4 L1624.2,497.4 L1625.2,497.4 L1626.2,497.4 L1627.2,497.5 L1628.2,497.5 L1629.2,497.5 L1630.2,497.5 L1631.2,497.5 L1632.2,497.5 L1633.2,497.5 L1634.2,497.5 L1635.2,497.5 L1636.2,497.5 L1637.2,497.5 L1638.2,497.5 L1639.2,497.5 L1640.2,497.5 L1641.2,497.5 L1642.2,497.5 L1643.2,497.5 L1644.2,497.5 L1645.2,497.5 L1646.2,497.5 L1647.2,497.5 L1648.2,497.4 L1649.2,497.4 L1650.2,497.4 L1651.2,497.4 L1652.2,497.4 L1653.2,497.3 L1654.2,497.3 L1655.2,497.3 L1656.2,497.2 L1657.2,497.2 L1658.2,497.2 L1659.2,497.1 L1660.2,497.1 L1661.2,497.0 L1662.2,497.0 L1663.2,496.9 L1664.2,496.8 L1665.2,496.8 L1666.2,496.7 L1667.2,496.6 L1668.2,496.5 L1669.2,496.4 L1670.2,496.3 L1671.2,496.1 L1672.2,496.0 L1673.2,495.8 L1674.2,495.7 L1675.2,495.5 L1676.2,495.3 L1677.2,495.1 L1678.2,494.8 L1679.2,494.6 L1680.2,494.3 L1681.2,494.0 L1682.2,493.6 L1683.2,493.2 L1684.2,492.8 L1685.2,492.4 L1686.2,491.9 L1687.2,491.4 L1688.2,490.8 L1689.2,490.2 L1690.2,489.6 L1691.2,488.9 L1692.2,488.1 L1693.2,487.2 L1694.2,486.3 L1695.2,485.3 L1696.2,484.3 L1697.2,483.2 L1698.2,481.9 L1699.2,480.6 L1700.2,479.2 L1701.2,477.7 L1702.2,476.1 L1703.2,474.4 L1704.2,472.6 L1705.2,470.6 L1706.2,468.6 L1707.2,466.4 L1708.2,464.0 L1709.2,461.6 L1710.2,459.0 L1711.2,456.2 L1712.2,453.3 L1713.2,450.3 L1714.2,447.1 L1715.2,443.8 L1716.2,440.3 L1717.2,436.6 L1718.2,432.8 L1719.2,428.8 L1720.2,424.7 L1721.2,420.4 L1722.2,416.0 L1723.2,411.4 L1724.2,406.7 L1725.2,401.8 L1726.2,396.8 L1727.2,391.7 L1728.2,386.5 L1729.2,381.1 L1730.2,375.7 L1731.2,370.1 L1732.2,364.5 L1733.2,358.8 L1734.2,353.0 L1735.2,347.2 L1736.2,341.4 L1737.2,335.5 L1738.2,329.7 L1739.2,323.9 L1740.2,318.1 L1741.2,312.4 L1742.2,306.7 L1743.2,301.2 L1744.2,295.8 L1745.2,290.5 L1746.2,285.4 L1747.2,280.4 L1748.2,275.7 L1749.2,271.2 L1750.2,267.0 L1751.2,263.0 L1752.2,259.3 L1753.2,256.0 L1754.2,253.0 L1755.2,250.3 L1756.2,248.1 L1757.2,246.2 L1758.2,244.7 L1759.2,243.6 L1760.2,243.0 L1761.2,242.7 L1762.2,242.9 L1763.2,243.6 L1764.2,244.6 L1765.2,246.1 L1766.2,247.9 L1767.2,250.2 L1768.2,252.8 L1769.2,255.8 L1770.2,259.2 L1771.2,262.8 L1772.2,266.8 L1773.2,271.1 L1774.2,275.6 L1775.2,280.4 L1776.2,285.4 L1777.2,290.6 L1778.2,296.0 L1779.2,301.5 L1780.2,307.1 L1781.2,312.9 L1782.2,318.7 L1783.2,324.6 L1784.2,330.6 L1785.2,336.5 L1786.2,342.5 L1787.2,348.5 L1788.2,354.5 L1789.2,360.4 L1790.2,366.3 L1791.2,372.1 L1792.2,377.8 L1793.2,383.4 L1794.2,389.0 L1795.2,394.4 L1796.2,399.7 L1797.2,404.9 L1798.2,409.9 L1799.2,414.8 L1800.2,419.6 L1801.2,424.2 L1802.2,428.7 L1803.2,433.0 L1804.2,437.1 L1805.2,441.1 L1806.2,445.0 L1807.2,448.6 L1808.2,452.2 L1809.2,455.5 L1810.2,458.7 L1811.2,461.8 L1812.2,464.7 L1813.2,467.5 L1814.2,470.1 L1815.2,472.6 L1816.2,474.9 L1817.2,477.1 L1818.2,479.2 L1819.2,481.2 L1820.2,483.0 L1821.2,484.8 L1822.2,486.4 L1823.2,488.0 L1824.2,489.4 L1825.2,490.7 L1826.2,492.0 L1827.2,493.2 L1828.2,494.3 L1829.2,495.3 L1830.2,496.2 L1831.2,497.1 L1832.2,497.9 L1833.2,498.7 L1834.2,499.4 L1835.2,500.1 L1836.2,500.7 L1837.2,501.3 L1838.2,501.8 L1839.2,502.3 L1840.2,502.7 L1841.2,503.2 L1842.2,503.6 L1843.2,503.9 L1844.2,504.3 L1845.2,504.6 L1846.2,504.9 L1847.2,505.2 L1848.2,505.4 L1849.2,505.7 L1850.2,505.9 L1851.2,506.1 L1852.2,506.3 L1853.2,506.5 L1854.2,506.7 L1855.2,506.8 L1856.2,507.0 L1857.2,507.1 L1858.2,507.3 L1859.2,507.4 L1860.2,507.6 L1861.2,507.7 L1862.2,507.8 L1863.2,507.9 L1864.2,508.0 L1865.2,508.1 L1866.2,508.2 L1867.2,508.3 L1868.2,508.4 L1869.2,508.5 L1870.2,508.6 L1871.2,508.7 L1872.2,508.7 L1873.2,508.8 L1874.2,508.9 L1875.2,509.0 L1876.2,509.0 L1877.2,509.1 L1878.2,509.2 L1879.2,509.2 L1880.2,509.3 L1881.2,509.4 L1882.2,509.4 L1883.2,509.5 L1884.2,509.5 L1885.2,509.6 L1886.2,509.6 L1887.2,509.7 L1888.2,509.8 L1889.2,509.8 L1890.2,509.9 L1891.2,509.9 L1892.2,510.0 L1893.2,510.0 L1894.2,510.0 L1895.2,510.1 L1896.2,510.1 L1897.2,510.2 L1898.2,510.2 L1899.2,510.3 L1900.2,510.3 L1901.2,510.3 L1902.2,510.4 L1903.2,510.4 L1904.2,510.5 L1905.2,510.5 L1906.2,510.5 L1907.2,510.6 L1908.2,510.6 L1909.2,510.6 L1910.2,510.7 L1911.2,510.7 L1912.2,510.7 L1913.2,510.8 L1914.2,510.8 L1915.2,510.8 L1916.2,510.8 L1917.2,510.9 L1918.2,510.9 L1919.2,510.9 L1920.2,511.0 L1921.2,511.0 L1922.2,511.0 L1923.2,511.0 L1924.2,511.1 L1925.2,511.1 L1926.2,511.1 L1927.2,511.1 L1928.2,511.2 L1929.2,511.2 L1930.2,511.2 L1931.2,511.2 L1932.2,511.3 L1933.2,511.3 L1934.2,511.3 L1935.2,511.3 L1936.2,511.3 L1937.2,511.4 L1938.2,511.4 L1939.2,511.4 L1940.2,511.4 L1941.2,511.4 L1942.2,511.5 L1943.2,511.5 L1944.2,511.5 L1945.2,511.5 L1946.2,511.5 L1947.2,511.6 L1948.2,511.6 L1949.2,511.6 L1950.2,511.6 L1951.2,511.6 L1952.2,511.6 L1953.2,511.7 L1954.2,511.7 L1955.2,511.7" stroke="#7570B3" stroke-width="4.6"/>
<path d="M1426.2,497.6 L1427.2,497.6 L1428.2,497.6 L1429.2,497.6 L1430.2,497.6 L1431.2,497.6 L1432.2,497.6 L1433.2,497.6 L1434.2,497.6 L1435.2,497.6 L1436.2,497.6 L1437.2,497.6 L1438.2,497.6 L1439.2,497.6 L1440.2,497.6 L1441.2,497.6 L1442.2,497.6 L1443.2,497.6 L1444.2,497.6 L1445.2,497.6 L1446.2,497.6 L1447.2,497.6 L1448.2,497.6 L1449.2,497.6 L1450.2,497.6 L1451.2,497.6 L1452.2,497.6 L1453.2,497.6 L1454.2,497.6 L1455.2,497.6 L1456.2,497.6 L1457.2,497.6 L1458.2,497.6 L1459.2,497.6 L1460.2,497.6 L1461.2,497.6 L1462.2,497.6 L1463.2,497.6 L1464.2,497.6 L1465.2,497.6 L1466.2,497.6 L1467.2,497.6 L1468.2,497.6 L1469.2,497.6 L1470.2,497.6 L1471.2,497.6 L1472.2,497.6 L1473.2,497.6 L1474.2,497.6 L1475.2,497.6 L1476.2,497.6 L1477.2,497.6 L1478.2,497.6 L1479.2,497.6 L1480.2,497.6 L1481.2,497.6 L1482.2,497.6 L1483.2,497.6 L1484.2,497.6 L1485.2,497.6 L1486.2,497.6 L1487.2,497.6 L1488.2,497.6 L1489.2,497.6 L1490.2,497.6 L1491.2,497.6 L1492.2,497.5 L1493.2,497.5 L1494.2,497.5 L1495.2,497.5 L1496.2,497.5 L1497.2,497.5 L1498.2,497.5 L1499.2,497.5 L1500.2,497.5 L1501.2,497.5 L1502.2,497.5 L1503.2,497.5 L1504.2,497.5 L1505.2,497.5 L1506.2,497.5 L1507.2,497.5 L1508.2,497.5 L1509.2,497.5 L1510.2,497.5 L1511.2,497.5 L1512.2,497.5 L1513.2,497.5 L1514.2,497.5 L1515.2,497.5 L1516.2,497.5 L1517.2,497.5 L1518.2,497.5 L1519.2,497.5 L1520.2,497.5 L1521.2,497.5 L1522.2,497.5 L1523.2,497.5 L1524.2,497.5 L1525.2,497.5 L1526.2,497.5 L1527.2,497.5 L1528.2,497.5 L1529.2,497.5 L1530.2,497.5 L1531.2,497.5 L1532.2,497.5 L1533.2,497.5 L1534.2,497.5 L1535.2,497.5 L1536.2,497.5 L1537.2,497.5 L1538.2,497.5 L1539.2,497.4 L1540.2,497.4 L1541.2,497.4 L1542.2,497.4 L1543.2,497.4 L1544.2,497.4 L1545.2,497.4 L1546.2,497.4 L1547.2,497.4 L1548.2,497.4 L1549.2,497.4 L1550.2,497.4 L1551.2,497.4 L1552.2,497.4 L1553.2,497.4 L1554.2,497.4 L1555.2,497.4 L1556.2,497.4 L1557.2,497.4 L1558.2,497.4 L1559.2,497.4 L1560.2,497.4 L1561.2,497.4 L1562.2,497.4 L1563.2,497.4 L1564.2,497.4 L1565.2,497.4 L1566.2,497.4 L1567.2,497.4 L1568.2,497.3 L1569.2,497.3 L1570.2,497.3 L1571.2,497.3 L1572.2,497.3 L1573.2,497.3 L1574.2,497.3 L1575.2,497.2 L1576.2,497.2 L1577.2,497.2 L1578.2,497.2 L1579.2,497.1 L1580.2,497.1 L1581.2,497.1 L1582.2,497.0 L1583.2,497.0 L1584.2,496.9 L1585.2,496.9 L1586.2,496.8 L1587.2,496.7 L1588.2,496.7 L1589.2,496.6 L1590.2,496.5 L1591.2,496.4 L1592.2,496.3 L1593.2,496.1 L1594.2,496.0 L1595.2,495.9 L1596.2,495.7 L1597.2,495.5 L1598.2,495.4 L1599.2,495.2 L1600.2,494.9 L1601.2,494.7 L1602.2,494.4 L1603.2,494.2 L1604.2,493.9 L1605.2,493.6 L1606.2,493.2 L1607.2,492.8 L1608.2,492.4 L1609.2,492.0 L1610.2,491.6 L1611.2,491.1 L1612.2,490.6 L1613.2,490.0 L1614.2,489.4 L1615.2,488.8 L1616.2,488.1 L1617.2,487.4 L1618.2,486.7 L1619.2,485.9 L1620.2,485.1 L1621.2,484.2 L1622.2,483.3 L1623.2,482.3 L1624.2,481.3 L1625.2,480.2 L1626.2,479.0 L1627.2,477.8 L1628.2,476.6 L1629.2,475.3 L1630.2,473.9 L1631.2,472.5 L1632.2,471.0 L1633.2,469.5 L1634.2,467.9 L1635.2,466.2 L1636.2,464.5 L1637.2,462.7 L1638.2,460.8 L1639.2,458.9 L1640.2,457.0 L1641.2,454.9 L1642.2,452.8 L1643.2,450.7 L1644.2,448.5 L1645.2,446.2 L1646.2,443.9 L1647.2,441.5 L1648.2,439.1 L1649.2,436.6 L1650.2,434.1 L1651.2,431.5 L1652.2,428.9 L1653.2,426.3 L1654.2,423.7 L1655.2,421.0 L1656.2,418.2 L1657.2,415.5 L1658.2,412.8 L1659.2,410.0 L1660.2,407.2 L1661.2,404.5 L1662.2,401.7 L1663.2,399.0 L1664.2,396.2 L1665.2,393.5 L1666.2,390.8 L1667.2,388.2 L1668.2,385.6 L1669.2,383.0 L1670.2,380.5 L1671.2,378.0 L1672.2,375.6 L1673.2,373.3 L1674.2,371.0 L1675.2,368.9 L1676.2,366.8 L1677.2,364.8 L1678.2,362.9 L1679.2,361.1 L1680.2,359.4 L1681.2,357.8 L1682.2,356.4 L1683.2,355.0 L1684.2,353.8 L1685.2,352.8 L1686.2,351.8 L1687.2,351.0 L1688.2,350.3 L1689.2,349.8 L1690.2,349.4 L1691.2,349.2 L1692.2,349.1 L1693.2,349.2 L1694.2,349.4 L1695.2,349.7 L1696.2,350.2 L1697.2,350.9 L1698.2,351.7 L1699.2,352.6 L1700.2,353.6 L1701.2,354.8 L1702.2,356.2 L1703.2,357.6 L1704.2,359.2 L1705.2,360.9 L1706.2,362.7 L1707.2,364.6 L1708.2,366.6 L1709.2,368.7 L1710.2,370.9 L1711.2,373.2 L1712.2,375.6 L1713.2,378.1 L1714.2,380.6 L1715.2,383.2 L1716.2,385.8 L1717.2,388.5 L1718.2,391.2 L1719.2,394.0 L1720.2,396.8 L1721.2,399.7 L1722.2,402.5 L1723.2,405.4 L1724.2,408.3 L1725.2,411.2 L1726.2,414.1 L1727.2,416.9 L1728.2,419.8 L1729.2,422.7 L1730.2,425.5 L1731.2,428.4 L1732.2,431.2 L1733.2,433.9 L1734.2,436.7 L1735.2,439.4 L1736.2,442.0 L1737.2,444.6 L1738.2,447.2 L1739.2,449.7 L1740.2,452.2 L1741.2,454.6 L1742.2,456.9 L1743.2,459.2 L1744.2,461.5 L1745.2,463.7 L1746.2,465.8 L1747.2,467.9 L1748.2,469.9 L1749.2,471.8 L1750.2,473.7 L1751.2,475.5 L1752.2,477.3 L1753.2,479.0 L1754.2,480.6 L1755.2,482.2 L1756.2,483.8 L1757.2,485.2 L1758.2,486.6 L1759.2,488.0 L1760.2,489.3 L1761.2,490.5 L1762.2,491.7 L1763.2,492.8 L1764.2,493.9 L1765.2,495.0 L1766.2,495.9 L1767.2,496.9 L1768.2,497.8 L1769.2,498.6 L1770.2,499.4 L1771.2,500.2 L1772.2,500.9 L1773.2,501.6 L1774.2,502.3 L1775.2,502.9 L1776.2,503.5 L1777.2,504.0 L1778.2,504.6 L1779.2,505.0 L1780.2,505.5 L1781.2,505.9 L1782.2,506.4 L1783.2,506.7 L1784.2,507.1 L1785.2,507.5 L1786.2,507.8 L1787.2,508.1 L1788.2,508.4 L1789.2,508.6 L1790.2,508.9 L1791.2,509.1 L1792.2,509.3 L1793.2,509.5 L1794.2,509.7 L1795.2,509.9 L1796.2,510.1 L1797.2,510.2 L1798.2,510.4 L1799.2,510.5 L1800.2,510.6 L1801.2,510.7 L1802.2,510.9 L1803.2,511.0 L1804.2,511.1 L1805.2,511.1 L1806.2,511.2 L1807.2,511.3 L1808.2,511.4 L1809.2,511.4 L1810.2,511.5 L1811.2,511.6 L1812.2,511.6 L1813.2,511.7 L1814.2,511.7 L1815.2,511.8 L1816.2,511.8 L1817.2,511.9 L1818.2,511.9 L1819.2,511.9 L1820.2,512.0 L1821.2,512.0 L1822.2,512.0 L1823.2,512.1 L1824.2,512.1 L1825.2,512.1 L1826.2,512.1 L1827.2,512.2 L1828.2,512.2 L1829.2,512.2 L1830.2,512.2 L1831.2,512.2 L1832.2,512.2 L1833.2,512.3 L1834.2,512.3 L1835.2,512.3 L1836.2,512.3 L1837.2,512.3 L1838.2,512.3 L1839.2,512.4 L1840.2,512.4 L1841.2,512.4 L1842.2,512.4 L1843.2,512.4 L1844.2,512.4 L1845.2,512.4 L1846.2,512.4 L1847.2,512.4 L1848.2,512.5 L1849.2,512.5 L1850.2,512.5 L1851.2,512.5 L1852.2,512.5 L1853.2,512.5 L1854.2,512.5 L1855.2,512.5 L1856.2,512.5 L1857.2,512.5 L1858.2,512.5 L1859.2,512.6 L1860.2,512.6 L1861.2,512.6 L1862.2,512.6 L1863.2,512.6 L1864.2,512.6 L1865.2,512.6 L1866.2,512.6 L1867.2,512.6 L1868.2,512.6 L1869.2,512.6 L1870.2,512.6 L1871.2,512.6 L1872.2,512.7 L1873.2,512.7 L1874.2,512.7 L1875.2,512.7 L1876.2,512.7 L1877.2,512.7 L1878.2,512.7 L1879.2,512.7 L1880.2,512.7 L1881.2,512.7 L1882.2,512.7 L1883.2,512.7 L1884.2,512.7 L1885.2,512.7 L1886.2,512.7 L1887.2,512.7 L1888.2,512.7 L1889.2,512.7 L1890.2,512.8 L1891.2,512.8 L1892.2,512.8 L1893.2,512.8 L1894.2,512.8 L1895.2,512.8 L1896.2,512.8 L1897.2,512.8 L1898.2,512.8 L1899.2,512.8 L1900.2,512.8 L1901.2,512.8 L1902.2,512.8 L1903.2,512.8 L1904.2,512.8 L1905.2,512.8 L1906.2,512.8 L1907.2,512.8 L1908.2,512.8 L1909.2,512.8 L1910.2,512.8 L1911.2,512.8 L1912.2,512.8 L1913.2,512.8 L1914.2,512.9 L1915.2,512.9 L1916.2,512.9 L1917.2,512.9 L1918.2,512.9 L1919.2,512.9 L1920.2,512.9 L1921.2,512.9 L1922.2,512.9 L1923.2,512.9 L1924.2,512.9 L1925.2,512.9 L1926.2,512.9 L1927.2,512.9 L1928.2,512.9 L1929.2,512.9 L1930.2,512.9 L1931.2,512.9 L1932.2,512.9 L1933.2,512.9 L1934.2,512.9 L1935.2,512.9 L1936.2,512.9 L1937.2,512.9 L1938.2,512.9 L1939.2,512.9 L1940.2,512.9 L1941.2,512.9 L1942.2,512.9 L1943.2,512.9 L1944.2,512.9 L1945.2,512.9 L1946.2,512.9 L1947.2,513.0 L1948.2,513.0 L1949.2,513.0 L1950.2,513.0 L1951.2,513.0 L1952.2,513.0 L1953.2,513.0 L1954.2,513.0 L1955.2,513.0" stroke="#E7298A" stroke-width="4.6"/>
<path d="M1426.2,496.3 L1427.2,496.3 L1428.2,496.3 L1429.2,496.3 L1430.2,496.3 L1431.2,496.3 L1432.2,496.3 L1433.2,496.2 L1434.2,496.2 L1435.2,496.2 L1436.2,496.2 L1437.2,496.2 L1438.2,496.2 L1439.2,496.1 L1440.2,496.1 L1441.2,496.1 L1442.2,496.1 L1443.2,496.1 L1444.2,496.1 L1445.2,496.0 L1446.2,496.0 L1447.2,496.0 L1448.2,496.0 L1449.2,496.0 L1450.2,495.9 L1451.2,495.9 L1452.2,495.9 L1453.2,495.9 L1454.2,495.9 L1455.2,495.8 L1456.2,495.8 L1457.2,495.8 L1458.2,495.8 L1459.2,495.7 L1460.2,495.7 L1461.2,495.7 L1462.2,495.7 L1463.2,495.6 L1464.2,495.6 L1465.2,495.6 L1466.2,495.6 L1467.2,495.5 L1468.2,495.5 L1469.2,495.5 L1470.2,495.5 L1471.2,495.4 L1472.2,495.4 L1473.2,495.4 L1474.2,495.3 L1475.2,495.3 L1476.2,495.3 L1477.2,495.2 L1478.2,495.2 L1479.2,495.2 L1480.2,495.1 L1481.2,495.1 L1482.2,495.0 L1483.2,495.0 L1484.2,495.0 L1485.2,494.9 L1486.2,494.9 L1487.2,494.8 L1488.2,494.8 L1489.2,494.7 L1490.2,494.7 L1491.2,494.6 L1492.2,494.6 L1493.2,494.5 L1494.2,494.5 L1495.2,494.4 L1496.2,494.3 L1497.2,494.3 L1498.2,494.2 L1499.2,494.1 L1500.2,494.1 L1501.2,494.0 L1502.2,493.9 L1503.2,493.8 L1504.2,493.7 L1505.2,493.6 L1506.2,493.5 L1507.2,493.4 L1508.2,493.3 L1509.2,493.2 L1510.2,493.1 L1511.2,493.0 L1512.2,492.8 L1513.2,492.7 L1514.2,492.5 L1515.2,492.4 L1516.2,492.2 L1517.2,492.1 L1518.2,491.9 L1519.2,491.7 L1520.2,491.5 L1521.2,491.3 L1522.2,491.1 L1523.2,490.8 L1524.2,490.6 L1525.2,490.3 L1526.2,490.0 L1527.2,489.7 L1528.2,489.4 L1529.2,489.1 L1530.2,488.8 L1531.2,488.4 L1532.2,488.0 L1533.2,487.6 L1534.2,487.2 L1535.2,486.8 L1536.2,486.3 L1537.2,485.8 L1538.2,485.3 L1539.2,484.8 L1540.2,484.2 L1541.2,483.6 L1542.2,483.0 L1543.2,482.3 L1544.2,481.7 L1545.2,480.9 L1546.2,480.2 L1547.2,479.4 L1548.2,478.6 L1549.2,477.8 L1550.2,476.9 L1551.2,476.0 L1552.2,475.0 L1553.2,474.0 L1554.2,473.0 L1555.2,471.9 L1556.2,470.8 L1557.2,469.7 L1558.2,468.5 L1559.2,467.2 L1560.2,466.0 L1561.2,464.6 L1562.2,463.3 L1563.2,461.9 L1564.2,460.4 L1565.2,458.9 L1566.2,457.4 L1567.2,455.9 L1568.2,454.2 L1569.2,452.6 L1570.2,450.9 L1571.2,449.2 L1572.2,447.4 L1573.2,445.6 L1574.2,443.8 L1575.2,441.9 L1576.2,440.0 L1577.2,438.1 L1578.2,436.1 L1579.2,434.1 L1580.2,432.1 L1581.2,430.0 L1582.2,428.0 L1583.2,425.9 L1584.2,423.8 L1585.2,421.7 L1586.2,419.6 L1587.2,417.4 L1588.2,415.3 L1589.2,413.2 L1590.2,411.1 L1591.2,408.9 L1592.2,406.8 L1593.2,404.7 L1594.2,402.7 L1595.2,400.6 L1596.2,398.6 L1597.2,396.6 L1598.2,394.6 L1599.2,392.7 L1600.2,390.8 L1601.2,389.0 L1602.2,387.2 L1603.2,385.5 L1604.2,383.9 L1605.2,382.3 L1606.2,380.8 L1607.2,379.4 L1608.2,378.0 L1609.2,376.8 L1610.2,375.6 L1611.2,374.6 L1612.2,373.6 L1613.2,372.8 L1614.2,372.0 L1615.2,371.4 L1616.2,370.9 L1617.2,370.5 L1618.2,370.2 L1619.2,370.0 L1620.2,370.0 L1621.2,370.0 L1622.2,370.2 L1623.2,370.5 L1624.2,371.0 L1625.2,371.5 L1626.2,372.2 L1627.2,373.0 L1628.2,373.8 L1629.2,374.8 L1630.2,375.9 L1631.2,377.1 L1632.2,378.4 L1633.2,379.8 L1634.2,381.3 L1635.2,382.8 L1636.2,384.4 L1637.2,386.1 L1638.2,387.9 L1639.2,389.7 L1640.2,391.6 L1641.2,393.5 L1642.2,395.5 L1643.2,397.6 L1644.2,399.6 L1645.2,401.7 L1646.2,403.9 L1647.2,406.0 L1648.2,408.2 L1649.2,410.4 L1650.2,412.6 L1651.2,414.8 L1652.2,417.0 L1653.2,419.2 L1654.2,421.4 L1655.2,423.7 L1656.2,425.9 L1657.2,428.0 L1658.2,430.2 L1659.2,432.4 L1660.2,434.5 L1661.2,436.6 L1662.2,438.7 L1663.2,440.8 L1664.2,442.8 L1665.2,444.8 L1666.2,446.8 L1667.2,448.7 L1668.2,450.6 L1669.2,452.5 L1670.2,454.3 L1671.2,456.1 L1672.2,457.9 L1673.2,459.6 L1674.2,461.3 L1675.2,462.9 L1676.2,464.5 L1677.2,466.0 L1678.2,467.5 L1679.2,469.0 L1680.2,470.4 L1681.2,471.8 L1682.2,473.1 L1683.2,474.4 L1684.2,475.7 L1685.2,476.9 L1686.2,478.1 L1687.2,479.2 L1688.2,480.3 L1689.2,481.3 L1690.2,482.4 L1691.2,483.3 L1692.2,484.3 L1693.2,485.2 L1694.2,486.1 L1695.2,486.9 L1696.2,487.7 L1697.2,488.5 L1698.2,489.2 L1699.2,489.9 L1700.2,490.6 L1701.2,491.3 L1702.2,491.9 L1703.2,492.5 L1704.2,493.1 L1705.2,493.6 L1706.2,494.1 L1707.2,494.6 L1708.2,495.1 L1709.2,495.6 L1710.2,496.0 L1711.2,496.5 L1712.2,496.9 L1713.2,497.2 L1714.2,497.6 L1715.2,498.0 L1716.2,498.3 L1717.2,498.6 L1718.2,499.0 L1719.2,499.3 L1720.2,499.5 L1721.2,499.8 L1722.2,500.1 L1723.2,500.4 L1724.2,500.6 L1725.2,500.8 L1726.2,501.1 L1727.2,501.3 L1728.2,501.5 L1729.2,501.7 L1730.2,501.9 L1731.2,502.1 L1732.2,502.3 L1733.2,502.5 L1734.2,502.7 L1735.2,502.9 L1736.2,503.1 L1737.2,503.2 L1738.2,503.4 L1739.2,503.6 L1740.2,503.8 L1741.2,503.9 L1742.2,504.1 L1743.2,504.2 L1744.2,504.4 L1745.2,504.6 L1746.2,504.7 L1747.2,504.9 L1748.2,505.0 L1749.2,505.2 L1750.2,505.3 L1751.2,505.5 L1752.2,505.6 L1753.2,505.8 L1754.2,505.9 L1755.2,506.1 L1756.2,506.2 L1757.2,506.4 L1758.2,506.5 L1759.2,506.6 L1760.2,506.8 L1761.2,506.9 L1762.2,507.1 L1763.2,507.2 L1764.2,507.3 L1765.2,507.5 L1766.2,507.6 L1767.2,507.7 L1768.2,507.9 L1769.2,508.0 L1770.2,508.1 L1771.2,508.2 L1772.2,508.3 L1773.2,508.5 L1774.2,508.6 L1775.2,508.7 L1776.2,508.8 L1777.2,508.9 L1778.2,509.0 L1779.2,509.1 L1780.2,509.2 L1781.2,509.3 L1782.2,509.4 L1783.2,509.5 L1784.2,509.6 L1785.2,509.7 L1786.2,509.8 L1787.2,509.9 L1788.2,509.9 L1789.2,510.0 L1790.2,510.1 L1791.2,510.2 L1792.2,510.2 L1793.2,510.3 L1794.2,510.4 L1795.2,510.4 L1796.2,510.5 L1797.2,510.6 L1798.2,510.6 L1799.2,510.7 L1800.2,510.7 L1801.2,510.8 L1802.2,510.8 L1803.2,510.9 L1804.2,510.9 L1805.2,511.0 L1806.2,511.0 L1807.2,511.0 L1808.2,511.1 L1809.2,511.1 L1810.2,511.1 L1811.2,511.2 L1812.2,511.2 L1813.2,511.2 L1814.2,511.3 L1815.2,511.3 L1816.2,511.3 L1817.2,511.4 L1818.2,511.4 L1819.2,511.4 L1820.2,511.4 L1821.2,511.5 L1822.2,511.5 L1823.2,511.5 L1824.2,511.5 L1825.2,511.6 L1826.2,511.6 L1827.2,511.6 L1828.2,511.6 L1829.2,511.6 L1830.2,511.7 L1831.2,511.7 L1832.2,511.7 L1833.2,511.7 L1834.2,511.7 L1835.2,511.7 L1836.2,511.8 L1837.2,511.8 L1838.2,511.8 L1839.2,511.8 L1840.2,511.8 L1841.2,511.8 L1842.2,511.8 L1843.2,511.9 L1844.2,511.9 L1845.2,511.9 L1846.2,511.9 L1847.2,511.9 L1848.2,511.9 L1849.2,511.9 L1850.2,511.9 L1851.2,512.0 L1852.2,512.0 L1853.2,512.0 L1854.2,512.0 L1855.2,512.0 L1856.2,512.0 L1857.2,512.0 L1858.2,512.0 L1859.2,512.0 L1860.2,512.1 L1861.2,512.1 L1862.2,512.1 L1863.2,512.1 L1864.2,512.1 L1865.2,512.1 L1866.2,512.1 L1867.2,512.1 L1868.2,512.1 L1869.2,512.1 L1870.2,512.2 L1871.2,512.2 L1872.2,512.2 L1873.2,512.2 L1874.2,512.2 L1875.2,512.2 L1876.2,512.2 L1877.2,512.2 L1878.2,512.2 L1879.2,512.2 L1880.2,512.2 L1881.2,512.3 L1882.2,512.3 L1883.2,512.3 L1884.2,512.3 L1885.2,512.3 L1886.2,512.3 L1887.2,512.3 L1888.2,512.3 L1889.2,512.3 L1890.2,512.3 L1891.2,512.3 L1892.2,512.3 L1893.2,512.3 L1894.2,512.3 L1895.2,512.4 L1896.2,512.4 L1897.2,512.4 L1898.2,512.4 L1899.2,512.4 L1900.2,512.4 L1901.2,512.4 L1902.2,512.4 L1903.2,512.4 L1904.2,512.4 L1905.2,512.4 L1906.2,512.4 L1907.2,512.4 L1908.2,512.4 L1909.2,512.4 L1910.2,512.4 L1911.2,512.5 L1912.2,512.5 L1913.2,512.5 L1914.2,512.5 L1915.2,512.5 L1916.2,512.5 L1917.2,512.5 L1918.2,512.5 L1919.2,512.5 L1920.2,512.5 L1921.2,512.5 L1922.2,512.5 L1923.2,512.5 L1924.2,512.5 L1925.2,512.5 L1926.2,512.5 L1927.2,512.5 L1928.2,512.5 L1929.2,512.5 L1930.2,512.6 L1931.2,512.6 L1932.2,512.6 L1933.2,512.6 L1934.2,512.6 L1935.2,512.6 L1936.2,512.6 L1937.2,512.6 L1938.2,512.6 L1939.2,512.6 L1940.2,512.6 L1941.2,512.6 L1942.2,512.6 L1943.2,512.6 L1944.2,512.6 L1945.2,512.6 L1946.2,512.6 L1947.2,512.6 L1948.2,512.6 L1949.2,512.6 L1950.2,512.6 L1951.2,512.6 L1952.2,512.6 L1953.2,512.7 L1954.2,512.7 L1955.2,512.7" stroke="#66A61E" stroke-width="4.6"/>
</g>
<rect x="1393.8" y="12.3" width="601.3" height="547.7" fill="none" stroke="#222222" stroke-width="1.8"/>
<g><line x1="1420.1" x2="1420.1" y1="560.0" y2="566.0" stroke="#222222" stroke-width="2"/><text transform="translate(1420.1,590.3) scale(1,1.06)" text-anchor="middle" font-size="28.4" fill="#4D4D4D">401</text><line x1="1541.92" x2="1541.92" y1="560.0" y2="566.0" stroke="#222222" stroke-width="2"/><text transform="translate(1541.92,590.3) scale(1,1.06)" text-anchor="middle" font-size="28.4" fill="#4D4D4D">399</text><line x1="1663.74" x2="1663.74" y1="560.0" y2="566.0" stroke="#222222" stroke-width="2"/><text transform="translate(1663.74,590.3) scale(1,1.06)" text-anchor="middle" font-size="28.4" fill="#4D4D4D">397</text><line x1="1785.56" x2="1785.56" y1="560.0" y2="566.0" stroke="#222222" stroke-width="2"/><text transform="translate(1785.56,590.3) scale(1,1.06)" text-anchor="middle" font-size="28.4" fill="#4D4D4D">395</text><line x1="1907.38" x2="1907.38" y1="560.0" y2="566.0" stroke="#222222" stroke-width="2"/><text transform="translate(1907.38,590.3) scale(1,1.06)" text-anchor="middle" font-size="28.4" fill="#4D4D4D">393</text><line x1="1386.8" x2="1393.8" y1="518.4" y2="518.4" stroke="#222222" stroke-width="2"/><line x1="1386.8" x2="1393.8" y1="371.7" y2="371.7" stroke="#222222" stroke-width="2"/><line x1="1386.8" x2="1393.8" y1="225.0" y2="225.0" stroke="#222222" stroke-width="2"/><line x1="1386.8" x2="1393.8" y1="78.3" y2="78.3" stroke="#222222" stroke-width="2"/></g>
<text x="1694.4" y="626.7" text-anchor="middle" font-size="35.5" fill="#000">Binding Energy (eV)</text>
<text transform="translate(1374.6,286) rotate(-90)" text-anchor="middle" font-size="35.5" fill="#000">Intensity (au)</text>
<text transform="translate(1356.6,49.9) scale(1.0,1)" font-size="46" font-weight="bold" fill="#000">c</text>
<text x="1381.8" y="49.9" font-size="45" fill="#000">)</text>
<line x1="1619.9" x2="1619.9" y1="535.2" y2="170.5" stroke="#66A61E" stroke-width="2.2"/>
<text transform="translate(1625.6,169.6) rotate(-90) scale(1,1.05)" font-size="28.4" fill="#66A61E"><tspan>ZrO</tspan><tspan font-size="19.9" dy="4.3">x</tspan><tspan dy="-4.3">N</tspan><tspan font-size="19.9" dy="4.3">y</tspan></text>
<line x1="1693.7" x2="1693.7" y1="535.2" y2="170.5" stroke="#E7298A" stroke-width="2.2"/>
<text transform="translate(1703.1,169.6) rotate(-90) scale(1,1.05)" font-size="28.4" fill="#E7298A"><tspan>ZrNO</tspan></text>
<line x1="1761.0" x2="1761.0" y1="535.2" y2="170.5" stroke="#7570B3" stroke-width="2.2"/>
<text transform="translate(1770.4,169.6) rotate(-90) scale(1,1.05)" font-size="28.4" fill="#7570B3"><tspan>ZrN</tspan></text>
</svg>
</body></html>
